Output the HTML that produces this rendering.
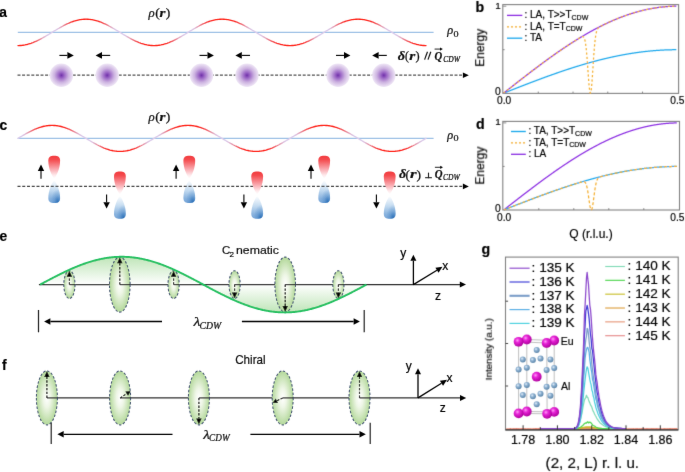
<!DOCTYPE html>
<html><head><meta charset="utf-8"><title>Figure</title>
<style>html,body{margin:0;padding:0;background:#fff;width:685px;height:472px;overflow:hidden;font-family:"Liberation Sans", sans-serif;} svg{display:block;}</style>
</head><body>
<svg width="685" height="472" viewBox="0 0 685 472"><style>.s{font-family:"Liberation Sans",sans-serif}.r{font-family:"Liberation Serif",serif}text{filter:url(#gs)}text.s{stroke:#000;stroke-width:0.18px}text.r{stroke:#000;stroke-width:0.2px}</style><defs><filter id="softL" filterUnits="userSpaceOnUse" x="0" y="0" width="685" height="472"><feConvolveMatrix order="3" kernelMatrix="0.0028 0.0470 0.0028 0.0470 0.8008 0.0470 0.0028 0.0470 0.0028" divisor="1" edgeMode="duplicate"/></filter><filter id="softR" filterUnits="userSpaceOnUse" x="0" y="0" width="685" height="472"><feConvolveMatrix order="3" kernelMatrix="0.0113 0.0838 0.0113 0.0838 0.6193 0.0838 0.0113 0.0838 0.0113" divisor="1" edgeMode="duplicate"/></filter><filter id="gs" x="-20%" y="-20%" width="140%" height="140%"><feColorMatrix type="saturate" values="0"/></filter>
<radialGradient id="gPurple" cx="50%" cy="50%" r="50%">
  <stop offset="0" stop-color="#7030aa"/>
  <stop offset="0.25" stop-color="#9c68c6"/>
  <stop offset="0.6" stop-color="#ccb2e0"/>
  <stop offset="1" stop-color="#efe7f6"/>
</radialGradient>
<linearGradient id="gRed" x1="0" y1="0" x2="0" y2="1">
  <stop offset="0" stop-color="#f23a3c"/>
  <stop offset="0.18" stop-color="#f44c50"/>
  <stop offset="0.55" stop-color="#f9a2a8"/>
  <stop offset="0.85" stop-color="#feeaec"/>
  <stop offset="1" stop-color="#ffffff"/>
</linearGradient>
<linearGradient id="gBlue" x1="0" y1="1" x2="0" y2="0">
  <stop offset="0" stop-color="#78a6d8"/>
  <stop offset="0.2" stop-color="#88b2de"/>
  <stop offset="0.55" stop-color="#c2daf0"/>
  <stop offset="0.85" stop-color="#eaf2fa"/>
  <stop offset="1" stop-color="#ffffff"/>
</linearGradient>
<radialGradient id="gBlue2" cx="0.8" cy="0.98" r="0.6" fx="0.8" fy="0.98">
  <stop offset="0" stop-color="#1c64b0" stop-opacity="0.85"/>
  <stop offset="0.5" stop-color="#2a70b8" stop-opacity="0.3"/>
  <stop offset="1" stop-color="#2a70b8" stop-opacity="0"/>
</radialGradient>
<radialGradient id="gEll" cx="50%" cy="50%" r="50%">
  <stop offset="0" stop-color="#ffffff"/>
  <stop offset="0.35" stop-color="#eef6e6"/>
  <stop offset="1" stop-color="#b3d89a"/>
</radialGradient>
<linearGradient id="gWaveUp" x1="0" y1="0" x2="0" y2="1">
  <stop offset="0" stop-color="#bfe5b8"/>
  <stop offset="1" stop-color="#ffffff"/>
</linearGradient>
<linearGradient id="gWaveDn" x1="0" y1="1" x2="0" y2="0">
  <stop offset="0" stop-color="#bfe5b8"/>
  <stop offset="1" stop-color="#ffffff"/>
</linearGradient>
<radialGradient id="gEu" cx="38%" cy="35%" r="65%">
  <stop offset="0" stop-color="#ff9cf6"/>
  <stop offset="0.35" stop-color="#e824d8"/>
  <stop offset="1" stop-color="#b0009e"/>
</radialGradient>
<radialGradient id="gAl" cx="38%" cy="35%" r="65%">
  <stop offset="0" stop-color="#e4eef8"/>
  <stop offset="0.4" stop-color="#8fb3d3"/>
  <stop offset="1" stop-color="#5a84a8"/>
</radialGradient>
<linearGradient id="rw1" gradientUnits="userSpaceOnUse" x1="18" y1="0" x2="426" y2="0"><stop offset="0.0000" stop-color="#ff2018"/><stop offset="0.0042" stop-color="#ff2018"/><stop offset="0.0083" stop-color="#ff2018"/><stop offset="0.0125" stop-color="#ff2119"/><stop offset="0.0167" stop-color="#ff221a"/><stop offset="0.0208" stop-color="#fe241d"/><stop offset="0.0250" stop-color="#fd2821"/><stop offset="0.0292" stop-color="#fc2e29"/><stop offset="0.0333" stop-color="#fa3633"/><stop offset="0.0375" stop-color="#f84141"/><stop offset="0.0417" stop-color="#f54f52"/><stop offset="0.0458" stop-color="#f15f66"/><stop offset="0.0500" stop-color="#ed717c"/><stop offset="0.0542" stop-color="#e98594"/><stop offset="0.0583" stop-color="#e598ad"/><stop offset="0.0625" stop-color="#e1abc3"/><stop offset="0.0667" stop-color="#ddbad7"/><stop offset="0.0708" stop-color="#dbc5e4"/><stop offset="0.0750" stop-color="#dacaea"/><stop offset="0.0792" stop-color="#dacaea"/><stop offset="0.0833" stop-color="#dacaea"/><stop offset="0.0875" stop-color="#dacaea"/><stop offset="0.0917" stop-color="#dacaea"/><stop offset="0.0958" stop-color="#dbc5e4"/><stop offset="0.1000" stop-color="#ddbad7"/><stop offset="0.1042" stop-color="#e1abc3"/><stop offset="0.1083" stop-color="#e598ad"/><stop offset="0.1125" stop-color="#e98594"/><stop offset="0.1167" stop-color="#ed717c"/><stop offset="0.1208" stop-color="#f15f66"/><stop offset="0.1250" stop-color="#f54f52"/><stop offset="0.1292" stop-color="#f84141"/><stop offset="0.1333" stop-color="#fa3633"/><stop offset="0.1375" stop-color="#fc2e29"/><stop offset="0.1417" stop-color="#fd2821"/><stop offset="0.1458" stop-color="#fe241d"/><stop offset="0.1500" stop-color="#ff221a"/><stop offset="0.1542" stop-color="#ff2119"/><stop offset="0.1583" stop-color="#ff2018"/><stop offset="0.1625" stop-color="#ff2018"/><stop offset="0.1667" stop-color="#ff2018"/><stop offset="0.1708" stop-color="#ff2018"/><stop offset="0.1750" stop-color="#ff2018"/><stop offset="0.1792" stop-color="#ff2119"/><stop offset="0.1833" stop-color="#ff221a"/><stop offset="0.1875" stop-color="#fe241d"/><stop offset="0.1917" stop-color="#fd2821"/><stop offset="0.1958" stop-color="#fc2e29"/><stop offset="0.2000" stop-color="#fa3633"/><stop offset="0.2042" stop-color="#f84141"/><stop offset="0.2083" stop-color="#f54f52"/><stop offset="0.2125" stop-color="#f15f66"/><stop offset="0.2167" stop-color="#ed717c"/><stop offset="0.2208" stop-color="#e98594"/><stop offset="0.2250" stop-color="#e598ad"/><stop offset="0.2292" stop-color="#e1abc3"/><stop offset="0.2333" stop-color="#ddbad7"/><stop offset="0.2375" stop-color="#dbc5e4"/><stop offset="0.2417" stop-color="#dacaea"/><stop offset="0.2458" stop-color="#dacaea"/><stop offset="0.2500" stop-color="#dacaea"/><stop offset="0.2542" stop-color="#dacaea"/><stop offset="0.2583" stop-color="#dacaea"/><stop offset="0.2625" stop-color="#dbc5e4"/><stop offset="0.2667" stop-color="#ddbad7"/><stop offset="0.2708" stop-color="#e1abc3"/><stop offset="0.2750" stop-color="#e598ad"/><stop offset="0.2792" stop-color="#e98594"/><stop offset="0.2833" stop-color="#ed717c"/><stop offset="0.2875" stop-color="#f15f66"/><stop offset="0.2917" stop-color="#f54f52"/><stop offset="0.2958" stop-color="#f84141"/><stop offset="0.3000" stop-color="#fa3633"/><stop offset="0.3042" stop-color="#fc2e29"/><stop offset="0.3083" stop-color="#fd2821"/><stop offset="0.3125" stop-color="#fe241d"/><stop offset="0.3167" stop-color="#ff221a"/><stop offset="0.3208" stop-color="#ff2119"/><stop offset="0.3250" stop-color="#ff2018"/><stop offset="0.3292" stop-color="#ff2018"/><stop offset="0.3333" stop-color="#ff2018"/><stop offset="0.3375" stop-color="#ff2018"/><stop offset="0.3417" stop-color="#ff2018"/><stop offset="0.3458" stop-color="#ff2119"/><stop offset="0.3500" stop-color="#ff221a"/><stop offset="0.3542" stop-color="#fe241d"/><stop offset="0.3583" stop-color="#fd2821"/><stop offset="0.3625" stop-color="#fc2e29"/><stop offset="0.3667" stop-color="#fa3633"/><stop offset="0.3708" stop-color="#f84141"/><stop offset="0.3750" stop-color="#f54f52"/><stop offset="0.3792" stop-color="#f15f66"/><stop offset="0.3833" stop-color="#ed717c"/><stop offset="0.3875" stop-color="#e98594"/><stop offset="0.3917" stop-color="#e598ad"/><stop offset="0.3958" stop-color="#e1abc3"/><stop offset="0.4000" stop-color="#ddbad7"/><stop offset="0.4042" stop-color="#dbc5e4"/><stop offset="0.4083" stop-color="#dacaea"/><stop offset="0.4125" stop-color="#dacaea"/><stop offset="0.4167" stop-color="#dacaea"/><stop offset="0.4208" stop-color="#dacaea"/><stop offset="0.4250" stop-color="#dacaea"/><stop offset="0.4292" stop-color="#dbc5e4"/><stop offset="0.4333" stop-color="#ddbad7"/><stop offset="0.4375" stop-color="#e1abc3"/><stop offset="0.4417" stop-color="#e598ad"/><stop offset="0.4458" stop-color="#e98594"/><stop offset="0.4500" stop-color="#ed717c"/><stop offset="0.4542" stop-color="#f15f66"/><stop offset="0.4583" stop-color="#f54f52"/><stop offset="0.4625" stop-color="#f84141"/><stop offset="0.4667" stop-color="#fa3633"/><stop offset="0.4708" stop-color="#fc2e29"/><stop offset="0.4750" stop-color="#fd2821"/><stop offset="0.4792" stop-color="#fe241d"/><stop offset="0.4833" stop-color="#ff221a"/><stop offset="0.4875" stop-color="#ff2119"/><stop offset="0.4917" stop-color="#ff2018"/><stop offset="0.4958" stop-color="#ff2018"/><stop offset="0.5000" stop-color="#ff2018"/><stop offset="0.5042" stop-color="#ff2018"/><stop offset="0.5083" stop-color="#ff2018"/><stop offset="0.5125" stop-color="#ff2119"/><stop offset="0.5167" stop-color="#ff221a"/><stop offset="0.5208" stop-color="#fe241d"/><stop offset="0.5250" stop-color="#fd2821"/><stop offset="0.5292" stop-color="#fc2e29"/><stop offset="0.5333" stop-color="#fa3633"/><stop offset="0.5375" stop-color="#f84141"/><stop offset="0.5417" stop-color="#f54f52"/><stop offset="0.5458" stop-color="#f15f66"/><stop offset="0.5500" stop-color="#ed717c"/><stop offset="0.5542" stop-color="#e98594"/><stop offset="0.5583" stop-color="#e598ad"/><stop offset="0.5625" stop-color="#e1abc3"/><stop offset="0.5667" stop-color="#ddbad7"/><stop offset="0.5708" stop-color="#dbc5e4"/><stop offset="0.5750" stop-color="#dacaea"/><stop offset="0.5792" stop-color="#dacaea"/><stop offset="0.5833" stop-color="#dacaea"/><stop offset="0.5875" stop-color="#dacaea"/><stop offset="0.5917" stop-color="#dacaea"/><stop offset="0.5958" stop-color="#dbc5e4"/><stop offset="0.6000" stop-color="#ddbad7"/><stop offset="0.6042" stop-color="#e1abc3"/><stop offset="0.6083" stop-color="#e598ad"/><stop offset="0.6125" stop-color="#e98594"/><stop offset="0.6167" stop-color="#ed717c"/><stop offset="0.6208" stop-color="#f15f66"/><stop offset="0.6250" stop-color="#f54f52"/><stop offset="0.6292" stop-color="#f84141"/><stop offset="0.6333" stop-color="#fa3633"/><stop offset="0.6375" stop-color="#fc2e29"/><stop offset="0.6417" stop-color="#fd2821"/><stop offset="0.6458" stop-color="#fe241d"/><stop offset="0.6500" stop-color="#ff221a"/><stop offset="0.6542" stop-color="#ff2119"/><stop offset="0.6583" stop-color="#ff2018"/><stop offset="0.6625" stop-color="#ff2018"/><stop offset="0.6667" stop-color="#ff2018"/><stop offset="0.6708" stop-color="#ff2018"/><stop offset="0.6750" stop-color="#ff2018"/><stop offset="0.6792" stop-color="#ff2119"/><stop offset="0.6833" stop-color="#ff221a"/><stop offset="0.6875" stop-color="#fe241d"/><stop offset="0.6917" stop-color="#fd2821"/><stop offset="0.6958" stop-color="#fc2e29"/><stop offset="0.7000" stop-color="#fa3633"/><stop offset="0.7042" stop-color="#f84141"/><stop offset="0.7083" stop-color="#f54f52"/><stop offset="0.7125" stop-color="#f15f66"/><stop offset="0.7167" stop-color="#ed717c"/><stop offset="0.7208" stop-color="#e98594"/><stop offset="0.7250" stop-color="#e598ad"/><stop offset="0.7292" stop-color="#e1abc3"/><stop offset="0.7333" stop-color="#ddbad7"/><stop offset="0.7375" stop-color="#dbc5e4"/><stop offset="0.7417" stop-color="#dacaea"/><stop offset="0.7458" stop-color="#dacaea"/><stop offset="0.7500" stop-color="#dacaea"/><stop offset="0.7542" stop-color="#dacaea"/><stop offset="0.7583" stop-color="#dacaea"/><stop offset="0.7625" stop-color="#dbc5e4"/><stop offset="0.7667" stop-color="#ddbad7"/><stop offset="0.7708" stop-color="#e1abc3"/><stop offset="0.7750" stop-color="#e598ad"/><stop offset="0.7792" stop-color="#e98594"/><stop offset="0.7833" stop-color="#ed717c"/><stop offset="0.7875" stop-color="#f15f66"/><stop offset="0.7917" stop-color="#f54f52"/><stop offset="0.7958" stop-color="#f84141"/><stop offset="0.8000" stop-color="#fa3633"/><stop offset="0.8042" stop-color="#fc2e29"/><stop offset="0.8083" stop-color="#fd2821"/><stop offset="0.8125" stop-color="#fe241d"/><stop offset="0.8167" stop-color="#ff221a"/><stop offset="0.8208" stop-color="#ff2119"/><stop offset="0.8250" stop-color="#ff2018"/><stop offset="0.8292" stop-color="#ff2018"/><stop offset="0.8333" stop-color="#ff2018"/><stop offset="0.8375" stop-color="#ff2018"/><stop offset="0.8417" stop-color="#ff2018"/><stop offset="0.8458" stop-color="#ff2119"/><stop offset="0.8500" stop-color="#ff221a"/><stop offset="0.8542" stop-color="#fe241d"/><stop offset="0.8583" stop-color="#fd2821"/><stop offset="0.8625" stop-color="#fc2e29"/><stop offset="0.8667" stop-color="#fa3633"/><stop offset="0.8708" stop-color="#f84141"/><stop offset="0.8750" stop-color="#f54f52"/><stop offset="0.8792" stop-color="#f15f66"/><stop offset="0.8833" stop-color="#ed717c"/><stop offset="0.8875" stop-color="#e98594"/><stop offset="0.8917" stop-color="#e598ad"/><stop offset="0.8958" stop-color="#e1abc3"/><stop offset="0.9000" stop-color="#ddbad7"/><stop offset="0.9042" stop-color="#dbc5e4"/><stop offset="0.9083" stop-color="#dacaea"/><stop offset="0.9125" stop-color="#dacaea"/><stop offset="0.9167" stop-color="#dacaea"/><stop offset="0.9208" stop-color="#dacaea"/><stop offset="0.9250" stop-color="#dacaea"/><stop offset="0.9292" stop-color="#dbc5e4"/><stop offset="0.9333" stop-color="#ddbad7"/><stop offset="0.9375" stop-color="#e1abc3"/><stop offset="0.9417" stop-color="#e598ad"/><stop offset="0.9458" stop-color="#e98594"/><stop offset="0.9500" stop-color="#ed717c"/><stop offset="0.9542" stop-color="#f15f66"/><stop offset="0.9583" stop-color="#f54f52"/><stop offset="0.9625" stop-color="#f84141"/><stop offset="0.9667" stop-color="#fa3633"/><stop offset="0.9708" stop-color="#fc2e29"/><stop offset="0.9750" stop-color="#fd2821"/><stop offset="0.9792" stop-color="#fe241d"/><stop offset="0.9833" stop-color="#ff221a"/><stop offset="0.9875" stop-color="#ff2119"/><stop offset="0.9917" stop-color="#ff2018"/><stop offset="0.9958" stop-color="#ff2018"/><stop offset="1.0000" stop-color="#ff2018"/></linearGradient><linearGradient id="rw2" gradientUnits="userSpaceOnUse" x1="18" y1="0" x2="426" y2="0"><stop offset="0.0000" stop-color="#dacaea"/><stop offset="0.0042" stop-color="#dacaea"/><stop offset="0.0083" stop-color="#dacaea"/><stop offset="0.0125" stop-color="#dbc5e4"/><stop offset="0.0167" stop-color="#ddbad7"/><stop offset="0.0208" stop-color="#e1abc3"/><stop offset="0.0250" stop-color="#e598ad"/><stop offset="0.0292" stop-color="#e98594"/><stop offset="0.0333" stop-color="#ed717c"/><stop offset="0.0375" stop-color="#f15f66"/><stop offset="0.0417" stop-color="#f54f52"/><stop offset="0.0458" stop-color="#f84141"/><stop offset="0.0500" stop-color="#fa3633"/><stop offset="0.0542" stop-color="#fc2e29"/><stop offset="0.0583" stop-color="#fd2821"/><stop offset="0.0625" stop-color="#fe241d"/><stop offset="0.0667" stop-color="#ff221a"/><stop offset="0.0708" stop-color="#ff2119"/><stop offset="0.0750" stop-color="#ff2018"/><stop offset="0.0792" stop-color="#ff2018"/><stop offset="0.0833" stop-color="#ff2018"/><stop offset="0.0875" stop-color="#ff2018"/><stop offset="0.0917" stop-color="#ff2018"/><stop offset="0.0958" stop-color="#ff2119"/><stop offset="0.1000" stop-color="#ff221a"/><stop offset="0.1042" stop-color="#fe241d"/><stop offset="0.1083" stop-color="#fd2821"/><stop offset="0.1125" stop-color="#fc2e29"/><stop offset="0.1167" stop-color="#fa3633"/><stop offset="0.1208" stop-color="#f84141"/><stop offset="0.1250" stop-color="#f54f52"/><stop offset="0.1292" stop-color="#f15f66"/><stop offset="0.1333" stop-color="#ed717c"/><stop offset="0.1375" stop-color="#e98594"/><stop offset="0.1417" stop-color="#e598ad"/><stop offset="0.1458" stop-color="#e1abc3"/><stop offset="0.1500" stop-color="#ddbad7"/><stop offset="0.1542" stop-color="#dbc5e4"/><stop offset="0.1583" stop-color="#dacaea"/><stop offset="0.1625" stop-color="#dacaea"/><stop offset="0.1667" stop-color="#dacaea"/><stop offset="0.1708" stop-color="#dacaea"/><stop offset="0.1750" stop-color="#dacaea"/><stop offset="0.1792" stop-color="#dbc5e4"/><stop offset="0.1833" stop-color="#ddbad7"/><stop offset="0.1875" stop-color="#e1abc3"/><stop offset="0.1917" stop-color="#e598ad"/><stop offset="0.1958" stop-color="#e98594"/><stop offset="0.2000" stop-color="#ed717c"/><stop offset="0.2042" stop-color="#f15f66"/><stop offset="0.2083" stop-color="#f54f52"/><stop offset="0.2125" stop-color="#f84141"/><stop offset="0.2167" stop-color="#fa3633"/><stop offset="0.2208" stop-color="#fc2e29"/><stop offset="0.2250" stop-color="#fd2821"/><stop offset="0.2292" stop-color="#fe241d"/><stop offset="0.2333" stop-color="#ff221a"/><stop offset="0.2375" stop-color="#ff2119"/><stop offset="0.2417" stop-color="#ff2018"/><stop offset="0.2458" stop-color="#ff2018"/><stop offset="0.2500" stop-color="#ff2018"/><stop offset="0.2542" stop-color="#ff2018"/><stop offset="0.2583" stop-color="#ff2018"/><stop offset="0.2625" stop-color="#ff2119"/><stop offset="0.2667" stop-color="#ff221a"/><stop offset="0.2708" stop-color="#fe241d"/><stop offset="0.2750" stop-color="#fd2821"/><stop offset="0.2792" stop-color="#fc2e29"/><stop offset="0.2833" stop-color="#fa3633"/><stop offset="0.2875" stop-color="#f84141"/><stop offset="0.2917" stop-color="#f54f52"/><stop offset="0.2958" stop-color="#f15f66"/><stop offset="0.3000" stop-color="#ed717c"/><stop offset="0.3042" stop-color="#e98594"/><stop offset="0.3083" stop-color="#e598ad"/><stop offset="0.3125" stop-color="#e1abc3"/><stop offset="0.3167" stop-color="#ddbad7"/><stop offset="0.3208" stop-color="#dbc5e4"/><stop offset="0.3250" stop-color="#dacaea"/><stop offset="0.3292" stop-color="#dacaea"/><stop offset="0.3333" stop-color="#dacaea"/><stop offset="0.3375" stop-color="#dacaea"/><stop offset="0.3417" stop-color="#dacaea"/><stop offset="0.3458" stop-color="#dbc5e4"/><stop offset="0.3500" stop-color="#ddbad7"/><stop offset="0.3542" stop-color="#e1abc3"/><stop offset="0.3583" stop-color="#e598ad"/><stop offset="0.3625" stop-color="#e98594"/><stop offset="0.3667" stop-color="#ed717c"/><stop offset="0.3708" stop-color="#f15f66"/><stop offset="0.3750" stop-color="#f54f52"/><stop offset="0.3792" stop-color="#f84141"/><stop offset="0.3833" stop-color="#fa3633"/><stop offset="0.3875" stop-color="#fc2e29"/><stop offset="0.3917" stop-color="#fd2821"/><stop offset="0.3958" stop-color="#fe241d"/><stop offset="0.4000" stop-color="#ff221a"/><stop offset="0.4042" stop-color="#ff2119"/><stop offset="0.4083" stop-color="#ff2018"/><stop offset="0.4125" stop-color="#ff2018"/><stop offset="0.4167" stop-color="#ff2018"/><stop offset="0.4208" stop-color="#ff2018"/><stop offset="0.4250" stop-color="#ff2018"/><stop offset="0.4292" stop-color="#ff2119"/><stop offset="0.4333" stop-color="#ff221a"/><stop offset="0.4375" stop-color="#fe241d"/><stop offset="0.4417" stop-color="#fd2821"/><stop offset="0.4458" stop-color="#fc2e29"/><stop offset="0.4500" stop-color="#fa3633"/><stop offset="0.4542" stop-color="#f84141"/><stop offset="0.4583" stop-color="#f54f52"/><stop offset="0.4625" stop-color="#f15f66"/><stop offset="0.4667" stop-color="#ed717c"/><stop offset="0.4708" stop-color="#e98594"/><stop offset="0.4750" stop-color="#e598ad"/><stop offset="0.4792" stop-color="#e1abc3"/><stop offset="0.4833" stop-color="#ddbad7"/><stop offset="0.4875" stop-color="#dbc5e4"/><stop offset="0.4917" stop-color="#dacaea"/><stop offset="0.4958" stop-color="#dacaea"/><stop offset="0.5000" stop-color="#dacaea"/><stop offset="0.5042" stop-color="#dacaea"/><stop offset="0.5083" stop-color="#dacaea"/><stop offset="0.5125" stop-color="#dbc5e4"/><stop offset="0.5167" stop-color="#ddbad7"/><stop offset="0.5208" stop-color="#e1abc3"/><stop offset="0.5250" stop-color="#e598ad"/><stop offset="0.5292" stop-color="#e98594"/><stop offset="0.5333" stop-color="#ed717c"/><stop offset="0.5375" stop-color="#f15f66"/><stop offset="0.5417" stop-color="#f54f52"/><stop offset="0.5458" stop-color="#f84141"/><stop offset="0.5500" stop-color="#fa3633"/><stop offset="0.5542" stop-color="#fc2e29"/><stop offset="0.5583" stop-color="#fd2821"/><stop offset="0.5625" stop-color="#fe241d"/><stop offset="0.5667" stop-color="#ff221a"/><stop offset="0.5708" stop-color="#ff2119"/><stop offset="0.5750" stop-color="#ff2018"/><stop offset="0.5792" stop-color="#ff2018"/><stop offset="0.5833" stop-color="#ff2018"/><stop offset="0.5875" stop-color="#ff2018"/><stop offset="0.5917" stop-color="#ff2018"/><stop offset="0.5958" stop-color="#ff2119"/><stop offset="0.6000" stop-color="#ff221a"/><stop offset="0.6042" stop-color="#fe241d"/><stop offset="0.6083" stop-color="#fd2821"/><stop offset="0.6125" stop-color="#fc2e29"/><stop offset="0.6167" stop-color="#fa3633"/><stop offset="0.6208" stop-color="#f84141"/><stop offset="0.6250" stop-color="#f54f52"/><stop offset="0.6292" stop-color="#f15f66"/><stop offset="0.6333" stop-color="#ed717c"/><stop offset="0.6375" stop-color="#e98594"/><stop offset="0.6417" stop-color="#e598ad"/><stop offset="0.6458" stop-color="#e1abc3"/><stop offset="0.6500" stop-color="#ddbad7"/><stop offset="0.6542" stop-color="#dbc5e4"/><stop offset="0.6583" stop-color="#dacaea"/><stop offset="0.6625" stop-color="#dacaea"/><stop offset="0.6667" stop-color="#dacaea"/><stop offset="0.6708" stop-color="#dacaea"/><stop offset="0.6750" stop-color="#dacaea"/><stop offset="0.6792" stop-color="#dbc5e4"/><stop offset="0.6833" stop-color="#ddbad7"/><stop offset="0.6875" stop-color="#e1abc3"/><stop offset="0.6917" stop-color="#e598ad"/><stop offset="0.6958" stop-color="#e98594"/><stop offset="0.7000" stop-color="#ed717c"/><stop offset="0.7042" stop-color="#f15f66"/><stop offset="0.7083" stop-color="#f54f52"/><stop offset="0.7125" stop-color="#f84141"/><stop offset="0.7167" stop-color="#fa3633"/><stop offset="0.7208" stop-color="#fc2e29"/><stop offset="0.7250" stop-color="#fd2821"/><stop offset="0.7292" stop-color="#fe241d"/><stop offset="0.7333" stop-color="#ff221a"/><stop offset="0.7375" stop-color="#ff2119"/><stop offset="0.7417" stop-color="#ff2018"/><stop offset="0.7458" stop-color="#ff2018"/><stop offset="0.7500" stop-color="#ff2018"/><stop offset="0.7542" stop-color="#ff2018"/><stop offset="0.7583" stop-color="#ff2018"/><stop offset="0.7625" stop-color="#ff2119"/><stop offset="0.7667" stop-color="#ff221a"/><stop offset="0.7708" stop-color="#fe241d"/><stop offset="0.7750" stop-color="#fd2821"/><stop offset="0.7792" stop-color="#fc2e29"/><stop offset="0.7833" stop-color="#fa3633"/><stop offset="0.7875" stop-color="#f84141"/><stop offset="0.7917" stop-color="#f54f52"/><stop offset="0.7958" stop-color="#f15f66"/><stop offset="0.8000" stop-color="#ed717c"/><stop offset="0.8042" stop-color="#e98594"/><stop offset="0.8083" stop-color="#e598ad"/><stop offset="0.8125" stop-color="#e1abc3"/><stop offset="0.8167" stop-color="#ddbad7"/><stop offset="0.8208" stop-color="#dbc5e4"/><stop offset="0.8250" stop-color="#dacaea"/><stop offset="0.8292" stop-color="#dacaea"/><stop offset="0.8333" stop-color="#dacaea"/><stop offset="0.8375" stop-color="#dacaea"/><stop offset="0.8417" stop-color="#dacaea"/><stop offset="0.8458" stop-color="#dbc5e4"/><stop offset="0.8500" stop-color="#ddbad7"/><stop offset="0.8542" stop-color="#e1abc3"/><stop offset="0.8583" stop-color="#e598ad"/><stop offset="0.8625" stop-color="#e98594"/><stop offset="0.8667" stop-color="#ed717c"/><stop offset="0.8708" stop-color="#f15f66"/><stop offset="0.8750" stop-color="#f54f52"/><stop offset="0.8792" stop-color="#f84141"/><stop offset="0.8833" stop-color="#fa3633"/><stop offset="0.8875" stop-color="#fc2e29"/><stop offset="0.8917" stop-color="#fd2821"/><stop offset="0.8958" stop-color="#fe241d"/><stop offset="0.9000" stop-color="#ff221a"/><stop offset="0.9042" stop-color="#ff2119"/><stop offset="0.9083" stop-color="#ff2018"/><stop offset="0.9125" stop-color="#ff2018"/><stop offset="0.9167" stop-color="#ff2018"/><stop offset="0.9208" stop-color="#ff2018"/><stop offset="0.9250" stop-color="#ff2018"/><stop offset="0.9292" stop-color="#ff2119"/><stop offset="0.9333" stop-color="#ff221a"/><stop offset="0.9375" stop-color="#fe241d"/><stop offset="0.9417" stop-color="#fd2821"/><stop offset="0.9458" stop-color="#fc2e29"/><stop offset="0.9500" stop-color="#fa3633"/><stop offset="0.9542" stop-color="#f84141"/><stop offset="0.9583" stop-color="#f54f52"/><stop offset="0.9625" stop-color="#f15f66"/><stop offset="0.9667" stop-color="#ed717c"/><stop offset="0.9708" stop-color="#e98594"/><stop offset="0.9750" stop-color="#e598ad"/><stop offset="0.9792" stop-color="#e1abc3"/><stop offset="0.9833" stop-color="#ddbad7"/><stop offset="0.9875" stop-color="#dbc5e4"/><stop offset="0.9917" stop-color="#dacaea"/><stop offset="0.9958" stop-color="#dacaea"/><stop offset="1.0000" stop-color="#dacaea"/></linearGradient></defs><rect width="685" height="472" fill="#fff"/><g filter="url(#softL)"><text x="-0.8" y="16.6" class="s" font-weight="bold" font-size="13.8" fill="#000">a</text>
<text transform="translate(148.43,17.1) scale(1.011,1)" class="r" font-style="italic" font-size="12.7" fill="#111">ρ</text>
<text transform="translate(155.2,17.1) scale(1.136,1)" class="r" font-size="12" fill="#111">(</text>
<text transform="translate(159.59,17.1) scale(1.131,1)" class="r" font-style="italic" font-weight="bold" font-size="13.4" fill="#111">r</text>
<text transform="translate(165.76,17.1) scale(1.136,1)" class="r" font-size="12" fill="#111">)</text>
<line x1="17.8" y1="32.4" x2="433.6" y2="32.4" stroke="#9fc1e6" stroke-width="1.3"/>
<polyline points="18,45.6 19,45.59 20,45.54 21,45.47 22,45.38 23,45.25 24,45.1 25,44.92 26,44.71 27,44.48 28,44.22 29,43.93 30,43.62 31,43.29 32,42.93 33,42.56 34,42.15 35,41.73 36,41.29 37,40.83 38,40.35 39,39.86 40,39.35 41,38.82 42,38.28 43,37.73 44,37.17 45,36.59 46,36.01 47,35.42 48,34.83 49,34.22 50,33.62 51,33.01 52,32.4 53,31.79 54,31.18 55,30.58 56,29.97 57,29.38 58,28.79 59,28.21 60,27.63 61,27.07 62,26.52 63,25.98 64,25.45 65,24.94 66,24.45 67,23.97 68,23.51 69,23.07 70,22.65 71,22.24 72,21.87 73,21.51 74,21.18 75,20.87 76,20.58 77,20.32 78,20.09 79,19.88 80,19.7 81,19.55 82,19.42 83,19.33 84,19.26 85,19.21 86,19.2 87,19.21 88,19.26 89,19.33 90,19.42 91,19.55 92,19.7 93,19.88 94,20.09 95,20.32 96,20.58 97,20.87 98,21.18 99,21.51 100,21.87 101,22.24 102,22.65 103,23.07 104,23.51 105,23.97 106,24.45 107,24.94 108,25.45 109,25.98 110,26.52 111,27.07 112,27.63 113,28.21 114,28.79 115,29.38 116,29.97 117,30.58 118,31.18 119,31.79 120,32.4 121,33.01 122,33.62 123,34.22 124,34.83 125,35.42 126,36.01 127,36.59 128,37.17 129,37.73 130,38.28 131,38.82 132,39.35 133,39.86 134,40.35 135,40.83 136,41.29 137,41.73 138,42.15 139,42.56 140,42.93 141,43.29 142,43.62 143,43.93 144,44.22 145,44.48 146,44.71 147,44.92 148,45.1 149,45.25 150,45.38 151,45.47 152,45.54 153,45.59 154,45.6 155,45.59 156,45.54 157,45.47 158,45.38 159,45.25 160,45.1 161,44.92 162,44.71 163,44.48 164,44.22 165,43.93 166,43.62 167,43.29 168,42.93 169,42.56 170,42.15 171,41.73 172,41.29 173,40.83 174,40.35 175,39.86 176,39.35 177,38.82 178,38.28 179,37.73 180,37.17 181,36.59 182,36.01 183,35.42 184,34.83 185,34.22 186,33.62 187,33.01 188,32.4 189,31.79 190,31.18 191,30.58 192,29.97 193,29.38 194,28.79 195,28.21 196,27.63 197,27.07 198,26.52 199,25.98 200,25.45 201,24.94 202,24.45 203,23.97 204,23.51 205,23.07 206,22.65 207,22.24 208,21.87 209,21.51 210,21.18 211,20.87 212,20.58 213,20.32 214,20.09 215,19.88 216,19.7 217,19.55 218,19.42 219,19.33 220,19.26 221,19.21 222,19.2 223,19.21 224,19.26 225,19.33 226,19.42 227,19.55 228,19.7 229,19.88 230,20.09 231,20.32 232,20.58 233,20.87 234,21.18 235,21.51 236,21.87 237,22.24 238,22.65 239,23.07 240,23.51 241,23.97 242,24.45 243,24.94 244,25.45 245,25.98 246,26.52 247,27.07 248,27.63 249,28.21 250,28.79 251,29.38 252,29.97 253,30.58 254,31.18 255,31.79 256,32.4 257,33.01 258,33.62 259,34.22 260,34.83 261,35.42 262,36.01 263,36.59 264,37.17 265,37.73 266,38.28 267,38.82 268,39.35 269,39.86 270,40.35 271,40.83 272,41.29 273,41.73 274,42.15 275,42.56 276,42.93 277,43.29 278,43.62 279,43.93 280,44.22 281,44.48 282,44.71 283,44.92 284,45.1 285,45.25 286,45.38 287,45.47 288,45.54 289,45.59 290,45.6 291,45.59 292,45.54 293,45.47 294,45.38 295,45.25 296,45.1 297,44.92 298,44.71 299,44.48 300,44.22 301,43.93 302,43.62 303,43.29 304,42.93 305,42.56 306,42.15 307,41.73 308,41.29 309,40.83 310,40.35 311,39.86 312,39.35 313,38.82 314,38.28 315,37.73 316,37.17 317,36.59 318,36.01 319,35.42 320,34.83 321,34.22 322,33.62 323,33.01 324,32.4 325,31.79 326,31.18 327,30.58 328,29.97 329,29.38 330,28.79 331,28.21 332,27.63 333,27.07 334,26.52 335,25.98 336,25.45 337,24.94 338,24.45 339,23.97 340,23.51 341,23.07 342,22.65 343,22.24 344,21.87 345,21.51 346,21.18 347,20.87 348,20.58 349,20.32 350,20.09 351,19.88 352,19.7 353,19.55 354,19.42 355,19.33 356,19.26 357,19.21 358,19.2 359,19.21 360,19.26 361,19.33 362,19.42 363,19.55 364,19.7 365,19.88 366,20.09 367,20.32 368,20.58 369,20.87 370,21.18 371,21.51 372,21.87 373,22.24 374,22.65 375,23.07 376,23.51 377,23.97 378,24.45 379,24.94 380,25.45 381,25.98 382,26.52 383,27.07 384,27.63 385,28.21 386,28.79 387,29.38 388,29.97 389,30.58 390,31.18 391,31.79 392,32.4 393,33.01 394,33.62 395,34.22 396,34.83 397,35.42 398,36.01 399,36.59 400,37.17 401,37.73 402,38.28 403,38.82 404,39.35 405,39.86 406,40.35 407,40.83 408,41.29 409,41.73 410,42.15 411,42.56 412,42.93 413,43.29 414,43.62 415,43.93 416,44.22 417,44.48 418,44.71 419,44.92 420,45.1 421,45.25 422,45.38 423,45.47 424,45.54 425,45.59 426,45.6" fill="none" stroke="url(#rw1)" stroke-width="1.35" stroke-linecap="round"/>
<text transform="translate(447.32,34.3) scale(1.001,1)" class="r" font-style="italic" font-size="12.4" fill="#111">ρ</text>
<text transform="translate(453.61,36.7) scale(1.180,1)" class="r" font-size="8.6" fill="#111">0</text>
<line x1="17.5" y1="75.2" x2="463.5" y2="75.2" stroke="#555" stroke-width="1.2" stroke-dasharray="3 1.6"/>
<path d="M468.8,75.2 L462.9,72.4 L462.9,78 Z" fill="#000"/>
<circle cx="61.4" cy="75.3" r="11.7" fill="url(#gPurple)"/>
<circle cx="107.2" cy="75.3" r="11.7" fill="url(#gPurple)"/>
<circle cx="201.5" cy="75.3" r="11.7" fill="url(#gPurple)"/>
<circle cx="247" cy="75.3" r="11.7" fill="url(#gPurple)"/>
<circle cx="338" cy="75.3" r="11.7" fill="url(#gPurple)"/>
<circle cx="383.8" cy="75.3" r="11.7" fill="url(#gPurple)"/>
<line x1="59.4" y1="55.4" x2="67.4" y2="55.4" stroke="#000" stroke-width="1.1"/>
<path d="M73.8,55.4 L67.4,52 L67.4,58.8 Z" fill="#000"/>
<line x1="110.2" y1="55.4" x2="102" y2="55.4" stroke="#000" stroke-width="1.1"/>
<path d="M95.6,55.4 L102,52 L102,58.8 Z" fill="#000"/>
<line x1="199.5" y1="55.4" x2="207.5" y2="55.4" stroke="#000" stroke-width="1.1"/>
<path d="M213.9,55.4 L207.5,52 L207.5,58.8 Z" fill="#000"/>
<line x1="250" y1="55.4" x2="241.8" y2="55.4" stroke="#000" stroke-width="1.1"/>
<path d="M235.4,55.4 L241.8,52 L241.8,58.8 Z" fill="#000"/>
<line x1="336" y1="55.4" x2="344" y2="55.4" stroke="#000" stroke-width="1.1"/>
<path d="M350.4,55.4 L344,52 L344,58.8 Z" fill="#000"/>
<line x1="386.8" y1="55.4" x2="378.6" y2="55.4" stroke="#000" stroke-width="1.1"/>
<path d="M372.2,55.4 L378.6,52 L378.6,58.8 Z" fill="#000"/>
<text transform="translate(397.68,60) scale(1.138,1)" class="r" font-style="italic" font-weight="bold" font-size="12.6" fill="#111">δ</text>
<text transform="translate(404.89,60) scale(0.957,1)" class="r" font-size="12.2" fill="#111">(</text>
<text transform="translate(409.28,60) scale(1.187,1)" class="r" font-style="italic" font-weight="bold" font-size="13" fill="#111">r</text>
<text transform="translate(415.4,60) scale(1.021,1)" class="r" font-size="12.2" fill="#111">)</text>
<line x1="424.6" y1="59.6" x2="427.5" y2="51.7" stroke="#1a1a1a" stroke-width="1.25"/>
<line x1="428.0" y1="59.6" x2="430.8" y2="51.7" stroke="#1a1a1a" stroke-width="1.25"/>
<text transform="translate(434.52,60) scale(0.819,1)" class="r" font-style="italic" font-weight="bold" font-size="13.0" fill="#111">Q</text>
<text transform="translate(443.28,61.6) scale(0.992,1)" class="r" font-style="italic" font-size="7.6" fill="#111">CDW</text>
<line x1="434.6" y1="49.1" x2="441.3" y2="49.1" stroke="#111" stroke-width="0.9"/>
<path d="M442.8,49.1 L440,47.5 L440,50.7 Z" fill="#111"/>
<text x="-0.5" y="129.9" class="s" font-weight="bold" font-size="13.8" fill="#000">c</text>
<text transform="translate(148.43,121.1) scale(1.011,1)" class="r" font-style="italic" font-size="12.7" fill="#111">ρ</text>
<text transform="translate(155.2,121.1) scale(1.136,1)" class="r" font-size="12" fill="#111">(</text>
<text transform="translate(159.59,121.1) scale(1.131,1)" class="r" font-style="italic" font-weight="bold" font-size="13.4" fill="#111">r</text>
<text transform="translate(165.76,121.1) scale(1.136,1)" class="r" font-size="12" fill="#111">)</text>
<line x1="17.8" y1="138.4" x2="433.6" y2="138.4" stroke="#9fc1e6" stroke-width="1.3"/>
<polyline points="18,138.4 19,137.8 20,137.2 21,136.6 22,136.01 23,135.42 24,134.84 25,134.27 26,133.7 27,133.15 28,132.61 29,132.07 30,131.56 31,131.05 32,130.57 33,130.09 34,129.64 35,129.21 36,128.79 37,128.4 38,128.03 39,127.68 40,127.35 41,127.04 42,126.76 43,126.51 44,126.28 45,126.07 46,125.9 47,125.75 48,125.62 49,125.52 50,125.46 51,125.41 52,125.4 53,125.41 54,125.46 55,125.52 56,125.62 57,125.75 58,125.9 59,126.07 60,126.28 61,126.51 62,126.76 63,127.04 64,127.35 65,127.68 66,128.03 67,128.4 68,128.79 69,129.21 70,129.64 71,130.09 72,130.57 73,131.05 74,131.56 75,132.07 76,132.61 77,133.15 78,133.7 79,134.27 80,134.84 81,135.42 82,136.01 83,136.6 84,137.2 85,137.8 86,138.4 87,139 88,139.6 89,140.2 90,140.79 91,141.38 92,141.96 93,142.53 94,143.1 95,143.65 96,144.19 97,144.73 98,145.24 99,145.75 100,146.23 101,146.71 102,147.16 103,147.59 104,148.01 105,148.4 106,148.77 107,149.12 108,149.45 109,149.76 110,150.04 111,150.29 112,150.52 113,150.73 114,150.9 115,151.05 116,151.18 117,151.28 118,151.34 119,151.39 120,151.4 121,151.39 122,151.34 123,151.28 124,151.18 125,151.05 126,150.9 127,150.73 128,150.52 129,150.29 130,150.04 131,149.76 132,149.45 133,149.12 134,148.77 135,148.4 136,148.01 137,147.59 138,147.16 139,146.71 140,146.23 141,145.75 142,145.24 143,144.73 144,144.19 145,143.65 146,143.1 147,142.53 148,141.96 149,141.38 150,140.79 151,140.2 152,139.6 153,139 154,138.4 155,137.8 156,137.2 157,136.6 158,136.01 159,135.42 160,134.84 161,134.27 162,133.7 163,133.15 164,132.61 165,132.07 166,131.56 167,131.05 168,130.57 169,130.09 170,129.64 171,129.21 172,128.79 173,128.4 174,128.03 175,127.68 176,127.35 177,127.04 178,126.76 179,126.51 180,126.28 181,126.07 182,125.9 183,125.75 184,125.62 185,125.52 186,125.46 187,125.41 188,125.4 189,125.41 190,125.46 191,125.52 192,125.62 193,125.75 194,125.9 195,126.07 196,126.28 197,126.51 198,126.76 199,127.04 200,127.35 201,127.68 202,128.03 203,128.4 204,128.79 205,129.21 206,129.64 207,130.09 208,130.57 209,131.05 210,131.56 211,132.07 212,132.61 213,133.15 214,133.7 215,134.27 216,134.84 217,135.42 218,136.01 219,136.6 220,137.2 221,137.8 222,138.4 223,139 224,139.6 225,140.2 226,140.79 227,141.38 228,141.96 229,142.53 230,143.1 231,143.65 232,144.19 233,144.73 234,145.24 235,145.75 236,146.23 237,146.71 238,147.16 239,147.59 240,148.01 241,148.4 242,148.77 243,149.12 244,149.45 245,149.76 246,150.04 247,150.29 248,150.52 249,150.73 250,150.9 251,151.05 252,151.18 253,151.28 254,151.34 255,151.39 256,151.4 257,151.39 258,151.34 259,151.28 260,151.18 261,151.05 262,150.9 263,150.73 264,150.52 265,150.29 266,150.04 267,149.76 268,149.45 269,149.12 270,148.77 271,148.4 272,148.01 273,147.59 274,147.16 275,146.71 276,146.23 277,145.75 278,145.24 279,144.73 280,144.19 281,143.65 282,143.1 283,142.53 284,141.96 285,141.38 286,140.79 287,140.2 288,139.6 289,139 290,138.4 291,137.8 292,137.2 293,136.6 294,136.01 295,135.42 296,134.84 297,134.27 298,133.7 299,133.15 300,132.61 301,132.07 302,131.56 303,131.05 304,130.57 305,130.09 306,129.64 307,129.21 308,128.79 309,128.4 310,128.03 311,127.68 312,127.35 313,127.04 314,126.76 315,126.51 316,126.28 317,126.07 318,125.9 319,125.75 320,125.62 321,125.52 322,125.46 323,125.41 324,125.4 325,125.41 326,125.46 327,125.52 328,125.62 329,125.75 330,125.9 331,126.07 332,126.28 333,126.51 334,126.76 335,127.04 336,127.35 337,127.68 338,128.03 339,128.4 340,128.79 341,129.21 342,129.64 343,130.09 344,130.57 345,131.05 346,131.56 347,132.07 348,132.61 349,133.15 350,133.7 351,134.27 352,134.84 353,135.42 354,136.01 355,136.6 356,137.2 357,137.8 358,138.4 359,139 360,139.6 361,140.2 362,140.79 363,141.38 364,141.96 365,142.53 366,143.1 367,143.65 368,144.19 369,144.73 370,145.24 371,145.75 372,146.23 373,146.71 374,147.16 375,147.59 376,148.01 377,148.4 378,148.77 379,149.12 380,149.45 381,149.76 382,150.04 383,150.29 384,150.52 385,150.73 386,150.9 387,151.05 388,151.18 389,151.28 390,151.34 391,151.39 392,151.4 393,151.39 394,151.34 395,151.28 396,151.18 397,151.05 398,150.9 399,150.73 400,150.52 401,150.29 402,150.04 403,149.76 404,149.45 405,149.12 406,148.77 407,148.4 408,148.01 409,147.59 410,147.16 411,146.71 412,146.23 413,145.75 414,145.24 415,144.73 416,144.19 417,143.65 418,143.1 419,142.53 420,141.96 421,141.38 422,140.79 423,140.2 424,139.6 425,139 426,138.4" fill="none" stroke="url(#rw2)" stroke-width="1.35" stroke-linecap="round"/>
<text transform="translate(447.32,138.6) scale(1.001,1)" class="r" font-style="italic" font-size="12.4" fill="#111">ρ</text>
<text transform="translate(453.61,141) scale(1.180,1)" class="r" font-size="8.6" fill="#111">0</text>
<path d="M468.8,186.4 L462.9,183.6 L462.9,189.2 Z" fill="#000"/>
<path d="M54.2,180.2 C51.6,183.4 48.3,190.4 48.3,198 C48.3,202 50.5,203 54.2,203 C57.9,203 60.1,202 60.1,198 C60.1,190.4 56.8,183.4 54.2,180.2 Z" fill="url(#gBlue)"/>
<path d="M54.2,180.2 C51.6,183.4 48.3,190.4 48.3,198 C48.3,202 50.5,203 54.2,203 C57.9,203 60.1,202 60.1,198 C60.1,190.4 56.8,183.4 54.2,180.2 Z" fill="url(#gBlue2)"/>
<line x1="41" y1="178.8" x2="41" y2="170.9" stroke="#000" stroke-width="1.1"/>
<path d="M41,164.5 L37.8,170.9 L44.2,170.9 Z" fill="#000"/>
<path d="M119.9,196 C117.3,199.2 114,206.2 114,213.8 C114,217.8 116.2,218.8 119.9,218.8 C123.6,218.8 125.8,217.8 125.8,213.8 C125.8,206.2 122.5,199.2 119.9,196 Z" fill="url(#gBlue)"/>
<path d="M119.9,196 C117.3,199.2 114,206.2 114,213.8 C114,217.8 116.2,218.8 119.9,218.8 C123.6,218.8 125.8,217.8 125.8,213.8 C125.8,206.2 122.5,199.2 119.9,196 Z" fill="url(#gBlue2)"/>
<line x1="106.6" y1="194.6" x2="106.6" y2="202.2" stroke="#000" stroke-width="1.1"/>
<path d="M106.6,208.6 L103.4,202.2 L109.8,202.2 Z" fill="#000"/>
<path d="M189.3,180.2 C186.7,183.4 183.4,190.4 183.4,198 C183.4,202 185.6,203 189.3,203 C193,203 195.2,202 195.2,198 C195.2,190.4 191.9,183.4 189.3,180.2 Z" fill="url(#gBlue)"/>
<path d="M189.3,180.2 C186.7,183.4 183.4,190.4 183.4,198 C183.4,202 185.6,203 189.3,203 C193,203 195.2,202 195.2,198 C195.2,190.4 191.9,183.4 189.3,180.2 Z" fill="url(#gBlue2)"/>
<line x1="176.1" y1="178.8" x2="176.1" y2="170.9" stroke="#000" stroke-width="1.1"/>
<path d="M176.1,164.5 L172.9,170.9 L179.3,170.9 Z" fill="#000"/>
<path d="M257.2,196 C254.6,199.2 251.3,206.2 251.3,213.8 C251.3,217.8 253.5,218.8 257.2,218.8 C260.9,218.8 263.1,217.8 263.1,213.8 C263.1,206.2 259.8,199.2 257.2,196 Z" fill="url(#gBlue)"/>
<path d="M257.2,196 C254.6,199.2 251.3,206.2 251.3,213.8 C251.3,217.8 253.5,218.8 257.2,218.8 C260.9,218.8 263.1,217.8 263.1,213.8 C263.1,206.2 259.8,199.2 257.2,196 Z" fill="url(#gBlue2)"/>
<line x1="243.9" y1="194.6" x2="243.9" y2="202.2" stroke="#000" stroke-width="1.1"/>
<path d="M243.9,208.6 L240.7,202.2 L247.1,202.2 Z" fill="#000"/>
<path d="M324.2,180.2 C321.6,183.4 318.3,190.4 318.3,198 C318.3,202 320.5,203 324.2,203 C327.9,203 330.1,202 330.1,198 C330.1,190.4 326.8,183.4 324.2,180.2 Z" fill="url(#gBlue)"/>
<path d="M324.2,180.2 C321.6,183.4 318.3,190.4 318.3,198 C318.3,202 320.5,203 324.2,203 C327.9,203 330.1,202 330.1,198 C330.1,190.4 326.8,183.4 324.2,180.2 Z" fill="url(#gBlue2)"/>
<line x1="311" y1="178.8" x2="311" y2="170.9" stroke="#000" stroke-width="1.1"/>
<path d="M311,164.5 L307.8,170.9 L314.2,170.9 Z" fill="#000"/>
<path d="M389.7,196 C387.1,199.2 383.8,206.2 383.8,213.8 C383.8,217.8 386,218.8 389.7,218.8 C393.4,218.8 395.6,217.8 395.6,213.8 C395.6,206.2 392.3,199.2 389.7,196 Z" fill="url(#gBlue)"/>
<path d="M389.7,196 C387.1,199.2 383.8,206.2 383.8,213.8 C383.8,217.8 386,218.8 389.7,218.8 C393.4,218.8 395.6,217.8 395.6,213.8 C395.6,206.2 392.3,199.2 389.7,196 Z" fill="url(#gBlue2)"/>
<line x1="376.4" y1="194.6" x2="376.4" y2="202.2" stroke="#000" stroke-width="1.1"/>
<path d="M376.4,208.6 L373.2,202.2 L379.6,202.2 Z" fill="#000"/>
<line x1="17.5" y1="186.4" x2="463.5" y2="186.4" stroke="#484848" stroke-width="1.2" stroke-dasharray="3 1.75"/>
<path d="M54.2,178.6 C51.6,175.4 48.3,168.4 48.3,160.8 C48.3,156.8 50.5,155.8 54.2,155.8 C57.9,155.8 60.1,156.8 60.1,160.8 C60.1,168.4 56.8,175.4 54.2,178.6 Z" fill="url(#gRed)"/>
<path d="M119.9,194.4 C117.3,191.2 114,184.2 114,176.6 C114,172.6 116.2,171.6 119.9,171.6 C123.6,171.6 125.8,172.6 125.8,176.6 C125.8,184.2 122.5,191.2 119.9,194.4 Z" fill="url(#gRed)"/>
<path d="M189.3,178.6 C186.7,175.4 183.4,168.4 183.4,160.8 C183.4,156.8 185.6,155.8 189.3,155.8 C193,155.8 195.2,156.8 195.2,160.8 C195.2,168.4 191.9,175.4 189.3,178.6 Z" fill="url(#gRed)"/>
<path d="M257.2,194.4 C254.6,191.2 251.3,184.2 251.3,176.6 C251.3,172.6 253.5,171.6 257.2,171.6 C260.9,171.6 263.1,172.6 263.1,176.6 C263.1,184.2 259.8,191.2 257.2,194.4 Z" fill="url(#gRed)"/>
<path d="M324.2,178.6 C321.6,175.4 318.3,168.4 318.3,160.8 C318.3,156.8 320.5,155.8 324.2,155.8 C327.9,155.8 330.1,156.8 330.1,160.8 C330.1,168.4 326.8,175.4 324.2,178.6 Z" fill="url(#gRed)"/>
<path d="M389.7,194.4 C387.1,191.2 383.8,184.2 383.8,176.6 C383.8,172.6 386,171.6 389.7,171.6 C393.4,171.6 395.6,172.6 395.6,176.6 C395.6,184.2 392.3,191.2 389.7,194.4 Z" fill="url(#gRed)"/>
<text transform="translate(398.88,178.4) scale(1.121,1)" class="r" font-style="italic" font-weight="bold" font-size="12.6" fill="#111">δ</text>
<text transform="translate(405.44,178.7) scale(1.053,1)" class="r" font-size="12.2" fill="#111">(</text>
<text transform="translate(409.95,178.4) scale(1.309,1)" class="r" font-style="italic" font-weight="bold" font-size="13" fill="#111">r</text>
<text transform="translate(416.56,178.7) scale(1.117,1)" class="r" font-size="12.2" fill="#111">)</text>
<line x1="425.1" y1="177.7" x2="431.9" y2="177.7" stroke="#222" stroke-width="1.1"/>
<line x1="428.5" y1="172.6" x2="428.5" y2="178.2" stroke="#222" stroke-width="1.1"/>
<text transform="translate(434.71,178.4) scale(0.830,1)" class="r" font-style="italic" font-weight="bold" font-size="13.0" fill="#111">Q</text>
<text transform="translate(443.08,180.2) scale(0.992,1)" class="r" font-style="italic" font-size="7.6" fill="#111">CDW</text>
<line x1="434.9" y1="167.3" x2="441.5" y2="167.3" stroke="#111" stroke-width="0.9"/>
<path d="M443.0,167.3 L440.2,165.7 L440.2,168.9 Z" fill="#111"/>
<text x="-0.5" y="240.8" class="s" font-weight="bold" font-size="13.8" fill="#000">e</text>
<path d="M40.2,284.6 L41.02,284.16 L41.83,283.73 L42.65,283.29 L43.46,282.85 L44.28,282.42 L45.09,281.98 L45.91,281.55 L46.72,281.12 L47.54,280.68 L48.36,280.25 L49.17,279.82 L49.99,279.39 L50.8,278.96 L51.62,278.54 L52.43,278.11 L53.25,277.69 L54.06,277.26 L54.88,276.84 L55.69,276.43 L56.51,276.01 L57.33,275.6 L58.14,275.18 L58.96,274.77 L59.77,274.37 L60.59,273.96 L61.4,273.56 L62.22,273.16 L63.03,272.76 L63.85,272.37 L64.67,271.98 L65.48,271.59 L66.3,271.21 L67.11,270.83 L67.93,270.45 L68.74,270.07 L69.56,269.7 L70.37,269.34 L71.19,268.97 L72,268.61 L72.82,268.26 L73.64,267.91 L74.45,267.56 L75.27,267.22 L76.08,266.88 L76.9,266.55 L77.71,266.22 L78.53,265.89 L79.34,265.57 L80.16,265.25 L80.97,264.94 L81.79,264.64 L82.61,264.33 L83.42,264.04 L84.24,263.75 L85.05,263.46 L85.87,263.18 L86.68,262.9 L87.5,262.63 L88.31,262.37 L89.13,262.11 L89.95,261.86 L90.76,261.61 L91.58,261.36 L92.39,261.13 L93.21,260.9 L94.02,260.67 L94.84,260.45 L95.65,260.24 L96.47,260.03 L97.28,259.83 L98.1,259.63 L98.92,259.45 L99.73,259.26 L100.55,259.09 L101.36,258.92 L102.18,258.75 L102.99,258.59 L103.81,258.44 L104.62,258.3 L105.44,258.16 L106.26,258.03 L107.07,257.9 L107.89,257.79 L108.7,257.67 L109.52,257.57 L110.33,257.47 L111.15,257.38 L111.96,257.29 L112.78,257.21 L113.59,257.14 L114.41,257.08 L115.23,257.02 L116.04,256.97 L116.86,256.92 L117.67,256.89 L118.49,256.85 L119.3,256.83 L120.12,256.81 L120.93,256.8 L121.75,256.8 L122.57,256.8 L123.38,256.81 L124.2,256.83 L125.01,256.85 L125.83,256.89 L126.64,256.92 L127.46,256.97 L128.27,257.02 L129.09,257.08 L129.91,257.14 L130.72,257.21 L131.54,257.29 L132.35,257.38 L133.17,257.47 L133.98,257.57 L134.8,257.67 L135.61,257.79 L136.43,257.9 L137.24,258.03 L138.06,258.16 L138.88,258.3 L139.69,258.44 L140.51,258.59 L141.32,258.75 L142.14,258.92 L142.95,259.09 L143.77,259.26 L144.58,259.45 L145.4,259.63 L146.22,259.83 L147.03,260.03 L147.85,260.24 L148.66,260.45 L149.48,260.67 L150.29,260.9 L151.11,261.13 L151.92,261.36 L152.74,261.61 L153.55,261.86 L154.37,262.11 L155.19,262.37 L156,262.63 L156.82,262.9 L157.63,263.18 L158.45,263.46 L159.26,263.75 L160.08,264.04 L160.89,264.33 L161.71,264.64 L162.53,264.94 L163.34,265.25 L164.16,265.57 L164.97,265.89 L165.79,266.22 L166.6,266.55 L167.42,266.88 L168.23,267.22 L169.05,267.56 L169.86,267.91 L170.68,268.26 L171.5,268.61 L172.31,268.97 L173.13,269.34 L173.94,269.7 L174.76,270.07 L175.57,270.45 L176.39,270.83 L177.2,271.21 L178.02,271.59 L178.83,271.98 L179.65,272.37 L180.47,272.76 L181.28,273.16 L182.1,273.56 L182.91,273.96 L183.73,274.37 L184.54,274.77 L185.36,275.18 L186.17,275.6 L186.99,276.01 L187.81,276.43 L188.62,276.84 L189.44,277.26 L190.25,277.69 L191.07,278.11 L191.88,278.54 L192.7,278.96 L193.51,279.39 L194.33,279.82 L195.14,280.25 L195.96,280.68 L196.78,281.12 L197.59,281.55 L198.41,281.98 L199.22,282.42 L200.04,282.85 L200.85,283.29 L201.67,283.73 L202.48,284.16 L203.3,284.6 Z" fill="url(#gWaveUp)"/>
<path d="M203.3,284.6 L204.12,285.04 L204.93,285.47 L205.75,285.91 L206.56,286.35 L207.38,286.78 L208.19,287.22 L209.01,287.65 L209.82,288.08 L210.64,288.52 L211.46,288.95 L212.27,289.38 L213.09,289.81 L213.9,290.24 L214.72,290.66 L215.53,291.09 L216.35,291.51 L217.16,291.94 L217.98,292.36 L218.79,292.77 L219.61,293.19 L220.43,293.6 L221.24,294.02 L222.06,294.43 L222.87,294.83 L223.69,295.24 L224.5,295.64 L225.32,296.04 L226.13,296.44 L226.95,296.83 L227.77,297.22 L228.58,297.61 L229.4,297.99 L230.21,298.37 L231.03,298.75 L231.84,299.13 L232.66,299.5 L233.47,299.86 L234.29,300.23 L235.1,300.59 L235.92,300.94 L236.74,301.29 L237.55,301.64 L238.37,301.98 L239.18,302.32 L240,302.65 L240.81,302.98 L241.63,303.31 L242.44,303.63 L243.26,303.95 L244.08,304.26 L244.89,304.56 L245.71,304.87 L246.52,305.16 L247.34,305.45 L248.15,305.74 L248.97,306.02 L249.78,306.3 L250.6,306.57 L251.41,306.83 L252.23,307.09 L253.05,307.34 L253.86,307.59 L254.68,307.84 L255.49,308.07 L256.31,308.3 L257.12,308.53 L257.94,308.75 L258.75,308.96 L259.57,309.17 L260.38,309.37 L261.2,309.57 L262.02,309.75 L262.83,309.94 L263.65,310.11 L264.46,310.28 L265.28,310.45 L266.09,310.61 L266.91,310.76 L267.72,310.9 L268.54,311.04 L269.36,311.17 L270.17,311.3 L270.99,311.41 L271.8,311.53 L272.62,311.63 L273.43,311.73 L274.25,311.82 L275.06,311.91 L275.88,311.99 L276.69,312.06 L277.51,312.12 L278.33,312.18 L279.14,312.23 L279.96,312.28 L280.77,312.31 L281.59,312.35 L282.4,312.37 L283.22,312.39 L284.03,312.4 L284.85,312.4 L285.67,312.4 L286.48,312.39 L287.3,312.37 L288.11,312.35 L288.93,312.31 L289.74,312.28 L290.56,312.23 L291.37,312.18 L292.19,312.12 L293,312.06 L293.82,311.99 L294.64,311.91 L295.45,311.82 L296.27,311.73 L297.08,311.63 L297.9,311.53 L298.71,311.41 L299.53,311.3 L300.34,311.17 L301.16,311.04 L301.98,310.9 L302.79,310.76 L303.61,310.61 L304.42,310.45 L305.24,310.28 L306.05,310.11 L306.87,309.94 L307.68,309.75 L308.5,309.57 L309.31,309.37 L310.13,309.17 L310.95,308.96 L311.76,308.75 L312.58,308.53 L313.39,308.3 L314.21,308.07 L315.02,307.84 L315.84,307.59 L316.65,307.34 L317.47,307.09 L318.29,306.83 L319.1,306.57 L319.92,306.3 L320.73,306.02 L321.55,305.74 L322.36,305.45 L323.18,305.16 L323.99,304.87 L324.81,304.56 L325.62,304.26 L326.44,303.95 L327.26,303.63 L328.07,303.31 L328.89,302.98 L329.7,302.65 L330.52,302.32 L331.33,301.98 L332.15,301.64 L332.96,301.29 L333.78,300.94 L334.6,300.59 L335.41,300.23 L336.23,299.86 L337.04,299.5 L337.86,299.13 L338.67,298.75 L339.49,298.37 L340.3,297.99 L341.12,297.61 L341.94,297.22 L342.75,296.83 L343.57,296.44 L344.38,296.04 L345.2,295.64 L346.01,295.24 L346.83,294.83 L347.64,294.43 L348.46,294.02 L349.27,293.6 L350.09,293.19 L350.91,292.77 L351.72,292.36 L352.54,291.94 L353.35,291.51 L354.17,291.09 L354.98,290.66 L355.8,290.24 L356.61,289.81 L357.43,289.38 L358.25,288.95 L359.06,288.52 L359.88,288.08 L360.69,287.65 L361.51,287.22 L362.32,286.78 L363.14,286.35 L363.95,285.91 L364.77,285.47 L365.58,285.04 L366.4,284.6 Z" fill="url(#gWaveDn)"/>
<line x1="38.9" y1="284.6" x2="460" y2="284.6" stroke="#333" stroke-width="1.2"/>
<path d="M466,284.6 L459.8,281.6 L459.8,287.6 Z" fill="#000"/>
<ellipse cx="69.4" cy="284.6" rx="5.6" ry="13.9" fill="url(#gEll)" stroke="#3c4d70" stroke-width="1.05" stroke-dasharray="2.5 1.7"/>
<line x1="69.4" y1="284.6" x2="75" y2="284.6" stroke="#333" stroke-width="1.2"/>
<line x1="69.4" y1="284.6" x2="69.4" y2="276.8" stroke="#000" stroke-width="1.15" stroke-dasharray="2.4 1.4"/>
<path d="M69.4,271 L72.1,276.8 L66.7,276.8 Z" fill="#000"/>
<ellipse cx="119.8" cy="284.6" rx="10.3" ry="27.5" fill="url(#gEll)" stroke="#3c4d70" stroke-width="1.05" stroke-dasharray="2.5 1.7"/>
<line x1="119.8" y1="284.6" x2="130.1" y2="284.6" stroke="#333" stroke-width="1.2"/>
<line x1="119.8" y1="284.6" x2="119.8" y2="263.2" stroke="#000" stroke-width="1.15" stroke-dasharray="2.4 1.4"/>
<path d="M119.8,257.4 L122.5,263.2 L117.1,263.2 Z" fill="#000"/>
<ellipse cx="173.6" cy="284.6" rx="5.6" ry="13.9" fill="url(#gEll)" stroke="#3c4d70" stroke-width="1.05" stroke-dasharray="2.5 1.7"/>
<line x1="173.6" y1="284.6" x2="179.2" y2="284.6" stroke="#333" stroke-width="1.2"/>
<line x1="173.6" y1="284.6" x2="173.6" y2="276.8" stroke="#000" stroke-width="1.15" stroke-dasharray="2.4 1.4"/>
<path d="M173.6,271 L176.3,276.8 L170.9,276.8 Z" fill="#000"/>
<ellipse cx="234.6" cy="284.6" rx="5.6" ry="13.9" fill="url(#gEll)" stroke="#3c4d70" stroke-width="1.05" stroke-dasharray="2.5 1.7"/>
<line x1="234.6" y1="284.6" x2="240.2" y2="284.6" stroke="#333" stroke-width="1.2"/>
<line x1="234.6" y1="284.6" x2="234.6" y2="292.4" stroke="#000" stroke-width="1.15" stroke-dasharray="2.4 1.4"/>
<path d="M234.6,298.2 L231.9,292.4 L237.3,292.4 Z" fill="#000"/>
<ellipse cx="285.2" cy="284.6" rx="10.3" ry="27.5" fill="url(#gEll)" stroke="#3c4d70" stroke-width="1.05" stroke-dasharray="2.5 1.7"/>
<line x1="285.2" y1="284.6" x2="295.5" y2="284.6" stroke="#333" stroke-width="1.2"/>
<line x1="285.2" y1="284.6" x2="285.2" y2="306" stroke="#000" stroke-width="1.15" stroke-dasharray="2.4 1.4"/>
<path d="M285.2,311.8 L282.5,306 L287.9,306 Z" fill="#000"/>
<ellipse cx="338.4" cy="284.6" rx="5.6" ry="13.9" fill="url(#gEll)" stroke="#3c4d70" stroke-width="1.05" stroke-dasharray="2.5 1.7"/>
<line x1="338.4" y1="284.6" x2="344" y2="284.6" stroke="#333" stroke-width="1.2"/>
<line x1="338.4" y1="284.6" x2="338.4" y2="292.4" stroke="#000" stroke-width="1.15" stroke-dasharray="2.4 1.4"/>
<path d="M338.4,298.2 L335.7,292.4 L341.1,292.4 Z" fill="#000"/>
<polyline points="40.2,284.6 41.02,284.16 41.83,283.73 42.65,283.29 43.46,282.85 44.28,282.42 45.09,281.98 45.91,281.55 46.72,281.12 47.54,280.68 48.36,280.25 49.17,279.82 49.99,279.39 50.8,278.96 51.62,278.54 52.43,278.11 53.25,277.69 54.06,277.26 54.88,276.84 55.69,276.43 56.51,276.01 57.33,275.6 58.14,275.18 58.96,274.77 59.77,274.37 60.59,273.96 61.4,273.56 62.22,273.16 63.03,272.76 63.85,272.37 64.67,271.98 65.48,271.59 66.3,271.21 67.11,270.83 67.93,270.45 68.74,270.07 69.56,269.7 70.37,269.34 71.19,268.97 72,268.61 72.82,268.26 73.64,267.91 74.45,267.56 75.27,267.22 76.08,266.88 76.9,266.55 77.71,266.22 78.53,265.89 79.34,265.57 80.16,265.25 80.97,264.94 81.79,264.64 82.61,264.33 83.42,264.04 84.24,263.75 85.05,263.46 85.87,263.18 86.68,262.9 87.5,262.63 88.31,262.37 89.13,262.11 89.95,261.86 90.76,261.61 91.58,261.36 92.39,261.13 93.21,260.9 94.02,260.67 94.84,260.45 95.65,260.24 96.47,260.03 97.28,259.83 98.1,259.63 98.92,259.45 99.73,259.26 100.55,259.09 101.36,258.92 102.18,258.75 102.99,258.59 103.81,258.44 104.62,258.3 105.44,258.16 106.26,258.03 107.07,257.9 107.89,257.79 108.7,257.67 109.52,257.57 110.33,257.47 111.15,257.38 111.96,257.29 112.78,257.21 113.59,257.14 114.41,257.08 115.23,257.02 116.04,256.97 116.86,256.92 117.67,256.89 118.49,256.85 119.3,256.83 120.12,256.81 120.93,256.8 121.75,256.8 122.57,256.8 123.38,256.81 124.2,256.83 125.01,256.85 125.83,256.89 126.64,256.92 127.46,256.97 128.27,257.02 129.09,257.08 129.91,257.14 130.72,257.21 131.54,257.29 132.35,257.38 133.17,257.47 133.98,257.57 134.8,257.67 135.61,257.79 136.43,257.9 137.24,258.03 138.06,258.16 138.88,258.3 139.69,258.44 140.51,258.59 141.32,258.75 142.14,258.92 142.95,259.09 143.77,259.26 144.58,259.45 145.4,259.63 146.22,259.83 147.03,260.03 147.85,260.24 148.66,260.45 149.48,260.67 150.29,260.9 151.11,261.13 151.92,261.36 152.74,261.61 153.55,261.86 154.37,262.11 155.19,262.37 156,262.63 156.82,262.9 157.63,263.18 158.45,263.46 159.26,263.75 160.08,264.04 160.89,264.33 161.71,264.64 162.53,264.94 163.34,265.25 164.16,265.57 164.97,265.89 165.79,266.22 166.6,266.55 167.42,266.88 168.23,267.22 169.05,267.56 169.86,267.91 170.68,268.26 171.5,268.61 172.31,268.97 173.13,269.34 173.94,269.7 174.76,270.07 175.57,270.45 176.39,270.83 177.2,271.21 178.02,271.59 178.83,271.98 179.65,272.37 180.47,272.76 181.28,273.16 182.1,273.56 182.91,273.96 183.73,274.37 184.54,274.77 185.36,275.18 186.17,275.6 186.99,276.01 187.81,276.43 188.62,276.84 189.44,277.26 190.25,277.69 191.07,278.11 191.88,278.54 192.7,278.96 193.51,279.39 194.33,279.82 195.14,280.25 195.96,280.68 196.78,281.12 197.59,281.55 198.41,281.98 199.22,282.42 200.04,282.85 200.85,283.29 201.67,283.73 202.48,284.16 203.3,284.6 204.12,285.04 204.93,285.47 205.75,285.91 206.56,286.35 207.38,286.78 208.19,287.22 209.01,287.65 209.82,288.08 210.64,288.52 211.45,288.95 212.27,289.38 213.09,289.81 213.9,290.24 214.72,290.66 215.53,291.09 216.35,291.51 217.16,291.94 217.98,292.36 218.79,292.77 219.61,293.19 220.43,293.6 221.24,294.02 222.06,294.43 222.87,294.83 223.69,295.24 224.5,295.64 225.32,296.04 226.13,296.44 226.95,296.83 227.76,297.22 228.58,297.61 229.4,297.99 230.21,298.37 231.03,298.75 231.84,299.13 232.66,299.5 233.47,299.86 234.29,300.23 235.1,300.59 235.92,300.94 236.74,301.29 237.55,301.64 238.37,301.98 239.18,302.32 240,302.65 240.81,302.98 241.63,303.31 242.44,303.63 243.26,303.95 244.07,304.26 244.89,304.56 245.71,304.87 246.52,305.16 247.34,305.45 248.15,305.74 248.97,306.02 249.78,306.3 250.6,306.57 251.41,306.83 252.23,307.09 253.05,307.34 253.86,307.59 254.68,307.84 255.49,308.07 256.31,308.3 257.12,308.53 257.94,308.75 258.75,308.96 259.57,309.17 260.38,309.37 261.2,309.57 262.02,309.75 262.83,309.94 263.65,310.11 264.46,310.28 265.28,310.45 266.09,310.61 266.91,310.76 267.72,310.9 268.54,311.04 269.36,311.17 270.17,311.3 270.99,311.41 271.8,311.53 272.62,311.63 273.43,311.73 274.25,311.82 275.06,311.91 275.88,311.99 276.69,312.06 277.51,312.12 278.33,312.18 279.14,312.23 279.96,312.28 280.77,312.31 281.59,312.35 282.4,312.37 283.22,312.39 284.03,312.4 284.85,312.4 285.67,312.4 286.48,312.39 287.3,312.37 288.11,312.35 288.93,312.31 289.74,312.28 290.56,312.23 291.37,312.18 292.19,312.12 293,312.06 293.82,311.99 294.64,311.91 295.45,311.82 296.27,311.73 297.08,311.63 297.9,311.53 298.71,311.41 299.53,311.3 300.34,311.17 301.16,311.04 301.98,310.9 302.79,310.76 303.61,310.61 304.42,310.45 305.24,310.28 306.05,310.11 306.87,309.94 307.68,309.75 308.5,309.57 309.31,309.37 310.13,309.17 310.95,308.96 311.76,308.75 312.58,308.53 313.39,308.3 314.21,308.07 315.02,307.84 315.84,307.59 316.65,307.34 317.47,307.09 318.29,306.83 319.1,306.57 319.92,306.3 320.73,306.02 321.55,305.74 322.36,305.45 323.18,305.16 323.99,304.87 324.81,304.56 325.62,304.26 326.44,303.95 327.26,303.63 328.07,303.31 328.89,302.98 329.7,302.65 330.52,302.32 331.33,301.98 332.15,301.64 332.96,301.29 333.78,300.94 334.6,300.59 335.41,300.23 336.23,299.86 337.04,299.5 337.86,299.13 338.67,298.75 339.49,298.37 340.3,297.99 341.12,297.61 341.94,297.22 342.75,296.83 343.57,296.44 344.38,296.04 345.2,295.64 346.01,295.24 346.83,294.83 347.64,294.43 348.46,294.02 349.27,293.6 350.09,293.19 350.91,292.77 351.72,292.36 352.54,291.94 353.35,291.51 354.17,291.09 354.98,290.66 355.8,290.24 356.61,289.81 357.43,289.38 358.25,288.95 359.06,288.52 359.88,288.08 360.69,287.65 361.51,287.22 362.32,286.78 363.14,286.35 363.95,285.91 364.77,285.47 365.58,285.04 366.4,284.6" fill="none" stroke="#20c060" stroke-width="1.95" stroke-linejoin="round"/>
<text x="222" y="253.8" class="s" font-size="11.5" fill="#111" textLength="11" >C</text>
<text x="229.5" y="256.5" class="s" font-size="8" fill="#000">2</text>
<text x="236" y="253.8" class="s" font-size="11.5" fill="#111" textLength="43" lengthAdjust="spacingAndGlyphs">nematic</text>
<line x1="413.4" y1="284.6" x2="413.4" y2="260.8" stroke="#000" stroke-width="1.3"/>
<path d="M413.4,254.8 L410.4,260.8 L416.4,260.8 Z" fill="#000"/>
<line x1="413.4" y1="284.6" x2="436.96" y2="270.19" stroke="#000" stroke-width="1.3"/>
<path d="M442.5,266.8 L438.52,272.75 L435.39,267.63 Z" fill="#000"/>
<text x="400.3" y="257.3" class="s" font-size="12" fill="#000">y</text>
<text x="442.2" y="270.2" class="s" font-size="12" fill="#000">x</text>
<text x="435" y="300.2" class="s" font-size="12" fill="#000">z</text>
<line x1="38.5" y1="310" x2="38.5" y2="332.3" stroke="#222" stroke-width="1.2"/>
<line x1="364.2" y1="310" x2="364.2" y2="332.3" stroke="#222" stroke-width="1.2"/>
<line x1="162" y1="321.5" x2="50.4" y2="321.5" stroke="#000" stroke-width="1.3"/>
<path d="M44.1,321.5 L50.4,318.3 L50.4,324.7 Z" fill="#000"/>
<line x1="241.9" y1="321.5" x2="353.6" y2="321.5" stroke="#000" stroke-width="1.3"/>
<path d="M359.9,321.5 L353.6,318.3 L353.6,324.7 Z" fill="#000"/>
<text transform="translate(193.49,326) scale(1.208,1)" class="r" font-style="italic" font-size="13.2" fill="#111">λ</text>
<text transform="translate(199.46,328.5) scale(1.007,1)" class="r" font-style="italic" font-size="9.7" fill="#111">CDW</text>
<text x="2" y="369.6" class="s" font-weight="bold" font-size="13.8" fill="#000">f</text>
<line x1="46.9" y1="397.9" x2="460" y2="397.9" stroke="#333" stroke-width="1.2"/>
<path d="M466.2,397.9 L460,394.9 L460,400.9 Z" fill="#000"/>
<ellipse cx="46.9" cy="397.9" rx="10.5" ry="27" fill="url(#gEll)" stroke="#3c4d70" stroke-width="1.05" stroke-dasharray="2.5 1.7"/>
<line x1="46.9" y1="397.9" x2="57.4" y2="397.9" stroke="#333" stroke-width="1.2"/>
<ellipse cx="120.1" cy="397.9" rx="10.5" ry="27" fill="url(#gEll)" stroke="#3c4d70" stroke-width="1.05" stroke-dasharray="2.5 1.7"/>
<line x1="120.1" y1="397.9" x2="130.6" y2="397.9" stroke="#333" stroke-width="1.2"/>
<ellipse cx="198.9" cy="397.9" rx="10.5" ry="27" fill="url(#gEll)" stroke="#3c4d70" stroke-width="1.05" stroke-dasharray="2.5 1.7"/>
<line x1="198.9" y1="397.9" x2="209.4" y2="397.9" stroke="#333" stroke-width="1.2"/>
<ellipse cx="282.7" cy="397.9" rx="10.5" ry="27" fill="url(#gEll)" stroke="#3c4d70" stroke-width="1.05" stroke-dasharray="2.5 1.7"/>
<line x1="282.7" y1="397.9" x2="293.2" y2="397.9" stroke="#333" stroke-width="1.2"/>
<ellipse cx="359.5" cy="397.9" rx="10.5" ry="27" fill="url(#gEll)" stroke="#3c4d70" stroke-width="1.05" stroke-dasharray="2.5 1.7"/>
<line x1="359.5" y1="397.9" x2="370" y2="397.9" stroke="#333" stroke-width="1.2"/>
<line x1="46.9" y1="397.9" x2="46.9" y2="377" stroke="#000" stroke-width="1.15" stroke-dasharray="2.4 1.4"/>
<path d="M46.9,371.2 L49.6,377 L44.2,377 Z" fill="#000"/>
<line x1="120.1" y1="397.9" x2="126.7" y2="393.71" stroke="#000" stroke-width="1.15" stroke-dasharray="2.4 1.4"/>
<path d="M130.5,391.3 L128.04,395.82 L125.36,391.6 Z" fill="#000"/>
<line x1="198.9" y1="397.9" x2="198.9" y2="418.5" stroke="#000" stroke-width="1.15" stroke-dasharray="2.4 1.4"/>
<path d="M198.9,424.3 L196.2,418.5 L201.6,418.5 Z" fill="#000"/>
<line x1="282.7" y1="397.9" x2="276.83" y2="400.8" stroke="#000" stroke-width="1.15" stroke-dasharray="2.4 1.4"/>
<path d="M272.8,402.8 L275.72,398.56 L277.94,403.04 Z" fill="#000"/>
<line x1="359.5" y1="397.9" x2="359.5" y2="377" stroke="#000" stroke-width="1.15" stroke-dasharray="2.4 1.4"/>
<path d="M359.5,371.2 L362.2,377 L356.8,377 Z" fill="#000"/>
<text x="235.2" y="363.8" class="s" font-size="12.1" fill="#111" textLength="30.4" lengthAdjust="spacingAndGlyphs">Chiral</text>
<line x1="418" y1="397.9" x2="418" y2="374.3" stroke="#000" stroke-width="1.3"/>
<path d="M418,368.3 L415,374.3 L421,374.3 Z" fill="#000"/>
<line x1="418" y1="397.9" x2="441.49" y2="383.24" stroke="#000" stroke-width="1.3"/>
<path d="M447,379.8 L443.07,385.79 L439.9,380.7 Z" fill="#000"/>
<text x="405.8" y="369.8" class="s" font-size="12" fill="#000">y</text>
<text x="446.6" y="381.8" class="s" font-size="12" fill="#000">x</text>
<text x="439.8" y="412.2" class="s" font-size="12" fill="#000">z</text>
<line x1="51.2" y1="422.8" x2="51.2" y2="444" stroke="#222" stroke-width="1.2"/>
<line x1="370.2" y1="422.8" x2="370.2" y2="444" stroke="#222" stroke-width="1.2"/>
<line x1="172.5" y1="434.3" x2="63.7" y2="434.3" stroke="#000" stroke-width="1.3"/>
<path d="M57.4,434.3 L63.7,431.1 L63.7,437.5 Z" fill="#000"/>
<line x1="250.4" y1="434.3" x2="359.5" y2="434.3" stroke="#000" stroke-width="1.3"/>
<path d="M365.8,434.3 L359.5,431.1 L359.5,437.5 Z" fill="#000"/>
<text transform="translate(203.37,439.1) scale(1.156,1)" class="r" font-style="italic" font-size="13.2" fill="#111">λ</text>
<text transform="translate(209.09,441) scale(0.952,1)" class="r" font-style="italic" font-size="9.7" fill="#111">CDW</text></g><g filter="url(#softR)"><text x="475.4" y="11.9" class="s" font-weight="bold" font-size="14.2" fill="#000">b</text>
<rect x="502.8" y="4.6" width="175.8" height="88.8" fill="none" stroke="#808080" stroke-width="1.1"/>
<line x1="538.26" y1="93.4" x2="538.26" y2="91.6" stroke="#808080" stroke-width="1"/>
<line x1="573.02" y1="93.4" x2="573.02" y2="91.6" stroke="#808080" stroke-width="1"/>
<line x1="607.78" y1="93.4" x2="607.78" y2="91.6" stroke="#808080" stroke-width="1"/>
<line x1="642.54" y1="93.4" x2="642.54" y2="91.6" stroke="#808080" stroke-width="1"/>
<line x1="502.8" y1="49.7" x2="504.6" y2="49.7" stroke="#808080" stroke-width="1"/>
<line x1="502.8" y1="6.2" x2="506.3" y2="6.2" stroke="#909090" stroke-width="1"/>
<polyline points="503.5,93.2 503.75,93.1 503.99,93.01 504.24,92.91 504.49,92.81 504.73,92.71 504.98,92.62 505.23,92.52 505.47,92.42 505.72,92.33 505.97,92.23 506.22,92.13 506.46,92.04 506.71,91.94 506.96,91.84 507.2,91.74 507.45,91.65 507.7,91.55 507.94,91.45 508.19,91.36 508.44,91.26 508.68,91.16 508.93,91.07 509.18,90.97 509.42,90.87 509.67,90.77 509.92,90.68 510.17,90.58 510.41,90.48 510.66,90.39 510.91,90.29 511.15,90.19 511.4,90.1 511.65,90 511.89,89.9 512.14,89.81 512.39,89.71 512.63,89.61 512.88,89.52 513.13,89.42 513.37,89.32 513.62,89.23 513.87,89.13 514.11,89.03 514.36,88.94 514.61,88.84 514.86,88.74 515.1,88.65 515.35,88.55 515.6,88.45 515.84,88.36 516.09,88.26 516.34,88.16 516.58,88.07 516.83,87.97 517.08,87.88 517.32,87.78 517.57,87.68 517.82,87.59 518.06,87.49 518.31,87.39 518.56,87.3 518.81,87.2 519.05,87.11 519.3,87.01 519.55,86.91 519.79,86.82 520.04,86.72 520.29,86.63 520.53,86.53 520.78,86.43 521.03,86.34 521.27,86.24 521.52,86.15 521.77,86.05 522.01,85.96 522.26,85.86 522.51,85.76 522.75,85.67 523,85.57 523.25,85.48 523.5,85.38 523.74,85.29 523.99,85.19 524.24,85.1 524.48,85 524.73,84.9 524.98,84.81 525.22,84.71 525.47,84.62 525.72,84.52 525.96,84.43 526.21,84.33 526.46,84.24 526.7,84.14 526.95,84.05 527.2,83.95 527.45,83.86 527.69,83.76 527.94,83.67 528.19,83.58 528.43,83.48 528.68,83.39 528.93,83.29 529.17,83.2 529.42,83.1 529.67,83.01 529.91,82.91 530.16,82.82 530.41,82.73 530.65,82.63 530.9,82.54 531.15,82.44 531.39,82.35 531.64,82.25 531.89,82.16 532.14,82.07 532.38,81.97 532.63,81.88 532.88,81.79 533.12,81.69 533.37,81.6 533.62,81.51 533.86,81.41 534.11,81.32 534.36,81.23 534.6,81.13 534.85,81.04 535.1,80.95 535.34,80.85 535.59,80.76 535.84,80.67 536.09,80.57 536.33,80.48 536.58,80.39 536.83,80.3 537.07,80.2 537.32,80.11 537.57,80.02 537.81,79.92 538.06,79.83 538.31,79.74 538.55,79.65 538.8,79.56 539.05,79.46 539.29,79.37 539.54,79.28 539.79,79.19 540.03,79.1 540.28,79 540.53,78.91 540.78,78.82 541.02,78.73 541.27,78.64 541.52,78.55 541.76,78.45 542.01,78.36 542.26,78.27 542.5,78.18 542.75,78.09 543,78 543.24,77.91 543.49,77.82 543.74,77.73 543.98,77.64 544.23,77.55 544.48,77.46 544.73,77.36 544.97,77.27 545.22,77.18 545.47,77.09 545.71,77 545.96,76.91 546.21,76.82 546.45,76.73 546.7,76.64 546.95,76.55 547.19,76.46 547.44,76.38 547.69,76.29 547.93,76.2 548.18,76.11 548.43,76.02 548.67,75.93 548.92,75.84 549.17,75.75 549.42,75.66 549.66,75.57 549.91,75.48 550.16,75.4 550.4,75.31 550.65,75.22 550.9,75.13 551.14,75.04 551.39,74.95 551.64,74.87 551.88,74.78 552.13,74.69 552.38,74.6 552.62,74.51 552.87,74.43 553.12,74.34 553.37,74.25 553.61,74.17 553.86,74.08 554.11,73.99 554.35,73.9 554.6,73.82 554.85,73.73 555.09,73.64 555.34,73.56 555.59,73.47 555.83,73.38 556.08,73.3 556.33,73.21 556.57,73.12 556.82,73.04 557.07,72.95 557.31,72.87 557.56,72.78 557.81,72.7 558.06,72.61 558.3,72.52 558.55,72.44 558.8,72.35 559.04,72.27 559.29,72.18 559.54,72.1 559.78,72.01 560.03,71.93 560.28,71.84 560.52,71.76 560.77,71.68 561.02,71.59 561.26,71.51 561.51,71.42 561.76,71.34 562.01,71.26 562.25,71.17 562.5,71.09 562.75,71 562.99,70.92 563.24,70.84 563.49,70.75 563.73,70.67 563.98,70.59 564.23,70.51 564.47,70.42 564.72,70.34 564.97,70.26 565.21,70.18 565.46,70.09 565.71,70.01 565.95,69.93 566.2,69.85 566.45,69.77 566.7,69.68 566.94,69.6 567.19,69.52 567.44,69.44 567.68,69.36 567.93,69.28 568.18,69.2 568.42,69.11 568.67,69.03 568.92,68.95 569.16,68.87 569.41,68.79 569.66,68.71 569.9,68.63 570.15,68.55 570.4,68.47 570.65,68.39 570.89,68.31 571.14,68.23 571.39,68.15 571.63,68.07 571.88,68 572.13,67.92 572.37,67.84 572.62,67.76 572.87,67.68 573.11,67.6 573.36,67.52 573.61,67.44 573.85,67.37 574.1,67.29 574.35,67.21 574.59,67.13 574.84,67.06 575.09,66.98 575.34,66.9 575.58,66.82 575.83,66.75 576.08,66.67 576.32,66.59 576.57,66.52 576.82,66.44 577.06,66.36 577.31,66.29 577.56,66.21 577.8,66.13 578.05,66.06 578.3,65.98 578.54,65.91 578.79,65.83 579.04,65.76 579.29,65.68 579.53,65.61 579.78,65.53 580.03,65.46 580.27,65.38 580.52,65.31 580.77,65.23 581.01,65.16 581.26,65.08 581.51,65.01 581.75,64.94 582,64.86 582.25,64.79 582.49,64.72 582.74,64.64 582.99,64.57 583.23,64.5 583.48,64.42 583.73,64.35 583.98,64.28 584.22,64.21 584.47,64.13 584.72,64.06 584.96,63.99 585.21,63.92 585.46,63.85 585.7,63.77 585.95,63.7 586.2,63.63 586.44,63.56 586.69,63.49 586.94,63.42 587.18,63.35 587.43,63.28 587.68,63.21 587.93,63.14 588.17,63.07 588.42,63 588.67,62.93 588.91,62.86 589.16,62.79 589.41,62.72 589.65,62.65 589.9,62.58 590.15,62.51 590.39,62.44 590.64,62.37 590.89,62.31 591.13,62.24 591.38,62.17 591.63,62.1 591.87,62.03 592.12,61.97 592.37,61.9 592.62,61.83 592.86,61.76 593.11,61.7 593.36,61.63 593.6,61.56 593.85,61.5 594.1,61.43 594.34,61.36 594.59,61.3 594.84,61.23 595.08,61.17 595.33,61.1 595.58,61.04 595.82,60.97 596.07,60.91 596.32,60.84 596.57,60.78 596.81,60.71 597.06,60.65 597.31,60.58 597.55,60.52 597.8,60.45 598.05,60.39 598.29,60.33 598.54,60.26 598.79,60.2 599.03,60.14 599.28,60.07 599.53,60.01 599.77,59.95 600.02,59.89 600.27,59.82 600.51,59.76 600.76,59.7 601.01,59.64 601.26,59.58 601.5,59.51 601.75,59.45 602,59.39 602.24,59.33 602.49,59.27 602.74,59.21 602.98,59.15 603.23,59.09 603.48,59.03 603.72,58.97 603.97,58.91 604.22,58.85 604.46,58.79 604.71,58.73 604.96,58.67 605.21,58.61 605.45,58.55 605.7,58.49 605.95,58.44 606.19,58.38 606.44,58.32 606.69,58.26 606.93,58.2 607.18,58.15 607.43,58.09 607.67,58.03 607.92,57.98 608.17,57.92 608.41,57.86 608.66,57.81 608.91,57.75 609.15,57.69 609.4,57.64 609.65,57.58 609.9,57.53 610.14,57.47 610.39,57.41 610.64,57.36 610.88,57.3 611.13,57.25 611.38,57.2 611.62,57.14 611.87,57.09 612.12,57.03 612.36,56.98 612.61,56.93 612.86,56.87 613.1,56.82 613.35,56.77 613.6,56.71 613.85,56.66 614.09,56.61 614.34,56.55 614.59,56.5 614.83,56.45 615.08,56.4 615.33,56.35 615.57,56.3 615.82,56.24 616.07,56.19 616.31,56.14 616.56,56.09 616.81,56.04 617.05,55.99 617.3,55.94 617.55,55.89 617.79,55.84 618.04,55.79 618.29,55.74 618.54,55.69 618.78,55.64 619.03,55.59 619.28,55.55 619.52,55.5 619.77,55.45 620.02,55.4 620.26,55.35 620.51,55.31 620.76,55.26 621,55.21 621.25,55.16 621.5,55.12 621.74,55.07 621.99,55.02 622.24,54.98 622.49,54.93 622.73,54.88 622.98,54.84 623.23,54.79 623.47,54.75 623.72,54.7 623.97,54.66 624.21,54.61 624.46,54.57 624.71,54.52 624.95,54.48 625.2,54.43 625.45,54.39 625.69,54.35 625.94,54.3 626.19,54.26 626.43,54.22 626.68,54.17 626.93,54.13 627.18,54.09 627.42,54.05 627.67,54 627.92,53.96 628.16,53.92 628.41,53.88 628.66,53.84 628.9,53.8 629.15,53.75 629.4,53.71 629.64,53.67 629.89,53.63 630.14,53.59 630.38,53.55 630.63,53.51 630.88,53.47 631.13,53.43 631.37,53.39 631.62,53.36 631.87,53.32 632.11,53.28 632.36,53.24 632.61,53.2 632.85,53.16 633.1,53.13 633.35,53.09 633.59,53.05 633.84,53.01 634.09,52.98 634.33,52.94 634.58,52.9 634.83,52.87 635.07,52.83 635.32,52.79 635.57,52.76 635.82,52.72 636.06,52.69 636.31,52.65 636.56,52.62 636.8,52.58 637.05,52.55 637.3,52.51 637.54,52.48 637.79,52.44 638.04,52.41 638.28,52.38 638.53,52.34 638.78,52.31 639.02,52.28 639.27,52.24 639.52,52.21 639.77,52.18 640.01,52.15 640.26,52.11 640.51,52.08 640.75,52.05 641,52.02 641.25,51.99 641.49,51.96 641.74,51.93 641.99,51.9 642.23,51.87 642.48,51.84 642.73,51.81 642.97,51.78 643.22,51.75 643.47,51.72 643.71,51.69 643.96,51.66 644.21,51.63 644.46,51.6 644.7,51.57 644.95,51.55 645.2,51.52 645.44,51.49 645.69,51.46 645.94,51.44 646.18,51.41 646.43,51.38 646.68,51.36 646.92,51.33 647.17,51.3 647.42,51.28 647.66,51.25 647.91,51.23 648.16,51.2 648.41,51.17 648.65,51.15 648.9,51.13 649.15,51.1 649.39,51.08 649.64,51.05 649.89,51.03 650.13,51 650.38,50.98 650.63,50.96 650.87,50.93 651.12,50.91 651.37,50.89 651.61,50.87 651.86,50.84 652.11,50.82 652.35,50.8 652.6,50.78 652.85,50.76 653.1,50.74 653.34,50.72 653.59,50.7 653.84,50.67 654.08,50.65 654.33,50.63 654.58,50.61 654.82,50.59 655.07,50.57 655.32,50.56 655.56,50.54 655.81,50.52 656.06,50.5 656.3,50.48 656.55,50.46 656.8,50.44 657.05,50.43 657.29,50.41 657.54,50.39 657.79,50.37 658.03,50.36 658.28,50.34 658.53,50.32 658.77,50.31 659.02,50.29 659.27,50.28 659.51,50.26 659.76,50.25 660.01,50.23 660.25,50.22 660.5,50.2 660.75,50.19 660.99,50.17 661.24,50.16 661.49,50.14 661.74,50.13 661.98,50.12 662.23,50.1 662.48,50.09 662.72,50.08 662.97,50.06 663.22,50.05 663.46,50.04 663.71,50.03 663.96,50.02 664.2,50 664.45,49.99 664.7,49.98 664.94,49.97 665.19,49.96 665.44,49.95 665.69,49.94 665.93,49.93 666.18,49.92 666.43,49.91 666.67,49.9 666.92,49.89 667.17,49.88 667.41,49.87 667.66,49.86 667.91,49.86 668.15,49.85 668.4,49.84 668.65,49.83 668.89,49.83 669.14,49.82 669.39,49.81 669.63,49.8 669.88,49.8 670.13,49.79 670.38,49.79 670.62,49.78 670.87,49.77 671.12,49.77 671.36,49.76 671.61,49.76 671.86,49.75 672.1,49.75 672.35,49.74 672.6,49.74 672.84,49.74 673.09,49.73 673.34,49.73 673.58,49.72 673.83,49.72 674.08,49.72 674.33,49.72 674.57,49.71 674.82,49.71 675.07,49.71 675.31,49.71 675.56,49.71 675.81,49.7 676.05,49.7 676.3,49.7" fill="none" stroke="#1aa7ec" stroke-width="1.25" stroke-linejoin="round"/>
<polyline points="503.5,93.2 503.75,93.01 503.99,92.81 504.24,92.62 504.49,92.42 504.73,92.23 504.98,92.04 505.23,91.84 505.47,91.65 505.72,91.45 505.97,91.26 506.22,91.07 506.46,90.87 506.71,90.68 506.96,90.48 507.2,90.29 507.45,90.09 507.7,89.9 507.94,89.71 508.19,89.51 508.44,89.32 508.68,89.13 508.93,88.93 509.18,88.74 509.42,88.54 509.67,88.35 509.92,88.16 510.17,87.96 510.41,87.77 510.66,87.57 510.91,87.38 511.15,87.19 511.4,86.99 511.65,86.8 511.89,86.61 512.14,86.41 512.39,86.22 512.63,86.03 512.88,85.83 513.13,85.64 513.37,85.45 513.62,85.25 513.87,85.06 514.11,84.87 514.36,84.67 514.61,84.48 514.86,84.29 515.1,84.09 515.35,83.9 515.6,83.71 515.84,83.51 516.09,83.32 516.34,83.13 516.58,82.94 516.83,82.74 517.08,82.55 517.32,82.36 517.57,82.17 517.82,81.97 518.06,81.78 518.31,81.59 518.56,81.4 518.81,81.2 519.05,81.01 519.3,80.82 519.55,80.63 519.79,80.44 520.04,80.24 520.29,80.05 520.53,79.86 520.78,79.67 521.03,79.48 521.27,79.28 521.52,79.09 521.77,78.9 522.01,78.71 522.26,78.52 522.51,78.33 522.75,78.14 523,77.95 523.25,77.75 523.5,77.56 523.74,77.37 523.99,77.18 524.24,76.99 524.48,76.8 524.73,76.61 524.98,76.42 525.22,76.23 525.47,76.04 525.72,75.85 525.96,75.66 526.21,75.47 526.46,75.28 526.7,75.09 526.95,74.9 527.2,74.71 527.45,74.52 527.69,74.33 527.94,74.14 528.19,73.95 528.43,73.76 528.68,73.57 528.93,73.38 529.17,73.19 529.42,73 529.67,72.82 529.91,72.63 530.16,72.44 530.41,72.25 530.65,72.06 530.9,71.87 531.15,71.69 531.39,71.5 531.64,71.31 531.89,71.12 532.14,70.93 532.38,70.75 532.63,70.56 532.88,70.37 533.12,70.18 533.37,70 533.62,69.81 533.86,69.62 534.11,69.44 534.36,69.25 534.6,69.06 534.85,68.88 535.1,68.69 535.34,68.5 535.59,68.32 535.84,68.13 536.09,67.95 536.33,67.76 536.58,67.58 536.83,67.39 537.07,67.21 537.32,67.02 537.57,66.83 537.81,66.65 538.06,66.47 538.31,66.28 538.55,66.1 538.8,65.91 539.05,65.73 539.29,65.54 539.54,65.36 539.79,65.18 540.03,64.99 540.28,64.81 540.53,64.62 540.78,64.44 541.02,64.26 541.27,64.08 541.52,63.89 541.76,63.71 542.01,63.53 542.26,63.35 542.5,63.16 542.75,62.98 543,62.8 543.24,62.62 543.49,62.44 543.74,62.25 543.98,62.07 544.23,61.89 544.48,61.71 544.73,61.53 544.97,61.35 545.22,61.17 545.47,60.99 545.71,60.81 545.96,60.63 546.21,60.45 546.45,60.27 546.7,60.09 546.95,59.91 547.19,59.73 547.44,59.55 547.69,59.37 547.93,59.19 548.18,59.01 548.43,58.84 548.67,58.66 548.92,58.48 549.17,58.3 549.42,58.12 549.66,57.95 549.91,57.77 550.16,57.59 550.4,57.41 550.65,57.24 550.9,57.06 551.14,56.88 551.39,56.71 551.64,56.53 551.88,56.36 552.13,56.18 552.38,56.01 552.62,55.83 552.87,55.65 553.12,55.48 553.37,55.3 553.61,55.13 553.86,54.96 554.11,54.78 554.35,54.61 554.6,54.43 554.85,54.26 555.09,54.09 555.34,53.91 555.59,53.74 555.83,53.57 556.08,53.39 556.33,53.22 556.57,53.05 556.82,52.88 557.07,52.71 557.31,52.53 557.56,52.36 557.81,52.19 558.06,52.02 558.3,51.85 558.55,51.68 558.8,51.51 559.04,51.34 559.29,51.17 559.54,51 559.78,50.83 560.03,50.66 560.28,50.49 560.52,50.32 560.77,50.15 561.02,49.98 561.26,49.81 561.51,49.65 561.76,49.48 562.01,49.31 562.25,49.14 562.5,48.98 562.75,48.81 562.99,48.64 563.24,48.48 563.49,48.31 563.73,48.14 563.98,47.98 564.23,47.81 564.47,47.65 564.72,47.48 564.97,47.32 565.21,47.15 565.46,46.99 565.71,46.82 565.95,46.66 566.2,46.49 566.45,46.33 566.7,46.17 566.94,46 567.19,45.84 567.44,45.68 567.68,45.52 567.93,45.35 568.18,45.19 568.42,45.03 568.67,44.87 568.92,44.71 569.16,44.55 569.41,44.39 569.66,44.22 569.9,44.06 570.15,43.9 570.4,43.74 570.65,43.59 570.89,43.43 571.14,43.27 571.39,43.11 571.63,42.95 571.88,42.79 572.13,42.63 572.37,42.48 572.62,42.32 572.87,42.16 573.11,42 573.36,41.85 573.61,41.69 573.85,41.53 574.1,41.38 574.35,41.22 574.59,41.07 574.84,40.91 575.09,40.76 575.34,40.6 575.58,40.45 575.83,40.29 576.08,40.14 576.32,39.98 576.57,39.83 576.82,39.68 577.06,39.53 577.31,39.37 577.56,39.22 577.8,39.07 578.05,38.92 578.3,38.76 578.54,38.61 578.79,38.46 579.04,38.31 579.29,38.16 579.53,38.01 579.78,37.86 580.03,37.71 580.27,37.56 580.52,37.41 580.77,37.26 581.01,37.12 581.26,36.97 581.51,36.82 581.75,36.67 582,36.52 582.25,36.38 582.49,36.23 582.74,36.08 582.99,35.94 583.23,35.79 583.48,35.65 583.73,35.5 583.98,35.36 584.22,35.21 584.47,35.07 584.72,34.92 584.96,34.78 585.21,34.63 585.46,34.49 585.7,34.35 585.95,34.2 586.2,34.06 586.44,33.92 586.69,33.78 586.94,33.64 587.18,33.5 587.43,33.35 587.68,33.21 587.93,33.07 588.17,32.93 588.42,32.79 588.67,32.65 588.91,32.51 589.16,32.38 589.41,32.24 589.65,32.1 589.9,31.96 590.15,31.82 590.39,31.69 590.64,31.55 590.89,31.41 591.13,31.27 591.38,31.14 591.63,31 591.87,30.87 592.12,30.73 592.37,30.6 592.62,30.46 592.86,30.33 593.11,30.19 593.36,30.06 593.6,29.93 593.85,29.79 594.1,29.66 594.34,29.53 594.59,29.4 594.84,29.26 595.08,29.13 595.33,29 595.58,28.87 595.82,28.74 596.07,28.61 596.32,28.48 596.57,28.35 596.81,28.22 597.06,28.09 597.31,27.96 597.55,27.84 597.8,27.71 598.05,27.58 598.29,27.45 598.54,27.33 598.79,27.2 599.03,27.07 599.28,26.95 599.53,26.82 599.77,26.7 600.02,26.57 600.27,26.45 600.51,26.32 600.76,26.2 601.01,26.07 601.26,25.95 601.5,25.83 601.75,25.71 602,25.58 602.24,25.46 602.49,25.34 602.74,25.22 602.98,25.1 603.23,24.98 603.48,24.86 603.72,24.74 603.97,24.62 604.22,24.5 604.46,24.38 604.71,24.26 604.96,24.14 605.21,24.02 605.45,23.91 605.7,23.79 605.95,23.67 606.19,23.56 606.44,23.44 606.69,23.32 606.93,23.21 607.18,23.09 607.43,22.98 607.67,22.86 607.92,22.75 608.17,22.64 608.41,22.52 608.66,22.41 608.91,22.3 609.15,22.19 609.4,22.07 609.65,21.96 609.9,21.85 610.14,21.74 610.39,21.63 610.64,21.52 610.88,21.41 611.13,21.3 611.38,21.19 611.62,21.08 611.87,20.97 612.12,20.87 612.36,20.76 612.61,20.65 612.86,20.54 613.1,20.44 613.35,20.33 613.6,20.22 613.85,20.12 614.09,20.01 614.34,19.91 614.59,19.81 614.83,19.7 615.08,19.6 615.33,19.49 615.57,19.39 615.82,19.29 616.07,19.19 616.31,19.08 616.56,18.98 616.81,18.88 617.05,18.78 617.3,18.68 617.55,18.58 617.79,18.48 618.04,18.38 618.29,18.28 618.54,18.18 618.78,18.09 619.03,17.99 619.28,17.89 619.52,17.79 619.77,17.7 620.02,17.6 620.26,17.51 620.51,17.41 620.76,17.32 621,17.22 621.25,17.13 621.5,17.03 621.74,16.94 621.99,16.85 622.24,16.75 622.49,16.66 622.73,16.57 622.98,16.48 623.23,16.38 623.47,16.29 623.72,16.2 623.97,16.11 624.21,16.02 624.46,15.93 624.71,15.84 624.95,15.76 625.2,15.67 625.45,15.58 625.69,15.49 625.94,15.41 626.19,15.32 626.43,15.23 626.68,15.15 626.93,15.06 627.18,14.98 627.42,14.89 627.67,14.81 627.92,14.72 628.16,14.64 628.41,14.56 628.66,14.47 628.9,14.39 629.15,14.31 629.4,14.23 629.64,14.15 629.89,14.07 630.14,13.98 630.38,13.9 630.63,13.82 630.88,13.75 631.13,13.67 631.37,13.59 631.62,13.51 631.87,13.43 632.11,13.36 632.36,13.28 632.61,13.2 632.85,13.13 633.1,13.05 633.35,12.97 633.59,12.9 633.84,12.83 634.09,12.75 634.33,12.68 634.58,12.6 634.83,12.53 635.07,12.46 635.32,12.39 635.57,12.32 635.82,12.24 636.06,12.17 636.31,12.1 636.56,12.03 636.8,11.96 637.05,11.89 637.3,11.82 637.54,11.76 637.79,11.69 638.04,11.62 638.28,11.55 638.53,11.49 638.78,11.42 639.02,11.35 639.27,11.29 639.52,11.22 639.77,11.16 640.01,11.09 640.26,11.03 640.51,10.97 640.75,10.9 641,10.84 641.25,10.78 641.49,10.72 641.74,10.65 641.99,10.59 642.23,10.53 642.48,10.47 642.73,10.41 642.97,10.35 643.22,10.29 643.47,10.24 643.71,10.18 643.96,10.12 644.21,10.06 644.46,10.01 644.7,9.95 644.95,9.89 645.2,9.84 645.44,9.78 645.69,9.73 645.94,9.67 646.18,9.62 646.43,9.56 646.68,9.51 646.92,9.46 647.17,9.41 647.42,9.35 647.66,9.3 647.91,9.25 648.16,9.2 648.41,9.15 648.65,9.1 648.9,9.05 649.15,9 649.39,8.95 649.64,8.9 649.89,8.86 650.13,8.81 650.38,8.76 650.63,8.72 650.87,8.67 651.12,8.62 651.37,8.58 651.61,8.53 651.86,8.49 652.11,8.45 652.35,8.4 652.6,8.36 652.85,8.32 653.1,8.27 653.34,8.23 653.59,8.19 653.84,8.15 654.08,8.11 654.33,8.07 654.58,8.03 654.82,7.99 655.07,7.95 655.32,7.91 655.56,7.87 655.81,7.84 656.06,7.8 656.3,7.76 656.55,7.73 656.8,7.69 657.05,7.65 657.29,7.62 657.54,7.58 657.79,7.55 658.03,7.52 658.28,7.48 658.53,7.45 658.77,7.42 659.02,7.38 659.27,7.35 659.51,7.32 659.76,7.29 660.01,7.26 660.25,7.23 660.5,7.2 660.75,7.17 660.99,7.14 661.24,7.11 661.49,7.09 661.74,7.06 661.98,7.03 662.23,7.01 662.48,6.98 662.72,6.95 662.97,6.93 663.22,6.9 663.46,6.88 663.71,6.86 663.96,6.83 664.2,6.81 664.45,6.79 664.7,6.76 664.94,6.74 665.19,6.72 665.44,6.7 665.69,6.68 665.93,6.66 666.18,6.64 666.43,6.62 666.67,6.6 666.92,6.58 667.17,6.56 667.41,6.55 667.66,6.53 667.91,6.51 668.15,6.5 668.4,6.48 668.65,6.47 668.89,6.45 669.14,6.44 669.39,6.42 669.63,6.41 669.88,6.4 670.13,6.38 670.38,6.37 670.62,6.36 670.87,6.35 671.12,6.34 671.36,6.33 671.61,6.32 671.86,6.31 672.1,6.3 672.35,6.29 672.6,6.28 672.84,6.27 673.09,6.26 673.34,6.26 673.58,6.25 673.83,6.24 674.08,6.24 674.33,6.23 674.57,6.23 674.82,6.22 675.07,6.22 675.31,6.21 675.56,6.21 675.81,6.21 676.05,6.21 676.3,6.2" fill="none" stroke="#8a2be2" stroke-width="1.25" stroke-linejoin="round"/>
<polyline points="503.5,93.2 503.75,93.01 503.99,92.81 504.24,92.62 504.49,92.42 504.73,92.23 504.98,92.04 505.23,91.84 505.47,91.65 505.72,91.45 505.97,91.26 506.22,91.07 506.46,90.87 506.71,90.68 506.96,90.48 507.2,90.29 507.45,90.09 507.7,89.9 507.94,89.71 508.19,89.51 508.44,89.32 508.68,89.13 508.93,88.93 509.18,88.74 509.42,88.54 509.67,88.35 509.92,88.16 510.17,87.96 510.41,87.77 510.66,87.57 510.91,87.38 511.15,87.19 511.4,86.99 511.65,86.8 511.89,86.61 512.14,86.41 512.39,86.22 512.63,86.03 512.88,85.83 513.13,85.64 513.37,85.45 513.62,85.25 513.87,85.06 514.11,84.87 514.36,84.67 514.61,84.48 514.86,84.29 515.1,84.09 515.35,83.9 515.6,83.71 515.84,83.51 516.09,83.32 516.34,83.13 516.58,82.94 516.83,82.74 517.08,82.55 517.32,82.36 517.57,82.17 517.82,81.97 518.06,81.78 518.31,81.59 518.56,81.4 518.81,81.2 519.05,81.01 519.3,80.82 519.55,80.63 519.79,80.44 520.04,80.24 520.29,80.05 520.53,79.86 520.78,79.67 521.03,79.48 521.27,79.28 521.52,79.09 521.77,78.9 522.01,78.71 522.26,78.52 522.51,78.33 522.75,78.14 523,77.95 523.25,77.75 523.5,77.56 523.74,77.37 523.99,77.18 524.24,76.99 524.48,76.8 524.73,76.61 524.98,76.42 525.22,76.23 525.47,76.04 525.72,75.85 525.96,75.66 526.21,75.47 526.46,75.28 526.7,75.09 526.95,74.9 527.2,74.71 527.45,74.52 527.69,74.33 527.94,74.14 528.19,73.95 528.43,73.76 528.68,73.57 528.93,73.38 529.17,73.19 529.42,73 529.67,72.82 529.91,72.63 530.16,72.44 530.41,72.25 530.65,72.06 530.9,71.87 531.15,71.69 531.39,71.5 531.64,71.31 531.89,71.12 532.14,70.93 532.38,70.75 532.63,70.56 532.88,70.37 533.12,70.18 533.37,70 533.62,69.81 533.86,69.62 534.11,69.44 534.36,69.25 534.6,69.06 534.85,68.88 535.1,68.69 535.34,68.5 535.59,68.32 535.84,68.13 536.09,67.95 536.33,67.76 536.58,67.58 536.83,67.39 537.07,67.21 537.32,67.02 537.57,66.83 537.81,66.65 538.06,66.47 538.31,66.28 538.55,66.1 538.8,65.91 539.05,65.73 539.29,65.54 539.54,65.36 539.79,65.18 540.03,64.99 540.28,64.81 540.53,64.62 540.78,64.44 541.02,64.26 541.27,64.08 541.52,63.89 541.76,63.71 542.01,63.53 542.26,63.35 542.5,63.16 542.75,62.98 543,62.8 543.24,62.62 543.49,62.44 543.74,62.25 543.98,62.07 544.23,61.89 544.48,61.71 544.73,61.53 544.97,61.35 545.22,61.17 545.47,60.99 545.71,60.81 545.96,60.63 546.21,60.45 546.45,60.27 546.7,60.09 546.95,59.91 547.19,59.73 547.44,59.55 547.69,59.37 547.93,59.19 548.18,59.01 548.43,58.84 548.67,58.66 548.92,58.48 549.17,58.3 549.42,58.12 549.66,57.95 549.91,57.77 550.16,57.59 550.4,57.41 550.65,57.24 550.9,57.06 551.14,56.88 551.39,56.71 551.64,56.53 551.88,56.36 552.13,56.18 552.38,56.01 552.62,55.83 552.87,55.65 553.12,55.48 553.37,55.3 553.61,55.13 553.86,54.96 554.11,54.78 554.35,54.61 554.6,54.43 554.85,54.26 555.09,54.09 555.34,53.91 555.59,53.74 555.83,53.57 556.08,53.39 556.33,53.22 556.57,53.05 556.82,52.88 557.07,52.71 557.31,52.53 557.56,52.36 557.81,52.19 558.06,52.02 558.3,51.85 558.55,51.68 558.8,51.51 559.04,51.34 559.29,51.17 559.54,51 559.78,50.83 560.03,50.66 560.28,50.49 560.52,50.32 560.77,50.15 561.02,49.98 561.26,49.81 561.51,49.65 561.76,49.48 562.01,49.31 562.25,49.14 562.5,48.98 562.75,48.81 562.99,48.64 563.24,48.48 563.49,48.31 563.73,48.14 563.98,47.98 564.23,47.81 564.47,47.65 564.72,47.48 564.97,47.32 565.21,47.15 565.46,46.99 565.71,46.82 565.95,46.66 566.2,46.49 566.45,46.33 566.7,46.17 566.94,46 567.19,45.84 567.44,45.68 567.68,45.52 567.93,45.35 568.18,45.19 568.42,45.03 568.67,44.87 568.92,44.71 569.16,44.55 569.41,44.39 569.66,44.22 569.9,44.06 570.15,43.9 570.4,43.74 570.65,43.59 570.89,43.43 571.14,43.27 571.39,43.11 571.63,42.95 571.88,42.79 572.13,42.63 572.37,42.48 572.62,42.32 572.87,42.16 573.11,42 573.36,41.85 573.61,41.69 573.85,41.53 574.1,41.38 574.35,41.22 574.59,41.07 574.84,40.91 575.09,40.76 575.34,40.6 575.58,40.45 575.83,40.29 576.08,40.14 576.32,39.98 576.57,39.83 576.82,39.68 577.06,39.53 577.31,39.37 577.56,39.22 577.8,39.07 578.05,38.92 578.3,38.77 578.54,38.61 578.79,38.46 579.04,38.31 579.29,38.16 579.53,38.02 579.78,37.87 580.03,37.72 580.27,37.58 580.52,37.44 580.77,37.3 581.01,37.17 581.26,37.04 581.51,36.92 581.75,36.82 582,36.73 582.25,36.66 582.49,36.63 582.74,36.62 582.99,36.66 583.23,36.76 583.48,36.92 583.73,37.17 583.98,37.52 584.22,38 584.47,38.61 584.72,39.38 584.96,40.34 585.21,41.5 585.46,42.89 585.7,44.53 585.95,46.42 586.2,48.57 586.44,50.99 586.69,53.67 586.94,56.59 587.18,59.73 587.43,63.04 587.68,66.49 587.93,70.01 588.17,73.54 588.42,77 588.67,80.32 588.91,83.41 589.16,86.19 589.41,88.59 589.65,90.55 589.9,91.99 590.15,92.89 590.39,93.2 590.64,92.92 590.89,92.04 591.13,90.6 591.38,88.62 591.63,86.17 591.87,83.3 592.12,80.08 592.37,76.59 592.62,72.92 592.86,69.14 593.11,65.34 593.36,61.57 593.6,57.9 593.85,54.4 594.1,51.09 594.34,48.01 594.59,45.18 594.84,42.62 595.08,40.32 595.33,38.28 595.58,36.5 595.82,34.94 596.07,33.61 596.32,32.47 596.57,31.5 596.81,30.69 597.06,30.01 597.31,29.43 597.55,28.95 597.8,28.55 598.05,28.21 598.29,27.92 598.54,27.66 598.79,27.44 599.03,27.25 599.28,27.07 599.53,26.91 599.77,26.76 600.02,26.61 600.27,26.48 600.51,26.34 600.76,26.21 601.01,26.08 601.26,25.96 601.5,25.83 601.75,25.71 602,25.59 602.24,25.46 602.49,25.34 602.74,25.22 602.98,25.1 603.23,24.98 603.48,24.86 603.72,24.74 603.97,24.62 604.22,24.5 604.46,24.38 604.71,24.26 604.96,24.14 605.21,24.02 605.45,23.91 605.7,23.79 605.95,23.67 606.19,23.56 606.44,23.44 606.69,23.32 606.93,23.21 607.18,23.09 607.43,22.98 607.67,22.86 607.92,22.75 608.17,22.64 608.41,22.52 608.66,22.41 608.91,22.3 609.15,22.19 609.4,22.07 609.65,21.96 609.9,21.85 610.14,21.74 610.39,21.63 610.64,21.52 610.88,21.41 611.13,21.3 611.38,21.19 611.62,21.08 611.87,20.97 612.12,20.87 612.36,20.76 612.61,20.65 612.86,20.54 613.1,20.44 613.35,20.33 613.6,20.22 613.85,20.12 614.09,20.01 614.34,19.91 614.59,19.81 614.83,19.7 615.08,19.6 615.33,19.49 615.57,19.39 615.82,19.29 616.07,19.19 616.31,19.08 616.56,18.98 616.81,18.88 617.05,18.78 617.3,18.68 617.55,18.58 617.79,18.48 618.04,18.38 618.29,18.28 618.54,18.18 618.78,18.09 619.03,17.99 619.28,17.89 619.52,17.79 619.77,17.7 620.02,17.6 620.26,17.51 620.51,17.41 620.76,17.32 621,17.22 621.25,17.13 621.5,17.03 621.74,16.94 621.99,16.85 622.24,16.75 622.49,16.66 622.73,16.57 622.98,16.48 623.23,16.38 623.47,16.29 623.72,16.2 623.97,16.11 624.21,16.02 624.46,15.93 624.71,15.84 624.95,15.76 625.2,15.67 625.45,15.58 625.69,15.49 625.94,15.41 626.19,15.32 626.43,15.23 626.68,15.15 626.93,15.06 627.18,14.98 627.42,14.89 627.67,14.81 627.92,14.72 628.16,14.64 628.41,14.56 628.66,14.47 628.9,14.39 629.15,14.31 629.4,14.23 629.64,14.15 629.89,14.07 630.14,13.98 630.38,13.9 630.63,13.82 630.88,13.75 631.13,13.67 631.37,13.59 631.62,13.51 631.87,13.43 632.11,13.36 632.36,13.28 632.61,13.2 632.85,13.13 633.1,13.05 633.35,12.97 633.59,12.9 633.84,12.83 634.09,12.75 634.33,12.68 634.58,12.6 634.83,12.53 635.07,12.46 635.32,12.39 635.57,12.32 635.82,12.24 636.06,12.17 636.31,12.1 636.56,12.03 636.8,11.96 637.05,11.89 637.3,11.82 637.54,11.76 637.79,11.69 638.04,11.62 638.28,11.55 638.53,11.49 638.78,11.42 639.02,11.35 639.27,11.29 639.52,11.22 639.77,11.16 640.01,11.09 640.26,11.03 640.51,10.97 640.75,10.9 641,10.84 641.25,10.78 641.49,10.72 641.74,10.65 641.99,10.59 642.23,10.53 642.48,10.47 642.73,10.41 642.97,10.35 643.22,10.29 643.47,10.24 643.71,10.18 643.96,10.12 644.21,10.06 644.46,10.01 644.7,9.95 644.95,9.89 645.2,9.84 645.44,9.78 645.69,9.73 645.94,9.67 646.18,9.62 646.43,9.56 646.68,9.51 646.92,9.46 647.17,9.41 647.42,9.35 647.66,9.3 647.91,9.25 648.16,9.2 648.41,9.15 648.65,9.1 648.9,9.05 649.15,9 649.39,8.95 649.64,8.9 649.89,8.86 650.13,8.81 650.38,8.76 650.63,8.72 650.87,8.67 651.12,8.62 651.37,8.58 651.61,8.53 651.86,8.49 652.11,8.45 652.35,8.4 652.6,8.36 652.85,8.32 653.1,8.27 653.34,8.23 653.59,8.19 653.84,8.15 654.08,8.11 654.33,8.07 654.58,8.03 654.82,7.99 655.07,7.95 655.32,7.91 655.56,7.87 655.81,7.84 656.06,7.8 656.3,7.76 656.55,7.73 656.8,7.69 657.05,7.65 657.29,7.62 657.54,7.58 657.79,7.55 658.03,7.52 658.28,7.48 658.53,7.45 658.77,7.42 659.02,7.38 659.27,7.35 659.51,7.32 659.76,7.29 660.01,7.26 660.25,7.23 660.5,7.2 660.75,7.17 660.99,7.14 661.24,7.11 661.49,7.09 661.74,7.06 661.98,7.03 662.23,7.01 662.48,6.98 662.72,6.95 662.97,6.93 663.22,6.9 663.46,6.88 663.71,6.86 663.96,6.83 664.2,6.81 664.45,6.79 664.7,6.76 664.94,6.74 665.19,6.72 665.44,6.7 665.69,6.68 665.93,6.66 666.18,6.64 666.43,6.62 666.67,6.6 666.92,6.58 667.17,6.56 667.41,6.55 667.66,6.53 667.91,6.51 668.15,6.5 668.4,6.48 668.65,6.47 668.89,6.45 669.14,6.44 669.39,6.42 669.63,6.41 669.88,6.4 670.13,6.38 670.38,6.37 670.62,6.36 670.87,6.35 671.12,6.34 671.36,6.33 671.61,6.32 671.86,6.31 672.1,6.3 672.35,6.29 672.6,6.28 672.84,6.27 673.09,6.26 673.34,6.26 673.58,6.25 673.83,6.24 674.08,6.24 674.33,6.23 674.57,6.23 674.82,6.22 675.07,6.22 675.31,6.21 675.56,6.21 675.81,6.21 676.05,6.21 676.3,6.2" fill="none" stroke="#f4ae2e" stroke-width="1.25" stroke-dasharray="2.2 2.2" stroke-linejoin="round"/>
<line x1="507" y1="15.4" x2="522.3" y2="15.4" stroke="#8a2be2" stroke-width="1.3"/>
<text x="524.5" y="18.35" class="s" font-size="10" fill="#000">: LA, T&gt;&gt;T<tspan font-size="7" dy="1.6">CDW</tspan></text>
<line x1="507" y1="26.8" x2="522.3" y2="26.8" stroke="#f3ac2b" stroke-width="1.3" stroke-dasharray="2 2"/>
<text x="524.5" y="29.75" class="s" font-size="10" fill="#000">: LA, T=T<tspan font-size="7" dy="1.6">CDW</tspan></text>
<line x1="507" y1="38.2" x2="522.3" y2="38.2" stroke="#1aa7ec" stroke-width="1.3"/>
<text x="524.5" y="41.15" class="s" font-size="10" fill="#000">: TA</text>
<text x="475.9" y="129.2" class="s" font-weight="bold" font-size="14.2" fill="#000">d</text>
<rect x="502.8" y="121.4" width="176.7" height="88.6" fill="none" stroke="#808080" stroke-width="1.1"/>
<line x1="538.8" y1="210" x2="538.8" y2="208.2" stroke="#808080" stroke-width="1"/>
<line x1="573.8" y1="210" x2="573.8" y2="208.2" stroke="#808080" stroke-width="1"/>
<line x1="608.8" y1="210" x2="608.8" y2="208.2" stroke="#808080" stroke-width="1"/>
<line x1="643.8" y1="210" x2="643.8" y2="208.2" stroke="#808080" stroke-width="1"/>
<line x1="502.8" y1="166.4" x2="504.6" y2="166.4" stroke="#808080" stroke-width="1"/>
<line x1="502.8" y1="122.9" x2="506.3" y2="122.9" stroke="#909090" stroke-width="1"/>
<polyline points="503.8,209.9 504.05,209.71 504.29,209.51 504.54,209.32 504.79,209.13 505.04,208.94 505.28,208.74 505.53,208.55 505.78,208.36 506.02,208.16 506.27,207.97 506.52,207.78 506.77,207.58 507.01,207.39 507.26,207.2 507.51,207.01 507.75,206.81 508,206.62 508.25,206.43 508.5,206.23 508.74,206.04 508.99,205.85 509.24,205.66 509.48,205.46 509.73,205.27 509.98,205.08 510.23,204.88 510.47,204.69 510.72,204.5 510.97,204.31 511.21,204.11 511.46,203.92 511.71,203.73 511.96,203.54 512.2,203.34 512.45,203.15 512.7,202.96 512.94,202.77 513.19,202.57 513.44,202.38 513.69,202.19 513.93,202 514.18,201.81 514.43,201.61 514.67,201.42 514.92,201.23 515.17,201.04 515.42,200.85 515.66,200.65 515.91,200.46 516.16,200.27 516.4,200.08 516.65,199.89 516.9,199.69 517.15,199.5 517.39,199.31 517.64,199.12 517.89,198.93 518.13,198.74 518.38,198.55 518.63,198.35 518.88,198.16 519.12,197.97 519.37,197.78 519.62,197.59 519.86,197.4 520.11,197.21 520.36,197.02 520.61,196.83 520.85,196.64 521.1,196.44 521.35,196.25 521.59,196.06 521.84,195.87 522.09,195.68 522.34,195.49 522.58,195.3 522.83,195.11 523.08,194.92 523.32,194.73 523.57,194.54 523.82,194.35 524.07,194.16 524.31,193.97 524.56,193.78 524.81,193.59 525.05,193.4 525.3,193.21 525.55,193.02 525.8,192.83 526.04,192.65 526.29,192.46 526.54,192.27 526.78,192.08 527.03,191.89 527.28,191.7 527.53,191.51 527.77,191.32 528.02,191.13 528.27,190.95 528.51,190.76 528.76,190.57 529.01,190.38 529.26,190.19 529.5,190.01 529.75,189.82 530,189.63 530.24,189.44 530.49,189.26 530.74,189.07 530.99,188.88 531.23,188.69 531.48,188.51 531.73,188.32 531.97,188.13 532.22,187.95 532.47,187.76 532.72,187.57 532.96,187.39 533.21,187.2 533.46,187.01 533.7,186.83 533.95,186.64 534.2,186.45 534.45,186.27 534.69,186.08 534.94,185.9 535.19,185.71 535.43,185.53 535.68,185.34 535.93,185.16 536.18,184.97 536.42,184.79 536.67,184.6 536.92,184.42 537.16,184.23 537.41,184.05 537.66,183.86 537.91,183.68 538.15,183.5 538.4,183.31 538.65,183.13 538.89,182.95 539.14,182.76 539.39,182.58 539.64,182.4 539.88,182.21 540.13,182.03 540.38,181.85 540.62,181.66 540.87,181.48 541.12,181.3 541.37,181.12 541.61,180.94 541.86,180.75 542.11,180.57 542.35,180.39 542.6,180.21 542.85,180.03 543.1,179.85 543.34,179.66 543.59,179.48 543.84,179.3 544.08,179.12 544.33,178.94 544.58,178.76 544.83,178.58 545.07,178.4 545.32,178.22 545.57,178.04 545.81,177.86 546.06,177.68 546.31,177.5 546.56,177.33 546.8,177.15 547.05,176.97 547.3,176.79 547.54,176.61 547.79,176.43 548.04,176.25 548.29,176.08 548.53,175.9 548.78,175.72 549.03,175.54 549.27,175.37 549.52,175.19 549.77,175.01 550.02,174.84 550.26,174.66 550.51,174.48 550.76,174.31 551,174.13 551.25,173.95 551.5,173.78 551.75,173.6 551.99,173.43 552.24,173.25 552.49,173.08 552.73,172.9 552.98,172.73 553.23,172.55 553.48,172.38 553.72,172.21 553.97,172.03 554.22,171.86 554.46,171.69 554.71,171.51 554.96,171.34 555.21,171.17 555.45,170.99 555.7,170.82 555.95,170.65 556.19,170.48 556.44,170.3 556.69,170.13 556.94,169.96 557.18,169.79 557.43,169.62 557.68,169.45 557.92,169.28 558.17,169.11 558.42,168.94 558.67,168.77 558.91,168.6 559.16,168.43 559.41,168.26 559.65,168.09 559.9,167.92 560.15,167.75 560.4,167.58 560.64,167.41 560.89,167.24 561.14,167.08 561.38,166.91 561.63,166.74 561.88,166.57 562.13,166.41 562.37,166.24 562.62,166.07 562.87,165.9 563.11,165.74 563.36,165.57 563.61,165.41 563.86,165.24 564.1,165.07 564.35,164.91 564.6,164.74 564.84,164.58 565.09,164.42 565.34,164.25 565.59,164.09 565.83,163.92 566.08,163.76 566.33,163.6 566.57,163.43 566.82,163.27 567.07,163.11 567.32,162.94 567.56,162.78 567.81,162.62 568.06,162.46 568.3,162.3 568.55,162.13 568.8,161.97 569.05,161.81 569.29,161.65 569.54,161.49 569.79,161.33 570.03,161.17 570.28,161.01 570.53,160.85 570.78,160.69 571.02,160.53 571.27,160.37 571.52,160.22 571.76,160.06 572.01,159.9 572.26,159.74 572.51,159.58 572.75,159.43 573,159.27 573.25,159.11 573.49,158.96 573.74,158.8 573.99,158.64 574.24,158.49 574.48,158.33 574.73,158.18 574.98,158.02 575.22,157.87 575.47,157.71 575.72,157.56 575.97,157.4 576.21,157.25 576.46,157.1 576.71,156.94 576.95,156.79 577.2,156.64 577.45,156.49 577.7,156.33 577.94,156.18 578.19,156.03 578.44,155.88 578.68,155.73 578.93,155.58 579.18,155.43 579.43,155.28 579.67,155.13 579.92,154.98 580.17,154.83 580.41,154.68 580.66,154.53 580.91,154.38 581.16,154.23 581.4,154.08 581.65,153.93 581.9,153.79 582.14,153.64 582.39,153.49 582.64,153.35 582.89,153.2 583.13,153.05 583.38,152.91 583.63,152.76 583.87,152.62 584.12,152.47 584.37,152.33 584.62,152.18 584.86,152.04 585.11,151.89 585.36,151.75 585.6,151.61 585.85,151.46 586.1,151.32 586.35,151.18 586.59,151.04 586.84,150.89 587.09,150.75 587.33,150.61 587.58,150.47 587.83,150.33 588.08,150.19 588.32,150.05 588.57,149.91 588.82,149.77 589.06,149.63 589.31,149.49 589.56,149.35 589.81,149.21 590.05,149.07 590.3,148.94 590.55,148.8 590.79,148.66 591.04,148.52 591.29,148.39 591.54,148.25 591.78,148.12 592.03,147.98 592.28,147.84 592.52,147.71 592.77,147.57 593.02,147.44 593.27,147.31 593.51,147.17 593.76,147.04 594.01,146.91 594.25,146.77 594.5,146.64 594.75,146.51 595,146.38 595.24,146.24 595.49,146.11 595.74,145.98 595.98,145.85 596.23,145.72 596.48,145.59 596.73,145.46 596.97,145.33 597.22,145.2 597.47,145.07 597.71,144.94 597.96,144.82 598.21,144.69 598.46,144.56 598.7,144.43 598.95,144.31 599.2,144.18 599.44,144.05 599.69,143.93 599.94,143.8 600.19,143.68 600.43,143.55 600.68,143.43 600.93,143.3 601.17,143.18 601.42,143.05 601.67,142.93 601.92,142.81 602.16,142.69 602.41,142.56 602.66,142.44 602.9,142.32 603.15,142.2 603.4,142.08 603.65,141.96 603.89,141.84 604.14,141.72 604.39,141.6 604.63,141.48 604.88,141.36 605.13,141.24 605.38,141.12 605.62,141 605.87,140.88 606.12,140.77 606.36,140.65 606.61,140.53 606.86,140.42 607.11,140.3 607.35,140.19 607.6,140.07 607.85,139.96 608.09,139.84 608.34,139.73 608.59,139.61 608.84,139.5 609.08,139.39 609.33,139.27 609.58,139.16 609.82,139.05 610.07,138.94 610.32,138.83 610.57,138.71 610.81,138.6 611.06,138.49 611.31,138.38 611.55,138.27 611.8,138.16 612.05,138.05 612.3,137.95 612.54,137.84 612.79,137.73 613.04,137.62 613.28,137.51 613.53,137.41 613.78,137.3 614.03,137.2 614.27,137.09 614.52,136.98 614.77,136.88 615.01,136.77 615.26,136.67 615.51,136.57 615.76,136.46 616,136.36 616.25,136.26 616.5,136.15 616.74,136.05 616.99,135.95 617.24,135.85 617.49,135.75 617.73,135.65 617.98,135.55 618.23,135.45 618.47,135.35 618.72,135.25 618.97,135.15 619.22,135.05 619.46,134.95 619.71,134.85 619.96,134.76 620.2,134.66 620.45,134.56 620.7,134.47 620.95,134.37 621.19,134.27 621.44,134.18 621.69,134.08 621.93,133.99 622.18,133.9 622.43,133.8 622.68,133.71 622.92,133.62 623.17,133.52 623.42,133.43 623.66,133.34 623.91,133.25 624.16,133.16 624.41,133.07 624.65,132.97 624.9,132.88 625.15,132.8 625.39,132.71 625.64,132.62 625.89,132.53 626.14,132.44 626.38,132.35 626.63,132.27 626.88,132.18 627.12,132.09 627.37,132.01 627.62,131.92 627.87,131.84 628.11,131.75 628.36,131.67 628.61,131.58 628.85,131.5 629.1,131.41 629.35,131.33 629.6,131.25 629.84,131.17 630.09,131.08 630.34,131 630.58,130.92 630.83,130.84 631.08,130.76 631.33,130.68 631.57,130.6 631.82,130.52 632.07,130.44 632.31,130.36 632.56,130.29 632.81,130.21 633.06,130.13 633.3,130.05 633.55,129.98 633.8,129.9 634.04,129.83 634.29,129.75 634.54,129.68 634.79,129.6 635.03,129.53 635.28,129.45 635.53,129.38 635.77,129.31 636.02,129.24 636.27,129.16 636.52,129.09 636.76,129.02 637.01,128.95 637.26,128.88 637.5,128.81 637.75,128.74 638,128.67 638.25,128.6 638.49,128.53 638.74,128.46 638.99,128.4 639.23,128.33 639.48,128.26 639.73,128.2 639.98,128.13 640.22,128.06 640.47,128 640.72,127.93 640.96,127.87 641.21,127.81 641.46,127.74 641.71,127.68 641.95,127.62 642.2,127.55 642.45,127.49 642.69,127.43 642.94,127.37 643.19,127.31 643.44,127.25 643.68,127.19 643.93,127.13 644.18,127.07 644.42,127.01 644.67,126.95 644.92,126.89 645.17,126.83 645.41,126.78 645.66,126.72 645.91,126.66 646.15,126.61 646.4,126.55 646.65,126.5 646.9,126.44 647.14,126.39 647.39,126.33 647.64,126.28 647.88,126.23 648.13,126.18 648.38,126.12 648.63,126.07 648.87,126.02 649.12,125.97 649.37,125.92 649.61,125.87 649.86,125.82 650.11,125.77 650.36,125.72 650.6,125.67 650.85,125.62 651.1,125.58 651.34,125.53 651.59,125.48 651.84,125.44 652.09,125.39 652.33,125.34 652.58,125.3 652.83,125.25 653.07,125.21 653.32,125.17 653.57,125.12 653.82,125.08 654.06,125.04 654.31,124.99 654.56,124.95 654.8,124.91 655.05,124.87 655.3,124.83 655.55,124.79 655.79,124.75 656.04,124.71 656.29,124.67 656.53,124.63 656.78,124.59 657.03,124.56 657.28,124.52 657.52,124.48 657.77,124.45 658.02,124.41 658.26,124.37 658.51,124.34 658.76,124.3 659.01,124.27 659.25,124.24 659.5,124.2 659.75,124.17 659.99,124.14 660.24,124.1 660.49,124.07 660.74,124.04 660.98,124.01 661.23,123.98 661.48,123.95 661.72,123.92 661.97,123.89 662.22,123.86 662.47,123.83 662.71,123.81 662.96,123.78 663.21,123.75 663.45,123.72 663.7,123.7 663.95,123.67 664.2,123.65 664.44,123.62 664.69,123.6 664.94,123.57 665.18,123.55 665.43,123.53 665.68,123.5 665.93,123.48 666.17,123.46 666.42,123.44 666.67,123.42 666.91,123.39 667.16,123.37 667.41,123.35 667.66,123.33 667.9,123.32 668.15,123.3 668.4,123.28 668.64,123.26 668.89,123.24 669.14,123.23 669.39,123.21 669.63,123.19 669.88,123.18 670.13,123.16 670.37,123.15 670.62,123.13 670.87,123.12 671.12,123.11 671.36,123.09 671.61,123.08 671.86,123.07 672.1,123.06 672.35,123.05 672.6,123.03 672.85,123.02 673.09,123.01 673.34,123 673.59,123 673.83,122.99 674.08,122.98 674.33,122.97 674.58,122.96 674.82,122.96 675.07,122.95 675.32,122.94 675.56,122.94 675.81,122.93 676.06,122.93 676.31,122.92 676.55,122.92 676.8,122.91" fill="none" stroke="#8a2be2" stroke-width="1.25" stroke-linejoin="round"/>
<polyline points="503.8,209.9 504.05,209.8 504.29,209.71 504.54,209.61 504.79,209.51 505.04,209.42 505.28,209.32 505.53,209.22 505.78,209.13 506.02,209.03 506.27,208.94 506.52,208.84 506.77,208.74 507.01,208.65 507.26,208.55 507.51,208.45 507.75,208.36 508,208.26 508.25,208.16 508.5,208.07 508.74,207.97 508.99,207.87 509.24,207.78 509.48,207.68 509.73,207.59 509.98,207.49 510.23,207.39 510.47,207.3 510.72,207.2 510.97,207.1 511.21,207.01 511.46,206.91 511.71,206.81 511.96,206.72 512.2,206.62 512.45,206.53 512.7,206.43 512.94,206.33 513.19,206.24 513.44,206.14 513.69,206.05 513.93,205.95 514.18,205.85 514.43,205.76 514.67,205.66 514.92,205.56 515.17,205.47 515.42,205.37 515.66,205.28 515.91,205.18 516.16,205.08 516.4,204.99 516.65,204.89 516.9,204.8 517.15,204.7 517.39,204.61 517.64,204.51 517.89,204.41 518.13,204.32 518.38,204.22 518.63,204.13 518.88,204.03 519.12,203.94 519.37,203.84 519.62,203.74 519.86,203.65 520.11,203.55 520.36,203.46 520.61,203.36 520.85,203.27 521.1,203.17 521.35,203.08 521.59,202.98 521.84,202.89 522.09,202.79 522.34,202.7 522.58,202.6 522.83,202.51 523.08,202.41 523.32,202.32 523.57,202.22 523.82,202.13 524.07,202.03 524.31,201.94 524.56,201.84 524.81,201.75 525.05,201.65 525.3,201.56 525.55,201.46 525.8,201.37 526.04,201.27 526.29,201.18 526.54,201.08 526.78,200.99 527.03,200.89 527.28,200.8 527.53,200.71 527.77,200.61 528.02,200.52 528.27,200.42 528.51,200.33 528.76,200.24 529.01,200.14 529.26,200.05 529.5,199.95 529.75,199.86 530,199.77 530.24,199.67 530.49,199.58 530.74,199.48 530.99,199.39 531.23,199.3 531.48,199.2 531.73,199.11 531.97,199.02 532.22,198.92 532.47,198.83 532.72,198.74 532.96,198.64 533.21,198.55 533.46,198.46 533.7,198.36 533.95,198.27 534.2,198.18 534.45,198.08 534.69,197.99 534.94,197.9 535.19,197.81 535.43,197.71 535.68,197.62 535.93,197.53 536.18,197.44 536.42,197.34 536.67,197.25 536.92,197.16 537.16,197.07 537.41,196.97 537.66,196.88 537.91,196.79 538.15,196.7 538.4,196.61 538.65,196.51 538.89,196.42 539.14,196.33 539.39,196.24 539.64,196.15 539.88,196.06 540.13,195.96 540.38,195.87 540.62,195.78 540.87,195.69 541.12,195.6 541.37,195.51 541.61,195.42 541.86,195.33 542.11,195.24 542.35,195.14 542.6,195.05 542.85,194.96 543.1,194.87 543.34,194.78 543.59,194.69 543.84,194.6 544.08,194.51 544.33,194.42 544.58,194.33 544.83,194.24 545.07,194.15 545.32,194.06 545.57,193.97 545.81,193.88 546.06,193.79 546.31,193.7 546.56,193.61 546.8,193.52 547.05,193.43 547.3,193.34 547.54,193.26 547.79,193.17 548.04,193.08 548.29,192.99 548.53,192.9 548.78,192.81 549.03,192.72 549.27,192.63 549.52,192.54 549.77,192.46 550.02,192.37 550.26,192.28 550.51,192.19 550.76,192.1 551,192.02 551.25,191.93 551.5,191.84 551.75,191.75 551.99,191.66 552.24,191.58 552.49,191.49 552.73,191.4 552.98,191.31 553.23,191.23 553.48,191.14 553.72,191.05 553.97,190.97 554.22,190.88 554.46,190.79 554.71,190.71 554.96,190.62 555.21,190.53 555.45,190.45 555.7,190.36 555.95,190.27 556.19,190.19 556.44,190.1 556.69,190.02 556.94,189.93 557.18,189.84 557.43,189.76 557.68,189.67 557.92,189.59 558.17,189.5 558.42,189.42 558.67,189.33 558.91,189.25 559.16,189.16 559.41,189.08 559.65,188.99 559.9,188.91 560.15,188.82 560.4,188.74 560.64,188.66 560.89,188.57 561.14,188.49 561.38,188.4 561.63,188.32 561.88,188.24 562.13,188.15 562.37,188.07 562.62,187.99 562.87,187.9 563.11,187.82 563.36,187.74 563.61,187.65 563.86,187.57 564.1,187.49 564.35,187.4 564.6,187.32 564.84,187.24 565.09,187.16 565.34,187.08 565.59,186.99 565.83,186.91 566.08,186.83 566.33,186.75 566.57,186.67 566.82,186.58 567.07,186.5 567.32,186.42 567.56,186.34 567.81,186.26 568.06,186.18 568.3,186.1 568.55,186.02 568.8,185.94 569.05,185.86 569.29,185.78 569.54,185.7 569.79,185.62 570.03,185.54 570.28,185.46 570.53,185.38 570.78,185.3 571.02,185.22 571.27,185.14 571.52,185.06 571.76,184.98 572.01,184.9 572.26,184.82 572.51,184.74 572.75,184.66 573,184.58 573.25,184.51 573.49,184.43 573.74,184.35 573.99,184.27 574.24,184.19 574.48,184.12 574.73,184.04 574.98,183.96 575.22,183.88 575.47,183.81 575.72,183.73 575.97,183.65 576.21,183.58 576.46,183.5 576.71,183.42 576.95,183.35 577.2,183.27 577.45,183.19 577.7,183.12 577.94,183.04 578.19,182.96 578.44,182.89 578.68,182.81 578.93,182.74 579.18,182.66 579.43,182.59 579.67,182.51 579.92,182.44 580.17,182.36 580.41,182.29 580.66,182.21 580.91,182.14 581.16,182.07 581.4,181.99 581.65,181.92 581.9,181.84 582.14,181.77 582.39,181.7 582.64,181.62 582.89,181.55 583.13,181.48 583.38,181.4 583.63,181.33 583.87,181.26 584.12,181.19 584.37,181.11 584.62,181.04 584.86,180.97 585.11,180.9 585.36,180.82 585.6,180.75 585.85,180.68 586.1,180.61 586.35,180.54 586.59,180.47 586.84,180.4 587.09,180.33 587.33,180.26 587.58,180.18 587.83,180.11 588.08,180.04 588.32,179.97 588.57,179.9 588.82,179.83 589.06,179.76 589.31,179.69 589.56,179.63 589.81,179.56 590.05,179.49 590.3,179.42 590.55,179.35 590.79,179.28 591.04,179.21 591.29,179.14 591.54,179.08 591.78,179.01 592.03,178.94 592.28,178.87 592.52,178.8 592.77,178.74 593.02,178.67 593.27,178.6 593.51,178.54 593.76,178.47 594.01,178.4 594.25,178.34 594.5,178.27 594.75,178.2 595,178.14 595.24,178.07 595.49,178.01 595.74,177.94 595.98,177.88 596.23,177.81 596.48,177.74 596.73,177.68 596.97,177.62 597.22,177.55 597.47,177.49 597.71,177.42 597.96,177.36 598.21,177.29 598.46,177.23 598.7,177.17 598.95,177.1 599.2,177.04 599.44,176.98 599.69,176.91 599.94,176.85 600.19,176.79 600.43,176.73 600.68,176.66 600.93,176.6 601.17,176.54 601.42,176.48 601.67,176.42 601.92,176.35 602.16,176.29 602.41,176.23 602.66,176.17 602.9,176.11 603.15,176.05 603.4,175.99 603.65,175.93 603.89,175.87 604.14,175.81 604.39,175.75 604.63,175.69 604.88,175.63 605.13,175.57 605.38,175.51 605.62,175.45 605.87,175.39 606.12,175.33 606.36,175.28 606.61,175.22 606.86,175.16 607.11,175.1 607.35,175.04 607.6,174.99 607.85,174.93 608.09,174.87 608.34,174.81 608.59,174.76 608.84,174.7 609.08,174.64 609.33,174.59 609.58,174.53 609.82,174.47 610.07,174.42 610.32,174.36 610.57,174.31 610.81,174.25 611.06,174.2 611.31,174.14 611.55,174.09 611.8,174.03 612.05,173.98 612.3,173.92 612.54,173.87 612.79,173.81 613.04,173.76 613.28,173.71 613.53,173.65 613.78,173.6 614.03,173.55 614.27,173.49 614.52,173.44 614.77,173.39 615.01,173.34 615.26,173.28 615.51,173.23 615.76,173.18 616,173.13 616.25,173.08 616.5,173.03 616.74,172.98 616.99,172.92 617.24,172.87 617.49,172.82 617.73,172.77 617.98,172.72 618.23,172.67 618.47,172.62 618.72,172.57 618.97,172.52 619.22,172.47 619.46,172.43 619.71,172.38 619.96,172.33 620.2,172.28 620.45,172.23 620.7,172.18 620.95,172.13 621.19,172.09 621.44,172.04 621.69,171.99 621.93,171.94 622.18,171.9 622.43,171.85 622.68,171.8 622.92,171.76 623.17,171.71 623.42,171.67 623.66,171.62 623.91,171.57 624.16,171.53 624.41,171.48 624.65,171.44 624.9,171.39 625.15,171.35 625.39,171.3 625.64,171.26 625.89,171.21 626.14,171.17 626.38,171.13 626.63,171.08 626.88,171.04 627.12,171 627.37,170.95 627.62,170.91 627.87,170.87 628.11,170.83 628.36,170.78 628.61,170.74 628.85,170.7 629.1,170.66 629.35,170.62 629.6,170.57 629.84,170.53 630.09,170.49 630.34,170.45 630.58,170.41 630.83,170.37 631.08,170.33 631.33,170.29 631.57,170.25 631.82,170.21 632.07,170.17 632.31,170.13 632.56,170.09 632.81,170.05 633.06,170.02 633.3,169.98 633.55,169.94 633.8,169.9 634.04,169.86 634.29,169.83 634.54,169.79 634.79,169.75 635.03,169.71 635.28,169.68 635.53,169.64 635.77,169.6 636.02,169.57 636.27,169.53 636.52,169.5 636.76,169.46 637.01,169.42 637.26,169.39 637.5,169.35 637.75,169.32 638,169.28 638.25,169.25 638.49,169.22 638.74,169.18 638.99,169.15 639.23,169.11 639.48,169.08 639.73,169.05 639.98,169.01 640.22,168.98 640.47,168.95 640.72,168.92 640.96,168.88 641.21,168.85 641.46,168.82 641.71,168.79 641.95,168.76 642.2,168.73 642.45,168.7 642.69,168.66 642.94,168.63 643.19,168.6 643.44,168.57 643.68,168.54 643.93,168.51 644.18,168.48 644.42,168.45 644.67,168.43 644.92,168.4 645.17,168.37 645.41,168.34 645.66,168.31 645.91,168.28 646.15,168.25 646.4,168.23 646.65,168.2 646.9,168.17 647.14,168.14 647.39,168.12 647.64,168.09 647.88,168.06 648.13,168.04 648.38,168.01 648.63,167.99 648.87,167.96 649.12,167.93 649.37,167.91 649.61,167.88 649.86,167.86 650.11,167.83 650.36,167.81 650.6,167.79 650.85,167.76 651.1,167.74 651.34,167.71 651.59,167.69 651.84,167.67 652.09,167.64 652.33,167.62 652.58,167.6 652.83,167.58 653.07,167.55 653.32,167.53 653.57,167.51 653.82,167.49 654.06,167.47 654.31,167.45 654.56,167.43 654.8,167.41 655.05,167.38 655.3,167.36 655.55,167.34 655.79,167.32 656.04,167.3 656.29,167.29 656.53,167.27 656.78,167.25 657.03,167.23 657.28,167.21 657.52,167.19 657.77,167.17 658.02,167.15 658.26,167.14 658.51,167.12 658.76,167.1 659.01,167.08 659.25,167.07 659.5,167.05 659.75,167.03 659.99,167.02 660.24,167 660.49,166.99 660.74,166.97 660.98,166.96 661.23,166.94 661.48,166.92 661.72,166.91 661.97,166.9 662.22,166.88 662.47,166.87 662.71,166.85 662.96,166.84 663.21,166.83 663.45,166.81 663.7,166.8 663.95,166.79 664.2,166.77 664.44,166.76 664.69,166.75 664.94,166.74 665.18,166.72 665.43,166.71 665.68,166.7 665.93,166.69 666.17,166.68 666.42,166.67 666.67,166.66 666.91,166.65 667.16,166.64 667.41,166.63 667.66,166.62 667.9,166.61 668.15,166.6 668.4,166.59 668.64,166.58 668.89,166.57 669.14,166.56 669.39,166.56 669.63,166.55 669.88,166.54 670.13,166.53 670.37,166.52 670.62,166.52 670.87,166.51 671.12,166.5 671.36,166.5 671.61,166.49 671.86,166.48 672.1,166.48 672.35,166.47 672.6,166.47 672.85,166.46 673.09,166.46 673.34,166.45 673.59,166.45 673.83,166.44 674.08,166.44 674.33,166.44 674.58,166.43 674.82,166.43 675.07,166.42 675.32,166.42 675.56,166.42 675.81,166.42 676.06,166.41 676.31,166.41 676.55,166.41 676.8,166.41" fill="none" stroke="#1aa7ec" stroke-width="1.25" stroke-linejoin="round"/>
<polyline points="503.8,209.9 504.05,209.8 504.29,209.71 504.54,209.61 504.79,209.51 505.04,209.42 505.28,209.32 505.53,209.22 505.78,209.13 506.02,209.03 506.27,208.94 506.52,208.84 506.77,208.74 507.01,208.65 507.26,208.55 507.51,208.45 507.75,208.36 508,208.26 508.25,208.16 508.5,208.07 508.74,207.97 508.99,207.87 509.24,207.78 509.48,207.68 509.73,207.59 509.98,207.49 510.23,207.39 510.47,207.3 510.72,207.2 510.97,207.1 511.21,207.01 511.46,206.91 511.71,206.81 511.96,206.72 512.2,206.62 512.45,206.53 512.7,206.43 512.94,206.33 513.19,206.24 513.44,206.14 513.69,206.05 513.93,205.95 514.18,205.85 514.43,205.76 514.67,205.66 514.92,205.56 515.17,205.47 515.42,205.37 515.66,205.28 515.91,205.18 516.16,205.08 516.4,204.99 516.65,204.89 516.9,204.8 517.15,204.7 517.39,204.61 517.64,204.51 517.89,204.41 518.13,204.32 518.38,204.22 518.63,204.13 518.88,204.03 519.12,203.94 519.37,203.84 519.62,203.74 519.86,203.65 520.11,203.55 520.36,203.46 520.61,203.36 520.85,203.27 521.1,203.17 521.35,203.08 521.59,202.98 521.84,202.89 522.09,202.79 522.34,202.7 522.58,202.6 522.83,202.51 523.08,202.41 523.32,202.32 523.57,202.22 523.82,202.13 524.07,202.03 524.31,201.94 524.56,201.84 524.81,201.75 525.05,201.65 525.3,201.56 525.55,201.46 525.8,201.37 526.04,201.27 526.29,201.18 526.54,201.08 526.78,200.99 527.03,200.89 527.28,200.8 527.53,200.71 527.77,200.61 528.02,200.52 528.27,200.42 528.51,200.33 528.76,200.24 529.01,200.14 529.26,200.05 529.5,199.95 529.75,199.86 530,199.77 530.24,199.67 530.49,199.58 530.74,199.48 530.99,199.39 531.23,199.3 531.48,199.2 531.73,199.11 531.97,199.02 532.22,198.92 532.47,198.83 532.72,198.74 532.96,198.64 533.21,198.55 533.46,198.46 533.7,198.36 533.95,198.27 534.2,198.18 534.45,198.08 534.69,197.99 534.94,197.9 535.19,197.81 535.43,197.71 535.68,197.62 535.93,197.53 536.18,197.44 536.42,197.34 536.67,197.25 536.92,197.16 537.16,197.07 537.41,196.97 537.66,196.88 537.91,196.79 538.15,196.7 538.4,196.61 538.65,196.51 538.89,196.42 539.14,196.33 539.39,196.24 539.64,196.15 539.88,196.06 540.13,195.96 540.38,195.87 540.62,195.78 540.87,195.69 541.12,195.6 541.37,195.51 541.61,195.42 541.86,195.33 542.11,195.24 542.35,195.14 542.6,195.05 542.85,194.96 543.1,194.87 543.34,194.78 543.59,194.69 543.84,194.6 544.08,194.51 544.33,194.42 544.58,194.33 544.83,194.24 545.07,194.15 545.32,194.06 545.57,193.97 545.81,193.88 546.06,193.79 546.31,193.7 546.56,193.61 546.8,193.52 547.05,193.43 547.3,193.34 547.54,193.26 547.79,193.17 548.04,193.08 548.29,192.99 548.53,192.9 548.78,192.81 549.03,192.72 549.27,192.63 549.52,192.54 549.77,192.46 550.02,192.37 550.26,192.28 550.51,192.19 550.76,192.1 551,192.02 551.25,191.93 551.5,191.84 551.75,191.75 551.99,191.66 552.24,191.58 552.49,191.49 552.73,191.4 552.98,191.31 553.23,191.23 553.48,191.14 553.72,191.05 553.97,190.97 554.22,190.88 554.46,190.79 554.71,190.71 554.96,190.62 555.21,190.53 555.45,190.45 555.7,190.36 555.95,190.27 556.19,190.19 556.44,190.1 556.69,190.02 556.94,189.93 557.18,189.84 557.43,189.76 557.68,189.67 557.92,189.59 558.17,189.5 558.42,189.42 558.67,189.33 558.91,189.25 559.16,189.16 559.41,189.08 559.65,188.99 559.9,188.91 560.15,188.82 560.4,188.74 560.64,188.66 560.89,188.57 561.14,188.49 561.38,188.4 561.63,188.32 561.88,188.24 562.13,188.15 562.37,188.07 562.62,187.99 562.87,187.9 563.11,187.82 563.36,187.74 563.61,187.65 563.86,187.57 564.1,187.49 564.35,187.4 564.6,187.32 564.84,187.24 565.09,187.16 565.34,187.08 565.59,186.99 565.83,186.91 566.08,186.83 566.33,186.75 566.57,186.67 566.82,186.58 567.07,186.5 567.32,186.42 567.56,186.34 567.81,186.26 568.06,186.18 568.3,186.1 568.55,186.02 568.8,185.94 569.05,185.86 569.29,185.78 569.54,185.7 569.79,185.62 570.03,185.54 570.28,185.46 570.53,185.38 570.78,185.3 571.02,185.22 571.27,185.14 571.52,185.06 571.76,184.98 572.01,184.9 572.26,184.82 572.51,184.74 572.75,184.66 573,184.58 573.25,184.51 573.49,184.43 573.74,184.35 573.99,184.27 574.24,184.19 574.48,184.12 574.73,184.04 574.98,183.96 575.22,183.88 575.47,183.81 575.72,183.73 575.97,183.65 576.21,183.58 576.46,183.5 576.71,183.42 576.95,183.35 577.2,183.27 577.45,183.19 577.7,183.12 577.94,183.04 578.19,182.96 578.44,182.89 578.68,182.81 578.93,182.74 579.18,182.66 579.43,182.59 579.67,182.51 579.92,182.44 580.17,182.36 580.41,182.29 580.66,182.22 580.91,182.15 581.16,182.07 581.4,182 581.65,181.94 581.9,181.87 582.14,181.81 582.39,181.75 582.64,181.7 582.89,181.66 583.13,181.63 583.38,181.61 583.63,181.61 583.87,181.64 584.12,181.69 584.37,181.78 584.62,181.91 584.86,182.09 585.11,182.33 585.36,182.64 585.6,183.04 585.85,183.53 586.1,184.12 586.35,184.82 586.59,185.64 586.84,186.59 587.09,187.67 587.33,188.89 587.58,190.23 587.83,191.68 588.08,193.25 588.32,194.9 588.57,196.62 588.82,198.37 589.06,200.12 589.31,201.84 589.56,203.49 589.81,205.02 590.05,206.41 590.3,207.6 590.55,208.57 590.79,209.29 591.04,209.74 591.29,209.9 591.54,209.77 591.78,209.34 592.03,208.63 592.28,207.66 592.52,206.45 592.77,205.03 593.02,203.44 593.27,201.71 593.51,199.89 593.76,198.02 594.01,196.13 594.25,194.25 594.5,192.42 594.75,190.67 595,189.01 595.24,187.47 595.49,186.05 595.74,184.76 595.98,183.6 596.23,182.57 596.48,181.67 596.73,180.88 596.97,180.2 597.22,179.62 597.47,179.13 597.71,178.71 597.96,178.36 598.21,178.06 598.46,177.82 598.7,177.61 598.95,177.44 599.2,177.29 599.44,177.16 599.69,177.04 599.94,176.95 600.19,176.86 600.43,176.77 600.68,176.7 600.93,176.62 601.17,176.55 601.42,176.49 601.67,176.42 601.92,176.36 602.16,176.3 602.41,176.23 602.66,176.17 602.9,176.11 603.15,176.05 603.4,175.99 603.65,175.93 603.89,175.87 604.14,175.81 604.39,175.75 604.63,175.69 604.88,175.63 605.13,175.57 605.38,175.51 605.62,175.45 605.87,175.39 606.12,175.33 606.36,175.28 606.61,175.22 606.86,175.16 607.11,175.1 607.35,175.04 607.6,174.99 607.85,174.93 608.09,174.87 608.34,174.81 608.59,174.76 608.84,174.7 609.08,174.64 609.33,174.59 609.58,174.53 609.82,174.47 610.07,174.42 610.32,174.36 610.57,174.31 610.81,174.25 611.06,174.2 611.31,174.14 611.55,174.09 611.8,174.03 612.05,173.98 612.3,173.92 612.54,173.87 612.79,173.81 613.04,173.76 613.28,173.71 613.53,173.65 613.78,173.6 614.03,173.55 614.27,173.49 614.52,173.44 614.77,173.39 615.01,173.34 615.26,173.28 615.51,173.23 615.76,173.18 616,173.13 616.25,173.08 616.5,173.03 616.74,172.98 616.99,172.92 617.24,172.87 617.49,172.82 617.73,172.77 617.98,172.72 618.23,172.67 618.47,172.62 618.72,172.57 618.97,172.52 619.22,172.47 619.46,172.43 619.71,172.38 619.96,172.33 620.2,172.28 620.45,172.23 620.7,172.18 620.95,172.13 621.19,172.09 621.44,172.04 621.69,171.99 621.93,171.94 622.18,171.9 622.43,171.85 622.68,171.8 622.92,171.76 623.17,171.71 623.42,171.67 623.66,171.62 623.91,171.57 624.16,171.53 624.41,171.48 624.65,171.44 624.9,171.39 625.15,171.35 625.39,171.3 625.64,171.26 625.89,171.21 626.14,171.17 626.38,171.13 626.63,171.08 626.88,171.04 627.12,171 627.37,170.95 627.62,170.91 627.87,170.87 628.11,170.83 628.36,170.78 628.61,170.74 628.85,170.7 629.1,170.66 629.35,170.62 629.6,170.57 629.84,170.53 630.09,170.49 630.34,170.45 630.58,170.41 630.83,170.37 631.08,170.33 631.33,170.29 631.57,170.25 631.82,170.21 632.07,170.17 632.31,170.13 632.56,170.09 632.81,170.05 633.06,170.02 633.3,169.98 633.55,169.94 633.8,169.9 634.04,169.86 634.29,169.83 634.54,169.79 634.79,169.75 635.03,169.71 635.28,169.68 635.53,169.64 635.77,169.6 636.02,169.57 636.27,169.53 636.52,169.5 636.76,169.46 637.01,169.42 637.26,169.39 637.5,169.35 637.75,169.32 638,169.28 638.25,169.25 638.49,169.22 638.74,169.18 638.99,169.15 639.23,169.11 639.48,169.08 639.73,169.05 639.98,169.01 640.22,168.98 640.47,168.95 640.72,168.92 640.96,168.88 641.21,168.85 641.46,168.82 641.71,168.79 641.95,168.76 642.2,168.73 642.45,168.7 642.69,168.66 642.94,168.63 643.19,168.6 643.44,168.57 643.68,168.54 643.93,168.51 644.18,168.48 644.42,168.45 644.67,168.43 644.92,168.4 645.17,168.37 645.41,168.34 645.66,168.31 645.91,168.28 646.15,168.25 646.4,168.23 646.65,168.2 646.9,168.17 647.14,168.14 647.39,168.12 647.64,168.09 647.88,168.06 648.13,168.04 648.38,168.01 648.63,167.99 648.87,167.96 649.12,167.93 649.37,167.91 649.61,167.88 649.86,167.86 650.11,167.83 650.36,167.81 650.6,167.79 650.85,167.76 651.1,167.74 651.34,167.71 651.59,167.69 651.84,167.67 652.09,167.64 652.33,167.62 652.58,167.6 652.83,167.58 653.07,167.55 653.32,167.53 653.57,167.51 653.82,167.49 654.06,167.47 654.31,167.45 654.56,167.43 654.8,167.41 655.05,167.38 655.3,167.36 655.55,167.34 655.79,167.32 656.04,167.3 656.29,167.29 656.53,167.27 656.78,167.25 657.03,167.23 657.28,167.21 657.52,167.19 657.77,167.17 658.02,167.15 658.26,167.14 658.51,167.12 658.76,167.1 659.01,167.08 659.25,167.07 659.5,167.05 659.75,167.03 659.99,167.02 660.24,167 660.49,166.99 660.74,166.97 660.98,166.96 661.23,166.94 661.48,166.92 661.72,166.91 661.97,166.9 662.22,166.88 662.47,166.87 662.71,166.85 662.96,166.84 663.21,166.83 663.45,166.81 663.7,166.8 663.95,166.79 664.2,166.77 664.44,166.76 664.69,166.75 664.94,166.74 665.18,166.72 665.43,166.71 665.68,166.7 665.93,166.69 666.17,166.68 666.42,166.67 666.67,166.66 666.91,166.65 667.16,166.64 667.41,166.63 667.66,166.62 667.9,166.61 668.15,166.6 668.4,166.59 668.64,166.58 668.89,166.57 669.14,166.56 669.39,166.56 669.63,166.55 669.88,166.54 670.13,166.53 670.37,166.52 670.62,166.52 670.87,166.51 671.12,166.5 671.36,166.5 671.61,166.49 671.86,166.48 672.1,166.48 672.35,166.47 672.6,166.47 672.85,166.46 673.09,166.46 673.34,166.45 673.59,166.45 673.83,166.44 674.08,166.44 674.33,166.44 674.58,166.43 674.82,166.43 675.07,166.42 675.32,166.42 675.56,166.42 675.81,166.42 676.06,166.41 676.31,166.41 676.55,166.41 676.8,166.41" fill="none" stroke="#f4ae2e" stroke-width="1.25" stroke-dasharray="3 2" stroke-linejoin="round"/>
<line x1="511" y1="131.5" x2="525.8" y2="131.5" stroke="#1aa7ec" stroke-width="1.3"/>
<text x="528.4" y="134.45" class="s" font-size="10" fill="#000">: TA, T&gt;&gt;T<tspan font-size="7" dy="1.6">CDW</tspan></text>
<line x1="511" y1="142.9" x2="525.8" y2="142.9" stroke="#f3ac2b" stroke-width="1.3" stroke-dasharray="2 2"/>
<text x="528.4" y="145.85" class="s" font-size="10" fill="#000">: TA, T=T<tspan font-size="7" dy="1.6">CDW</tspan></text>
<line x1="511" y1="154.3" x2="525.8" y2="154.3" stroke="#8a2be2" stroke-width="1.3"/>
<text x="528.4" y="157.25" class="s" font-size="10" fill="#000">: LA</text>
<text transform="translate(484.2,47.75) rotate(-90)" text-anchor="middle" class="s" font-size="12" fill="#000">Energy</text>
<text transform="translate(484.2,165.6) rotate(-90)" text-anchor="middle" class="s" font-size="12" fill="#000">Energy</text>
<text x="500.6" y="8.7" text-anchor="end" class="s" font-size="9.8" fill="#000">1</text>
<text x="500.8" y="95.4" text-anchor="end" class="s" font-size="10.3" fill="#000">0</text>
<text x="504.2" y="104.3" text-anchor="middle" class="s" font-size="10.2" fill="#000">0.0</text>
<text x="677.4" y="104.3" text-anchor="middle" class="s" font-size="10.2" fill="#000">0.5</text>
<text x="500.6" y="125.3" text-anchor="end" class="s" font-size="9.8" fill="#000">1</text>
<text x="500.8" y="212.3" text-anchor="end" class="s" font-size="10.3" fill="#000">0</text>
<text x="504.2" y="221.2" text-anchor="middle" class="s" font-size="10.2" fill="#000">0.0</text>
<text x="677.4" y="221.2" text-anchor="middle" class="s" font-size="10.2" fill="#000">0.5</text>
<text x="569.3" y="237.8" class="s" font-size="12" fill="#000">Q (r.l.u.)</text>
<text x="481.4" y="253.8" class="s" font-weight="bold" font-size="14.2" fill="#000">g</text>
<polyline points="506.1,429.26 506.77,429.32 507.43,429.35 508.1,429.42 508.77,429.32 509.44,429.41 510.1,428.96 510.77,429.18 511.44,429.42 512.11,429.27 512.77,429.4 513.44,429.01 514.11,429.18 514.78,429.07 515.44,429.22 516.11,429.24 516.78,428.96 517.44,429.06 518.11,429.09 518.78,429.41 519.45,429.33 520.11,429.03 520.78,429.35 521.45,429.02 522.12,429.26 522.78,429.01 523.45,428.95 524.12,429.39 524.78,429.05 525.45,429.06 526.12,429.44 526.79,429.39 527.45,429.09 528.12,429.43 528.79,429.22 529.46,429.29 530.12,429.05 530.79,429.42 531.46,429.3 532.13,429.43 532.79,429.4 533.46,429.1 534.13,429.13 534.79,429.03 535.46,429.02 536.13,428.98 536.8,429.1 537.46,429.25 538.13,428.95 538.8,429.29 539.47,429.12 540.13,429.1 540.8,429.36 541.47,429.19 542.14,429.11 542.8,429.19 543.47,429.3 544.14,428.98 544.8,429.44 545.47,428.96 546.14,429.32 546.81,429.37 547.47,428.96 548.14,429.34 548.81,429.13 549.48,429.24 550.14,428.95 550.81,428.97 551.48,429.04 552.14,429.43 552.81,429.05 553.48,429.33 554.15,429.41 554.81,429.42 555.48,429.12 556.15,429.13 556.82,429.21 557.48,429.34 558.15,429 558.82,429.32 559.49,429.35 560.15,429.38 560.82,428.97 561.49,429.42 562.15,429 562.82,429.12 563.49,429.26 564.16,429.41 564.82,429.12 565.49,429.41 566.16,429.22 566.83,429.11 567.49,429.11 568.16,429.04 568.83,428.99 569.49,429.02 570.16,429.29 570.83,429.45 571.5,429.03 572.16,428.97 572.83,429.44 573.5,429.22 574.17,429.15 574.83,429.07 575.5,429.25 576.17,429.36 576.84,429.18 577.5,429.16 578.17,428.98 578.84,429.41 579.5,428.97 580.17,429.2 580.84,429.37 581.51,429.02 582.17,429.32 582.84,429.42 583.51,429.27 584.18,429.34 584.84,429 585.51,429.17 586.18,429.02 586.85,429.37 587.51,429.1 588.18,429.18 588.85,429.45 589.51,429.38 590.18,429.44 590.85,429.18 591.52,429.19 592.18,429.31 592.85,429.19 593.52,429.1 594.19,429.15 594.85,429.02 595.52,429.14 596.19,429.44 596.85,429.43 597.52,429.26 598.19,429.2 598.86,429.12 599.52,428.99 600.19,429.09 600.86,429.34 601.53,429.38 602.19,429.13 602.86,429.34 603.53,429.34 604.2,429.3 604.86,429.28 605.53,429.33 606.2,429.13 606.86,429.3 607.53,429.09 608.2,429.19 608.87,429.33 609.53,429.3 610.2,429.1 610.87,429.42 611.54,429.27 612.2,429.24 612.87,428.96 613.54,429.22 614.21,429.08 614.87,429.29 615.54,429.18 616.21,429.36 616.87,429.27 617.54,429.35 618.21,429.12 618.88,429.27 619.54,429.32 620.21,429.36 620.88,429.13 621.55,429.37 622.21,429.38 622.88,429.29 623.55,429.44 624.21,429.43 624.88,429.21 625.55,429.21 626.22,429.03 626.88,429.37 627.55,429.42 628.22,429.19 628.89,429.3 629.55,429.31 630.22,429.32 630.89,429.04 631.56,429.34 632.22,429.24 632.89,429.28 633.56,429.16 634.22,429.26 634.89,429.34 635.56,429.27 636.23,429.31 636.89,428.96 637.56,429.03 638.23,429.17 638.9,429.28 639.56,429.06 640.23,429.29 640.9,429.27 641.56,428.97 642.23,429.19 642.9,429.06 643.57,428.98 644.23,429.02 644.9,429.11 645.57,429.04 646.24,429.05 646.9,428.97 647.57,429.18 648.24,429.14 648.91,429.26 649.57,429.25 650.24,429.07 650.91,429.4 651.57,428.95 652.24,429.15 652.91,429.09 653.58,429.16 654.24,429.01 654.91,429.37 655.58,429.14 656.25,428.97 656.91,429.26 657.58,429 658.25,429.22 658.92,429.12 659.58,429.24 660.25,429.43 660.92,429.36 661.58,429.16 662.25,429.36 662.92,429.27 663.59,429.13 664.25,429.02 664.92,429.25 665.59,429.23 666.26,429.43 666.92,429.43 667.59,429.25 668.26,429.13 668.92,429.4 669.59,428.95 670.26,429 670.93,429.23 671.59,429.26 672.26,429.02 672.93,429.26 673.6,429.4 674.26,429.14 674.93,429.17 675.6,429.06 676.27,429.1 676.93,429.44 677.6,429.14" fill="none" stroke="#de4a48" stroke-width="1.3" stroke-linejoin="round"/>
<polyline points="506.1,429.43 506.77,429.41 507.43,429.25 508.1,429.08 508.77,429.44 509.44,429.2 510.1,429.16 510.77,429.11 511.44,429.44 512.11,429.2 512.77,429.09 513.44,429.19 514.11,429.01 514.78,429.26 515.44,429.17 516.11,429.1 516.78,429.34 517.44,429.36 518.11,428.96 518.78,429.22 519.45,429.09 520.11,429.42 520.78,429.34 521.45,429.07 522.12,429.08 522.78,429.03 523.45,429.44 524.12,429.1 524.78,429.25 525.45,429.19 526.12,429.27 526.79,429.25 527.45,429.32 528.12,429.01 528.79,429.33 529.46,429.1 530.12,429.22 530.79,429.12 531.46,429.1 532.13,429.21 532.79,429.18 533.46,429.13 534.13,429.32 534.79,429.25 535.46,428.97 536.13,429.08 536.8,429.18 537.46,429.41 538.13,429.39 538.8,429.22 539.47,428.96 540.13,429.34 540.8,429.16 541.47,429.24 542.14,429.3 542.8,429.27 543.47,429.19 544.14,429.41 544.8,429.14 545.47,429.15 546.14,429.38 546.81,429.05 547.47,429.1 548.14,429.37 548.81,428.98 549.48,429.37 550.14,429.3 550.81,429.17 551.48,429.09 552.14,429.34 552.81,429.41 553.48,429.02 554.15,429.19 554.81,429.22 555.48,429.2 556.15,429.12 556.82,429.03 557.48,429.24 558.15,429.36 558.82,428.98 559.49,429.07 560.15,429.36 560.82,429.35 561.49,429.28 562.15,428.96 562.82,429.31 563.49,429.44 564.16,429.45 564.82,429.3 565.49,428.97 566.16,429.37 566.83,429.06 567.49,429.27 568.16,429.42 568.83,429.3 569.49,429.01 570.16,429.09 570.83,429.4 571.5,429.02 572.16,429.24 572.83,429.14 573.5,429.01 574.17,429.23 574.83,428.92 575.5,428.94 576.17,429.06 576.84,428.88 577.5,428.84 578.17,429.07 578.84,429.11 579.5,429.13 580.17,428.71 580.84,428.8 581.51,428.68 582.17,428.76 582.84,428.63 583.51,428.79 584.18,428.45 584.84,428.23 585.51,428.5 586.18,428.18 586.85,428.39 587.51,428.31 588.18,428.51 588.85,428.33 589.51,428.39 590.18,428.24 590.85,428.42 591.52,428.33 592.18,428.63 592.85,428.58 593.52,428.45 594.19,428.57 594.85,428.7 595.52,428.95 596.19,428.73 596.85,429.05 597.52,429.06 598.19,428.82 598.86,429.15 599.52,428.89 600.19,428.93 600.86,429.18 601.53,429.02 602.19,429.35 602.86,429.16 603.53,429.09 604.2,429.34 604.86,428.96 605.53,429.31 606.2,428.97 606.86,429.02 607.53,429.42 608.2,429.29 608.87,429.06 609.53,429.01 610.2,429.44 610.87,429.28 611.54,429.36 612.2,429.02 612.87,429.26 613.54,429.13 614.21,429.07 614.87,429.12 615.54,429.26 616.21,429.12 616.87,429.14 617.54,429.02 618.21,429.37 618.88,429.27 619.54,429.35 620.21,429.17 620.88,429.38 621.55,429.21 622.21,429.25 622.88,429.24 623.55,429.32 624.21,429.15 624.88,429 625.55,428.97 626.22,429.05 626.88,428.97 627.55,429.39 628.22,429.19 628.89,429.33 629.55,428.95 630.22,429.19 630.89,429.39 631.56,429.26 632.22,429.16 632.89,429.18 633.56,429 634.22,429.03 634.89,429.03 635.56,429.14 636.23,429.14 636.89,429.39 637.56,429.03 638.23,429.08 638.9,429.09 639.56,429.03 640.23,429.09 640.9,429.07 641.56,429.19 642.23,428.97 642.9,429.41 643.57,429.13 644.23,429.42 644.9,429.29 645.57,429.29 646.24,429.19 646.9,429.42 647.57,429.01 648.24,429.28 648.91,429.1 649.57,429.29 650.24,429.31 650.91,429.03 651.57,429.05 652.24,428.96 652.91,429.07 653.58,428.99 654.24,429.15 654.91,429.44 655.58,429.13 656.25,429.11 656.91,429.18 657.58,429.09 658.25,429.32 658.92,429.31 659.58,429.03 660.25,429.07 660.92,429.29 661.58,429.42 662.25,429.27 662.92,429.17 663.59,429.44 664.25,428.95 664.92,428.98 665.59,429.34 666.26,429.16 666.92,428.97 667.59,429.22 668.26,429.44 668.92,429.21 669.59,429.13 670.26,429 670.93,428.99 671.59,429.4 672.26,429.2 672.93,429.42 673.6,428.98 674.26,429.07 674.93,428.98 675.6,429.15 676.27,428.98 676.93,429.08 677.6,429.15" fill="none" stroke="#e48a6a" stroke-width="1.3" stroke-linejoin="round"/>
<polyline points="540.25,428.6 540.92,428.6 541.59,428.6 542.26,428.6 542.93,428.6 543.6,428.6 544.27,428.6 544.94,428.6 545.61,428.6 546.28,428.6 546.95,428.6 547.62,428.6 548.29,428.6 548.96,428.6 549.63,428.6 550.3,428.6 550.97,428.6 551.64,428.6 552.31,428.6 552.98,428.6 553.65,428.6 554.32,428.6 554.99,428.6 555.66,428.6 556.33,428.6 557,428.6 557.67,428.6 558.34,428.6 559.01,428.6 559.68,428.6 560.35,428.6 561.02,428.6 561.69,428.6 562.36,428.6 563.03,428.6 563.7,428.6 564.37,428.6 565.04,428.6 565.71,428.6 566.38,428.6 567.05,428.6 567.72,428.6 568.39,428.6 569.06,428.6 569.73,428.6 570.4,428.59 571.07,428.59 571.74,428.59 572.41,428.58 573.08,428.58 573.75,428.57 574.42,428.56 575.09,428.54 575.76,428.52 576.43,428.5 577.1,428.47 577.77,428.43 578.44,428.39 579.11,428.35 579.78,428.29 580.45,428.23 581.12,428.16 581.79,428.09 582.46,428.02 583.12,427.95 583.79,427.87 584.46,427.81 585.13,427.74 585.8,427.69 586.47,427.65 587.14,427.62 587.81,427.6 588.48,427.6 589.15,427.61 589.82,427.64 590.49,427.68 591.16,427.74 591.83,427.8 592.5,427.86 593.17,427.94 593.84,428.01 594.51,428.08 595.18,428.15 595.85,428.22 596.52,428.28 597.19,428.34 597.86,428.39 598.53,428.43 599.2,428.46 599.87,428.49 600.54,428.52 601.21,428.54 601.88,428.55 602.55,428.57 603.22,428.58 603.89,428.58 604.56,428.59 605.23,428.59 605.9,428.59 606.57,428.6 607.24,428.6 607.91,428.6 608.58,428.6 609.25,428.6 609.92,428.6 610.59,428.6 611.26,428.6 611.93,428.6 612.6,428.6 613.27,428.6 613.94,428.6 614.61,428.6 615.28,428.6 615.95,428.6 616.62,428.6 617.29,428.6 617.96,428.6 618.63,428.6 619.3,428.6 619.97,428.6 620.64,428.6 621.31,428.6 621.98,428.6 622.65,428.6 623.32,428.6 623.99,428.6 624.66,428.6 625.33,428.6 626,428.6" fill="none" stroke="#dca040" stroke-width="1.25" stroke-linejoin="round"/>
<polyline points="540.25,428.6 540.92,428.6 541.59,428.6 542.26,428.6 542.93,428.6 543.6,428.6 544.27,428.6 544.94,428.6 545.61,428.6 546.28,428.6 546.95,428.6 547.62,428.6 548.29,428.6 548.96,428.6 549.63,428.6 550.3,428.6 550.97,428.6 551.64,428.6 552.31,428.6 552.98,428.6 553.65,428.6 554.32,428.6 554.99,428.6 555.66,428.6 556.33,428.6 557,428.6 557.67,428.6 558.34,428.6 559.01,428.6 559.68,428.6 560.35,428.6 561.02,428.6 561.69,428.6 562.36,428.6 563.03,428.6 563.7,428.6 564.37,428.6 565.04,428.6 565.71,428.6 566.38,428.6 567.05,428.6 567.72,428.6 568.39,428.6 569.06,428.6 569.73,428.59 570.4,428.59 571.07,428.59 571.74,428.58 572.41,428.57 573.08,428.56 573.75,428.54 574.42,428.52 575.09,428.5 575.76,428.46 576.43,428.42 577.1,428.37 577.77,428.3 578.44,428.23 579.11,428.14 579.78,428.04 580.45,427.93 581.12,427.81 581.79,427.69 582.46,427.56 583.12,427.42 583.79,427.29 584.46,427.17 585.13,427.06 585.8,426.96 586.47,426.89 587.14,426.83 587.81,426.8 588.48,426.8 589.15,426.83 589.82,426.88 590.49,426.95 591.16,427.04 591.83,427.15 592.5,427.27 593.17,427.4 593.84,427.54 594.51,427.67 595.18,427.8 595.85,427.92 596.52,428.03 597.19,428.13 597.86,428.22 598.53,428.29 599.2,428.36 599.87,428.41 600.54,428.45 601.21,428.49 601.88,428.52 602.55,428.54 603.22,428.56 603.89,428.57 604.56,428.58 605.23,428.59 605.9,428.59 606.57,428.59 607.24,428.6 607.91,428.6 608.58,428.6 609.25,428.6 609.92,428.6 610.59,428.6 611.26,428.6 611.93,428.6 612.6,428.6 613.27,428.6 613.94,428.6 614.61,428.6 615.28,428.6 615.95,428.6 616.62,428.6 617.29,428.6 617.96,428.6 618.63,428.6 619.3,428.6 619.97,428.6 620.64,428.6 621.31,428.6 621.98,428.6 622.65,428.6 623.32,428.6 623.99,428.6 624.66,428.6 625.33,428.6 626,428.6" fill="none" stroke="#c8c02c" stroke-width="1.25" stroke-linejoin="round"/>
<polyline points="540.25,428.6 540.92,428.6 541.59,428.6 542.26,428.6 542.93,428.6 543.6,428.6 544.27,428.6 544.94,428.6 545.61,428.6 546.28,428.6 546.95,428.6 547.62,428.6 548.29,428.6 548.96,428.6 549.63,428.6 550.3,428.6 550.97,428.6 551.64,428.6 552.31,428.6 552.98,428.6 553.65,428.6 554.32,428.6 554.99,428.6 555.66,428.6 556.33,428.6 557,428.6 557.67,428.6 558.34,428.6 559.01,428.6 559.68,428.6 560.35,428.6 561.02,428.6 561.69,428.6 562.36,428.6 563.03,428.6 563.7,428.6 564.37,428.6 565.04,428.6 565.71,428.6 566.38,428.6 567.05,428.6 567.72,428.6 568.39,428.6 569.06,428.6 569.73,428.6 570.4,428.6 571.07,428.59 571.74,428.59 572.41,428.58 573.08,428.57 573.75,428.56 574.42,428.53 575.09,428.5 575.76,428.45 576.43,428.38 577.1,428.27 577.77,428.12 578.44,428 579.11,427.76 579.78,427.58 580.45,427.19 581.12,426.8 581.79,426.11 582.46,425.99 583.12,425.12 583.79,424.31 584.46,423.64 585.13,423.21 585.8,422.85 586.47,423.08 587.14,422.23 587.81,421.73 588.48,422.83 589.15,422.62 589.82,422.06 590.49,422.49 591.16,423.08 591.83,423.89 592.5,424.97 593.17,425.55 593.84,425.76 594.51,426.02 595.18,426.61 595.85,426.99 596.52,427.34 597.19,427.57 597.86,427.93 598.53,428.14 599.2,428.27 599.87,428.33 600.54,428.43 601.21,428.48 601.88,428.53 602.55,428.55 603.22,428.57 603.89,428.58 604.56,428.59 605.23,428.59 605.9,428.6 606.57,428.6 607.24,428.6 607.91,428.6 608.58,428.6 609.25,428.6 609.92,428.6 610.59,428.6 611.26,428.6 611.93,428.6 612.6,428.6 613.27,428.6 613.94,428.6 614.61,428.6 615.28,428.6 615.95,428.6 616.62,428.6 617.29,428.6 617.96,428.6 618.63,428.6 619.3,428.6 619.97,428.6 620.64,428.6 621.31,428.6 621.98,428.6 622.65,428.6 623.32,428.6 623.99,428.6 624.66,428.6 625.33,428.6 626,428.6" fill="none" stroke="#50d650" stroke-width="1.25" stroke-linejoin="round"/>
<polyline points="540.25,428.6 540.92,428.6 541.59,428.6 542.26,428.6 542.93,428.6 543.6,428.6 544.27,428.6 544.94,428.6 545.61,428.6 546.28,428.6 546.95,428.6 547.62,428.6 548.29,428.6 548.96,428.6 549.63,428.6 550.3,428.6 550.97,428.6 551.64,428.6 552.31,428.6 552.98,428.6 553.65,428.6 554.32,428.6 554.99,428.6 555.66,428.6 556.33,428.6 557,428.6 557.67,428.6 558.34,428.6 559.01,428.6 559.68,428.6 560.35,428.6 561.02,428.6 561.69,428.6 562.36,428.6 563.03,428.6 563.7,428.6 564.37,428.6 565.04,428.6 565.71,428.6 566.38,428.6 567.05,428.6 567.72,428.6 568.39,428.6 569.06,428.6 569.73,428.6 570.4,428.6 571.07,428.59 571.74,428.58 572.41,428.57 573.08,428.54 573.75,428.49 574.42,428.4 575.09,428.25 575.76,428.02 576.43,427.66 577.1,427.12 577.77,426.35 578.44,425.28 579.11,423.84 579.78,422.03 580.45,419.62 581.12,416.65 581.79,414.18 582.46,410.45 583.12,406.29 583.79,403.06 584.46,399.85 585.13,398.68 585.8,397.5 586.47,395.23 587.14,397.19 587.81,397.39 588.48,399.64 589.15,401.61 589.82,402.85 590.49,404.89 591.16,405.93 591.83,407.12 592.5,409.51 593.17,411.2 593.84,412.26 594.51,413.94 595.18,415.24 595.85,416.27 596.52,417.7 597.19,418.85 597.86,419.92 598.53,420.96 599.2,421.64 599.87,422.66 600.54,423.26 601.21,423.76 601.88,424.33 602.55,424.83 603.22,425.29 603.89,425.69 604.56,426.05 605.23,426.37 605.9,426.65 606.57,426.91 607.24,427.13 607.91,427.32 608.58,427.49 609.25,427.64 609.92,427.77 610.59,427.89 611.26,427.99 611.93,428.07 612.6,428.15 613.27,428.21 613.94,428.27 614.61,428.32 615.28,428.36 615.95,428.4 616.62,428.43 617.29,428.45 617.96,428.48 618.63,428.49 619.3,428.51 619.97,428.52 620.64,428.54 621.31,428.55 621.98,428.56 622.65,428.56 623.32,428.57 623.99,428.57 624.66,428.58 625.33,428.58 626,428.58" fill="none" stroke="#80dab6" stroke-width="1.25" stroke-linejoin="round"/>
<polyline points="540.25,428.6 540.92,428.6 541.59,428.6 542.26,428.6 542.93,428.6 543.6,428.6 544.27,428.6 544.94,428.6 545.61,428.6 546.28,428.6 546.95,428.6 547.62,428.6 548.29,428.6 548.96,428.6 549.63,428.6 550.3,428.6 550.97,428.6 551.64,428.6 552.31,428.6 552.98,428.6 553.65,428.6 554.32,428.6 554.99,428.6 555.66,428.6 556.33,428.6 557,428.6 557.67,428.6 558.34,428.6 559.01,428.6 559.68,428.6 560.35,428.6 561.02,428.6 561.69,428.6 562.36,428.6 563.03,428.6 563.7,428.6 564.37,428.6 565.04,428.6 565.71,428.6 566.38,428.6 567.05,428.6 567.72,428.6 568.39,428.6 569.06,428.6 569.73,428.6 570.4,428.6 571.07,428.6 571.74,428.6 572.41,428.59 573.08,428.58 573.75,428.56 574.42,428.52 575.09,428.45 575.76,428.31 576.43,428.07 577.1,427.67 577.77,427.02 578.44,426.01 579.11,424.5 579.78,422.36 580.45,419.7 581.12,415.76 581.79,411.01 582.46,405.16 583.12,399.3 583.79,391.48 584.46,385.31 585.13,379.4 585.8,373.73 586.47,369.23 587.14,366.78 587.81,367.97 588.48,371.62 589.15,375.52 589.82,379.45 590.49,382.68 591.16,384.88 591.83,390.1 592.5,391.69 593.17,395.99 593.84,397.66 594.51,401.93 595.18,404.46 595.85,407.39 596.52,409.56 597.19,411.38 597.86,413.47 598.53,415.11 599.2,416.59 599.87,417.73 600.54,419.26 601.21,420.41 601.88,421.45 602.55,422.37 603.22,423.19 603.89,423.91 604.56,424.55 605.23,425.1 605.9,425.59 606.57,426.01 607.24,426.38 607.91,426.7 608.58,426.98 609.25,427.22 609.92,427.43 610.59,427.61 611.26,427.76 611.93,427.89 612.6,428 613.27,428.09 613.94,428.17 614.61,428.24 615.28,428.3 615.95,428.35 616.62,428.39 617.29,428.43 617.96,428.45 618.63,428.48 619.3,428.5 619.97,428.52 620.64,428.53 621.31,428.54 621.98,428.55 622.65,428.56 623.32,428.57 623.99,428.57 624.66,428.58 625.33,428.58 626,428.59" fill="none" stroke="#4cd0de" stroke-width="1.25" stroke-linejoin="round"/>
<polyline points="540.25,428.6 540.92,428.6 541.59,428.6 542.26,428.6 542.93,428.6 543.6,428.6 544.27,428.6 544.94,428.6 545.61,428.6 546.28,428.6 546.95,428.6 547.62,428.6 548.29,428.6 548.96,428.6 549.63,428.6 550.3,428.6 550.97,428.6 551.64,428.6 552.31,428.6 552.98,428.6 553.65,428.6 554.32,428.6 554.99,428.6 555.66,428.6 556.33,428.6 557,428.6 557.67,428.6 558.34,428.6 559.01,428.6 559.68,428.6 560.35,428.6 561.02,428.6 561.69,428.6 562.36,428.6 563.03,428.6 563.7,428.6 564.37,428.6 565.04,428.6 565.71,428.6 566.38,428.6 567.05,428.6 567.72,428.6 568.39,428.6 569.06,428.6 569.73,428.6 570.4,428.6 571.07,428.6 571.74,428.59 572.41,428.59 573.08,428.57 573.75,428.55 574.42,428.49 575.09,428.39 575.76,428.2 576.43,427.86 577.1,427.3 577.77,426.4 578.44,425 579.11,422.91 579.78,419.93 580.45,416.21 581.12,410.19 581.79,404.68 582.46,396.05 583.12,386.71 583.79,375.74 584.46,367.59 585.13,357.82 585.8,353.06 586.47,349.62 587.14,347.58 587.81,347.38 588.48,349.6 589.15,352.41 589.82,359.96 590.49,364.07 591.16,369.57 591.83,372.97 592.5,379.48 593.17,381.67 593.84,386.29 594.51,390.27 595.18,394.94 595.85,399 596.52,400.75 597.19,404.58 597.86,407.48 598.53,409.18 599.2,411.27 599.87,413.86 600.54,415.91 601.21,417.22 601.88,418.67 602.55,419.95 603.22,421.08 603.89,422.09 604.56,422.97 605.23,423.74 605.9,424.42 606.57,425.01 607.24,425.52 607.91,425.97 608.58,426.35 609.25,426.68 609.92,426.97 610.59,427.22 611.26,427.43 611.93,427.61 612.6,427.76 613.27,427.9 613.94,428.01 614.61,428.1 615.28,428.18 615.95,428.25 616.62,428.31 617.29,428.36 617.96,428.4 618.63,428.43 619.3,428.46 619.97,428.48 620.64,428.5 621.31,428.52 621.98,428.54 622.65,428.55 623.32,428.56 623.99,428.56 624.66,428.57 625.33,428.58 626,428.58" fill="none" stroke="#58aee4" stroke-width="1.25" stroke-linejoin="round"/>
<polyline points="540.25,428.6 540.92,428.6 541.59,428.6 542.26,428.6 542.93,428.6 543.6,428.6 544.27,428.6 544.94,428.6 545.61,428.6 546.28,428.6 546.95,428.6 547.62,428.6 548.29,428.6 548.96,428.6 549.63,428.6 550.3,428.6 550.97,428.6 551.64,428.6 552.31,428.6 552.98,428.6 553.65,428.6 554.32,428.6 554.99,428.6 555.66,428.6 556.33,428.6 557,428.6 557.67,428.6 558.34,428.6 559.01,428.6 559.68,428.6 560.35,428.6 561.02,428.6 561.69,428.6 562.36,428.6 563.03,428.6 563.7,428.6 564.37,428.6 565.04,428.6 565.71,428.6 566.38,428.6 567.05,428.6 567.72,428.6 568.39,428.6 569.06,428.6 569.73,428.6 570.4,428.6 571.07,428.6 571.74,428.59 572.41,428.59 573.08,428.57 573.75,428.54 574.42,428.47 575.09,428.35 575.76,428.13 576.43,427.73 577.1,427.08 577.77,426.01 578.44,424.37 579.11,421.91 579.78,418.41 580.45,414.02 581.12,407.7 581.79,399.37 582.46,390.04 583.12,379.85 583.79,370.29 584.46,356.49 585.13,346.03 585.8,339.55 586.47,336.25 587.14,328.45 587.81,329.25 588.48,334.04 589.15,341.86 589.82,347.47 590.49,350.82 591.16,356.66 591.83,364.24 592.5,369.89 593.17,375.27 593.84,380.35 594.51,382.93 595.18,388.67 595.85,393.67 596.52,397.65 597.19,399.76 597.86,403.93 598.53,406.44 599.2,409.43 599.87,410.88 600.54,413.54 601.21,415.24 601.88,416.93 602.55,418.44 603.22,419.77 603.89,420.95 604.56,421.98 605.23,422.89 605.9,423.69 606.57,424.38 607.24,424.98 607.91,425.5 608.58,425.96 609.25,426.35 609.92,426.69 610.59,426.98 611.26,427.22 611.93,427.44 612.6,427.62 613.27,427.77 613.94,427.91 614.61,428.02 615.28,428.11 615.95,428.19 616.62,428.26 617.29,428.32 617.96,428.36 618.63,428.4 619.3,428.44 619.97,428.46 620.64,428.49 621.31,428.51 621.98,428.52 622.65,428.54 623.32,428.55 623.99,428.56 624.66,428.57 625.33,428.57 626,428.58" fill="none" stroke="#7a9cc8" stroke-width="1.25" stroke-linejoin="round"/>
<polyline points="540.25,428.6 540.92,428.6 541.59,428.6 542.26,428.6 542.93,428.6 543.6,428.6 544.27,428.6 544.94,428.6 545.61,428.6 546.28,428.6 546.95,428.6 547.62,428.6 548.29,428.6 548.96,428.6 549.63,428.6 550.3,428.6 550.97,428.6 551.64,428.6 552.31,428.6 552.98,428.6 553.65,428.6 554.32,428.6 554.99,428.6 555.66,428.6 556.33,428.6 557,428.6 557.67,428.6 558.34,428.6 559.01,428.6 559.68,428.6 560.35,428.6 561.02,428.6 561.69,428.6 562.36,428.6 563.03,428.6 563.7,428.6 564.37,428.6 565.04,428.6 565.71,428.6 566.38,428.6 567.05,428.6 567.72,428.6 568.39,428.6 569.06,428.6 569.73,428.6 570.4,428.6 571.07,428.6 571.74,428.59 572.41,428.58 573.08,428.56 573.75,428.52 574.42,428.44 575.09,428.28 575.76,427.99 576.43,427.49 577.1,426.65 577.77,425.3 578.44,423.19 579.11,420.05 579.78,415.58 580.45,409.91 581.12,401.4 581.79,390.41 582.46,378.51 583.12,364.65 583.79,349.7 584.46,335.46 585.13,325.49 585.8,310.76 586.47,308.78 587.14,305.39 587.81,308.37 588.48,313.4 589.15,318.89 589.82,327.24 590.49,334.44 591.16,339.38 591.83,348.48 592.5,350.67 593.17,357.59 593.84,364 594.51,370.79 595.18,377.17 595.85,382.74 596.52,388.25 597.19,392.81 597.86,395.33 598.53,399.79 599.2,403.42 599.87,406.17 600.54,408.56 601.21,411.52 601.88,413.68 602.55,415.61 603.22,417.31 603.89,418.82 604.56,420.14 605.23,421.3 605.9,422.32 606.57,423.2 607.24,423.97 607.91,424.64 608.58,425.22 609.25,425.72 609.92,426.15 610.59,426.52 611.26,426.84 611.93,427.11 612.6,427.35 613.27,427.54 613.94,427.71 614.61,427.85 615.28,427.98 615.95,428.08 616.62,428.16 617.29,428.24 617.96,428.3 618.63,428.35 619.3,428.39 619.97,428.43 620.64,428.46 621.31,428.48 621.98,428.5 622.65,428.52 623.32,428.53 623.99,428.55 624.66,428.56 625.33,428.56 626,428.57" fill="none" stroke="#3b3bd6" stroke-width="1.25" stroke-linejoin="round"/>
<polyline points="540.25,428.6 540.92,428.6 541.59,428.6 542.26,428.6 542.93,428.6 543.6,428.6 544.27,428.6 544.94,428.6 545.61,428.6 546.28,428.6 546.95,428.6 547.62,428.6 548.29,428.6 548.96,428.6 549.63,428.6 550.3,428.6 550.97,428.6 551.64,428.6 552.31,428.6 552.98,428.6 553.65,428.6 554.32,428.6 554.99,428.6 555.66,428.6 556.33,428.6 557,428.6 557.67,428.6 558.34,428.6 559.01,428.6 559.68,428.6 560.35,428.6 561.02,428.6 561.69,428.6 562.36,428.6 563.03,428.6 563.7,428.6 564.37,428.6 565.04,428.6 565.71,428.6 566.38,428.6 567.05,428.6 567.72,428.6 568.39,428.6 569.06,428.6 569.73,428.6 570.4,428.6 571.07,428.6 571.74,428.59 572.41,428.58 573.08,428.55 573.75,428.5 574.42,428.4 575.09,428.21 575.76,427.86 576.43,427.25 577.1,426.23 577.77,424.58 578.44,422.02 579.11,418.21 579.78,412.77 580.45,405.49 581.12,395.31 581.79,384.03 582.46,368.99 583.12,355.17 583.79,338.27 584.46,314.79 585.13,304.56 585.8,291.4 586.47,278.18 587.14,272.26 587.81,278.95 588.48,284.09 589.15,295.5 589.82,305.37 590.49,309.41 591.16,317.61 591.83,327.94 592.5,337.72 593.17,346.33 593.84,352.82 594.51,358.78 595.18,365.93 595.85,374.38 596.52,379 597.19,382.96 597.86,389.09 598.53,393.18 599.2,398.26 599.87,400.77 600.54,404.5 601.21,407.84 601.88,410.47 602.55,412.81 603.22,414.88 603.89,416.71 604.56,418.32 605.23,419.73 605.9,420.96 606.57,422.04 607.24,422.98 607.91,423.79 608.58,424.5 609.25,425.1 609.92,425.63 610.59,426.08 611.26,426.46 611.93,426.79 612.6,427.08 613.27,427.32 613.94,427.52 614.61,427.69 615.28,427.84 615.95,427.96 616.62,428.07 617.29,428.16 617.96,428.23 618.63,428.29 619.3,428.35 619.97,428.39 620.64,428.43 621.31,428.46 621.98,428.48 622.65,428.5 623.32,428.52 623.99,428.53 624.66,428.55 625.33,428.56 626,428.56" fill="none" stroke="#8c48cc" stroke-width="1.25" stroke-linejoin="round"/>
<rect x="505.5" y="257.1" width="172.7" height="172.8" fill="none" stroke="#808080" stroke-width="1.1"/>
<line x1="505.5" y1="429.9" x2="678.2" y2="429.9" stroke="#333" stroke-width="1.2"/>
<line x1="505.5" y1="301.2" x2="508.1" y2="301.2" stroke="#444" stroke-width="1"/>
<line x1="505.5" y1="343.5" x2="508.1" y2="343.5" stroke="#444" stroke-width="1"/>
<line x1="505.5" y1="386.0" x2="508.1" y2="386.0" stroke="#444" stroke-width="1"/>
<line x1="523.1" y1="429.9" x2="523.1" y2="425.3" stroke="#333" stroke-width="1"/>
<text x="523.1" y="443.9" text-anchor="middle" class="s" font-size="12.5" fill="#000">1.78</text>
<line x1="540.25" y1="429.9" x2="540.25" y2="427.1" stroke="#333" stroke-width="1"/>
<line x1="557.4" y1="429.9" x2="557.4" y2="425.3" stroke="#333" stroke-width="1"/>
<text x="557.4" y="443.9" text-anchor="middle" class="s" font-size="12.5" fill="#000">1.80</text>
<line x1="574.55" y1="429.9" x2="574.55" y2="427.1" stroke="#333" stroke-width="1"/>
<line x1="591.7" y1="429.9" x2="591.7" y2="425.3" stroke="#333" stroke-width="1"/>
<text x="591.7" y="443.9" text-anchor="middle" class="s" font-size="12.5" fill="#000">1.82</text>
<line x1="608.85" y1="429.9" x2="608.85" y2="427.1" stroke="#333" stroke-width="1"/>
<line x1="626" y1="429.9" x2="626" y2="425.3" stroke="#333" stroke-width="1"/>
<text x="626" y="443.9" text-anchor="middle" class="s" font-size="12.5" fill="#000">1.84</text>
<line x1="643.15" y1="429.9" x2="643.15" y2="427.1" stroke="#333" stroke-width="1"/>
<line x1="660.3" y1="429.9" x2="660.3" y2="425.3" stroke="#333" stroke-width="1"/>
<text x="660.3" y="443.9" text-anchor="middle" class="s" font-size="12.5" fill="#000">1.86</text>
<text x="545.6" y="468.4" class="s" font-size="14.2" fill="#111" textLength="93.5" lengthAdjust="spacingAndGlyphs">(2, 2, L) r. l. u.</text>
<text transform="translate(491.8,349.3) rotate(-90)" text-anchor="middle" class="s" font-size="9.8" fill="#000">Intensity (a.u.)</text>
<line x1="509.5" y1="268.2" x2="529.6" y2="268.2" stroke="#8c48cc" stroke-width="1.15"/>
<text x="531.6" y="272" class="s" font-size="13.6" fill="#000">: 135 K</text>
<line x1="509.5" y1="282" x2="529.6" y2="282" stroke="#3b3bd6" stroke-width="1.15"/>
<text x="531.6" y="285.8" class="s" font-size="13.6" fill="#000">: 136 K</text>
<line x1="509.5" y1="295.8" x2="529.6" y2="295.8" stroke="#7a9cc8" stroke-width="2.1"/>
<text x="531.6" y="299.6" class="s" font-size="13.6" fill="#000">: 137 K</text>
<line x1="509.5" y1="309.6" x2="529.6" y2="309.6" stroke="#58aee4" stroke-width="1.15"/>
<text x="531.6" y="313.4" class="s" font-size="13.6" fill="#000">: 138 K</text>
<line x1="509.5" y1="323.4" x2="529.6" y2="323.4" stroke="#4cd0de" stroke-width="1.15"/>
<text x="531.6" y="327.2" class="s" font-size="13.6" fill="#000">: 139 K</text>
<line x1="605.2" y1="266.5" x2="624.9" y2="266.5" stroke="#80dab6" stroke-width="1.15"/>
<text x="627.6" y="270.3" class="s" font-size="13.6" fill="#000">: 140 K</text>
<line x1="605.2" y1="280.34" x2="624.9" y2="280.34" stroke="#50d650" stroke-width="1.15"/>
<text x="627.6" y="284.14" class="s" font-size="13.6" fill="#000">: 141 K</text>
<line x1="605.2" y1="294.18" x2="624.9" y2="294.18" stroke="#c8c02c" stroke-width="1.15"/>
<text x="627.6" y="297.98" class="s" font-size="13.6" fill="#000">: 142 K</text>
<line x1="605.2" y1="308.02" x2="624.9" y2="308.02" stroke="#dca040" stroke-width="1.15"/>
<text x="627.6" y="311.82" class="s" font-size="13.6" fill="#000">: 143 K</text>
<line x1="605.2" y1="321.86" x2="624.9" y2="321.86" stroke="#e6987a" stroke-width="1.15"/>
<text x="627.6" y="325.66" class="s" font-size="13.6" fill="#000">: 144 K</text>
<line x1="605.2" y1="335.7" x2="624.9" y2="335.7" stroke="#e68a8a" stroke-width="1.15"/>
<text x="627.6" y="339.5" class="s" font-size="13.6" fill="#000">: 145 K</text>
<line x1="518.6" y1="341.8" x2="546.8" y2="343" stroke="#b8b8b8" stroke-width="0.9"/>
<line x1="526.8" y1="339.5" x2="554.2" y2="340.5" stroke="#b8b8b8" stroke-width="0.9"/>
<line x1="518.6" y1="341.8" x2="526.8" y2="339.5" stroke="#b8b8b8" stroke-width="0.9"/>
<line x1="546.8" y1="343" x2="554.2" y2="340.5" stroke="#b8b8b8" stroke-width="0.9"/>
<line x1="518.6" y1="413.4" x2="547.1" y2="413.8" stroke="#b8b8b8" stroke-width="0.9"/>
<line x1="526.8" y1="411.5" x2="554.2" y2="411.9" stroke="#b8b8b8" stroke-width="0.9"/>
<line x1="518.6" y1="413.4" x2="526.8" y2="411.5" stroke="#b8b8b8" stroke-width="0.9"/>
<line x1="547.1" y1="413.8" x2="554.2" y2="411.9" stroke="#b8b8b8" stroke-width="0.9"/>
<line x1="518.6" y1="341.8" x2="518.6" y2="413.4" stroke="#b8b8b8" stroke-width="0.9"/>
<line x1="526.8" y1="339.5" x2="526.8" y2="411.5" stroke="#b8b8b8" stroke-width="0.9"/>
<line x1="546.8" y1="343" x2="547.1" y2="413.8" stroke="#b8b8b8" stroke-width="0.9"/>
<line x1="554.2" y1="340.5" x2="554.2" y2="411.9" stroke="#b8b8b8" stroke-width="0.9"/>
<circle cx="536.7" cy="350" r="3.0" fill="url(#gAl)"/>
<circle cx="522.8" cy="359.5" r="3.0" fill="url(#gAl)"/>
<circle cx="532.9" cy="360.1" r="3.0" fill="url(#gAl)"/>
<circle cx="540.5" cy="358.6" r="3.0" fill="url(#gAl)"/>
<circle cx="550.4" cy="359.5" r="3.0" fill="url(#gAl)"/>
<circle cx="518.6" cy="369.6" r="3.0" fill="url(#gAl)"/>
<circle cx="526.8" cy="367.7" r="3.0" fill="url(#gAl)"/>
<circle cx="546.6" cy="370" r="3.0" fill="url(#gAl)"/>
<circle cx="554.2" cy="368.1" r="3.0" fill="url(#gAl)"/>
<circle cx="518.6" cy="386.2" r="3.0" fill="url(#gAl)"/>
<circle cx="526.8" cy="384.9" r="3.0" fill="url(#gAl)"/>
<circle cx="546.6" cy="386.8" r="3.0" fill="url(#gAl)"/>
<circle cx="554.2" cy="385.2" r="3.0" fill="url(#gAl)"/>
<circle cx="522.8" cy="395.1" r="3.0" fill="url(#gAl)"/>
<circle cx="532.9" cy="396.3" r="3.0" fill="url(#gAl)"/>
<circle cx="540.5" cy="393.8" r="3.0" fill="url(#gAl)"/>
<circle cx="550.4" cy="395.7" r="3.0" fill="url(#gAl)"/>
<circle cx="536.7" cy="404.3" r="3.0" fill="url(#gAl)"/>
<circle cx="526.8" cy="339.5" r="4.9" fill="url(#gEu)"/>
<circle cx="518.6" cy="341.8" r="4.9" fill="url(#gEu)"/>
<circle cx="554.2" cy="340.5" r="4.9" fill="url(#gEu)"/>
<circle cx="546.6" cy="343" r="4.9" fill="url(#gEu)"/>
<circle cx="536.7" cy="376.7" r="4.9" fill="url(#gEu)"/>
<circle cx="526.8" cy="411.5" r="4.9" fill="url(#gEu)"/>
<circle cx="518.6" cy="413.4" r="4.9" fill="url(#gEu)"/>
<circle cx="554.2" cy="411.9" r="4.9" fill="url(#gEu)"/>
<circle cx="547.1" cy="413.8" r="4.9" fill="url(#gEu)"/>
<text x="560.8" y="344.9" class="s" font-size="10.5" fill="#000">Eu</text>
<text x="561" y="390.4" class="s" font-size="10.5" fill="#000">Al</text></g></svg>
</body></html>
